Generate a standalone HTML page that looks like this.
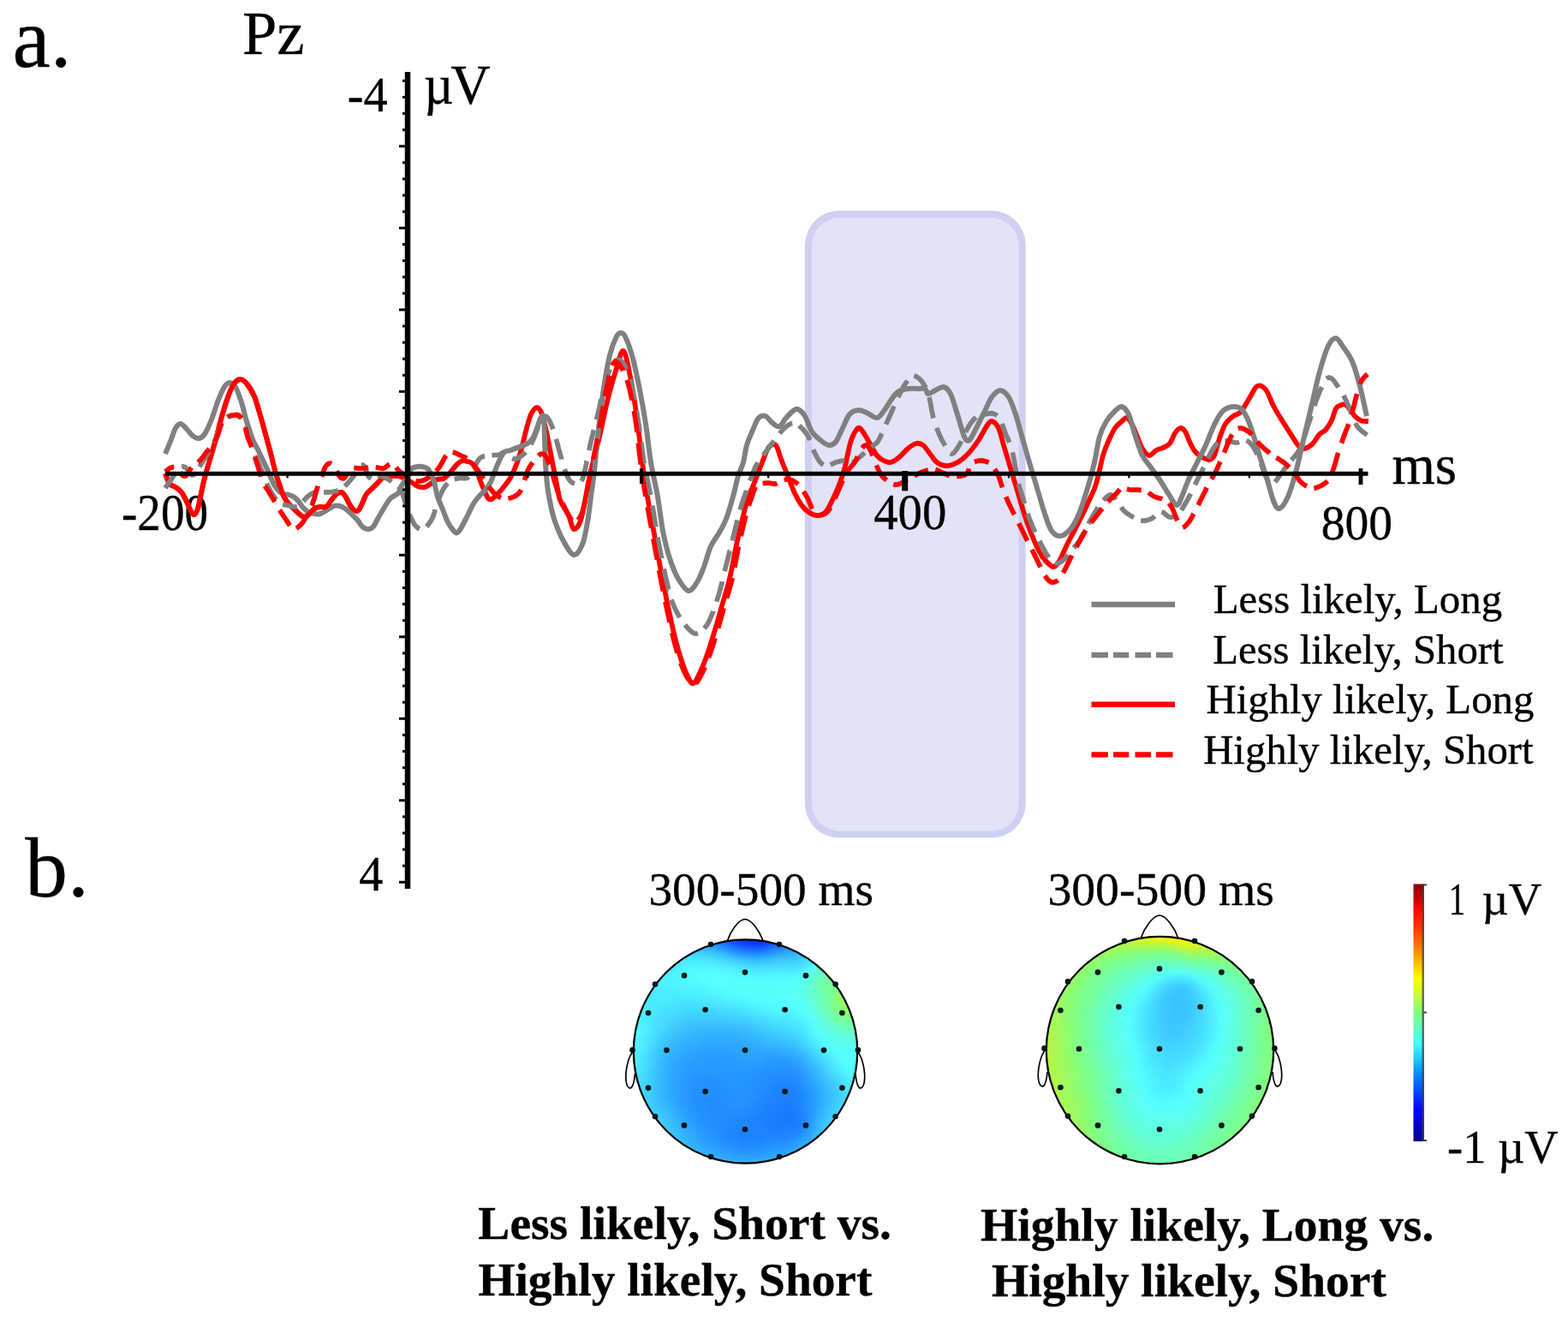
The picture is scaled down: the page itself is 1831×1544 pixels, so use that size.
<!DOCTYPE html>
<html lang="en"><head><meta charset="utf-8"><title>ERP figure</title>
<style>
html,body{margin:0;padding:0;background:#fff;}
body{width:1831px;height:1544px;overflow:hidden;}
svg{display:block;}
text{font-family:"Liberation Serif","Times New Roman",serif;fill:#000;stroke:#000;stroke-width:0.35px;}
.b{font-weight:bold;}
</style></head><body>
<svg width="1831" height="1544" viewBox="0 0 1831 1544">
<defs>
<linearGradient id="jet" x1="0" y1="0" x2="0" y2="1">
<stop offset="0" stop-color="#8a0000"/>
<stop offset="0.05" stop-color="#c00000"/>
<stop offset="0.10" stop-color="#ff0800"/>
<stop offset="0.16" stop-color="#ff3000"/>
<stop offset="0.25" stop-color="#ff8000"/>
<stop offset="0.37" stop-color="#ffff00"/>
<stop offset="0.50" stop-color="#80ff80"/>
<stop offset="0.62" stop-color="#40ffff"/>
<stop offset="0.75" stop-color="#0080ff"/>
<stop offset="0.88" stop-color="#0000ff"/>
<stop offset="1" stop-color="#000090"/>
</linearGradient>
<filter id="hb" x="-10%" y="-10%" width="120%" height="120%" color-interpolation-filters="sRGB"><feGaussianBlur stdDeviation="3.2"/></filter>
<filter id="soft" x="-20%" y="-20%" width="140%" height="140%"><feGaussianBlur stdDeviation="0.45"/></filter>
<clipPath id="clip1"><circle cx="870.5" cy="1228" r="131"/></clipPath>
<clipPath id="clip2"><circle cx="1354.5" cy="1226.6" r="133"/></clipPath>
</defs>
<rect x="0" y="0" width="1831" height="1544" fill="#fff"/>
<g id="window">
<rect x="940" y="246" width="257.7" height="732.6" rx="40" ry="40" fill="#cfd0f1"/>
<rect x="948" y="254.5" width="241.6" height="716" rx="32" ry="32" fill="#e2e3f7"/>
</g>
<g id="labels">
<text x="14.59" y="78.20" font-size="99.44">a.</text>
<text x="29.30" y="1047.30" font-size="99.51">b.</text>
<text x="282.92" y="62.90" font-size="72.51">Pz</text>
<text x="405.73" y="129.90" font-size="56.41">-4</text>
<text x="419.28" y="1040.00" font-size="56.12">4</text>
<text transform="translate(495.01 121.00) scale(0.9201 1)" font-size="65.00">µ</text>
<text transform="translate(526.36 121.00) scale(0.9890 1)" font-size="65.00">V</text>
<text x="1625.40" y="565.30" font-size="64.86">ms</text>
<text transform="translate(141.98 619.30) scale(0.9117 1)" font-size="60.45">-200</text>
<text transform="translate(1020.16 618.20) scale(0.9662 1)" font-size="58.80">400</text>
<text transform="translate(1542.66 629.50) scale(0.9625 1)" font-size="57.75">800</text>
<text x="1416.63" y="716.20" font-size="48.87">Less likely, Long</text>
<text x="1416.14" y="774.50" font-size="48.78">Less likely, Short</text>
<text x="1408.44" y="833.00" font-size="48.78">Highly likely, Long</text>
<text x="1405.14" y="891.50" font-size="48.75">Highly likely, Short</text>
<text x="757.42" y="1057.00" font-size="55.29">300-500 ms</text>
<text x="1223.40" y="1057.00" font-size="55.71">300-500 ms</text>
<text transform="translate(1691.82 1068.40) scale(0.7408 1)" font-size="52.43" font-family="&quot;Liberation Sans&quot;,Arial,sans-serif">1</text>
<text x="1730.51" y="1068.40" font-size="53.70">µV</text>
<text x="1690.11" y="1357.50" font-size="54.39">-1 µV</text>
<text x="558.37" y="1446.60" font-size="55.51" class="b">Less likely, Short vs.</text>
<text x="558.38" y="1512.60" font-size="55.39" class="b">Highly likely, Short</text>
<text x="1145.07" y="1449.00" font-size="55.54" class="b">Highly likely, Long vs.</text>
<text x="1158.08" y="1514.00" font-size="55.47" class="b">Highly likely, Short</text>
</g>
<g id="curves" fill="none" stroke-linejoin="round" stroke-linecap="butt">
<path d="M193.0 553.0 C193.8 555.0 196.0 562.3 198.0 565.0 C200.0 567.7 202.7 567.3 205.0 569.0 C207.3 570.7 209.8 572.2 212.0 575.0 C214.2 577.8 216.2 582.3 218.0 586.0 C219.8 589.7 221.5 594.5 223.0 597.0 C224.5 599.5 225.7 601.5 227.0 601.0 C228.3 600.5 229.7 598.2 231.0 594.0 C232.3 589.8 233.7 582.0 235.0 576.0 C236.3 570.0 237.3 564.5 239.0 558.0 C240.7 551.5 242.8 544.5 245.0 537.0 C247.2 529.5 249.8 520.8 252.0 513.0 C254.2 505.2 255.8 497.7 258.0 490.0 C260.2 482.3 262.7 473.7 265.0 467.0 C267.3 460.3 269.5 454.0 272.0 450.0 C274.5 446.0 277.3 443.3 280.0 443.0 C282.7 442.7 285.2 444.7 288.0 448.0 C290.8 451.3 294.5 457.3 297.0 463.0 C299.5 468.7 300.8 474.7 303.0 482.0 C305.2 489.3 307.7 498.5 310.0 507.0 C312.3 515.5 315.0 525.3 317.0 533.0 C319.0 540.7 320.3 547.2 322.0 553.0 C323.7 558.8 325.5 563.7 327.0 568.0 C328.5 572.3 329.5 575.8 331.0 579.0 C332.5 582.2 334.3 584.8 336.0 587.0 C337.7 589.2 339.3 590.3 341.0 592.0 C342.7 593.7 344.0 595.2 346.0 597.0 C348.0 598.8 351.0 602.0 353.0 603.0 C355.0 604.0 356.2 604.0 358.0 603.0 C359.8 602.0 362.2 598.7 364.0 597.0 C365.8 595.3 367.2 593.8 369.0 593.0 C370.8 592.2 373.0 592.2 375.0 592.0 C377.0 591.8 379.0 593.3 381.0 592.0 C383.0 590.7 385.0 586.5 387.0 584.0 C389.0 581.5 391.0 578.5 393.0 577.0 C395.0 575.5 397.2 574.3 399.0 575.0 C400.8 575.7 402.2 578.2 404.0 581.0 C405.8 583.8 407.8 589.3 410.0 592.0 C412.2 594.7 415.0 597.3 417.0 597.0 C419.0 596.7 420.2 593.3 422.0 590.0 C423.8 586.7 425.8 580.3 428.0 577.0 C430.2 573.7 432.7 572.3 435.0 570.0 C437.3 567.7 440.0 565.0 442.0 563.0 C444.0 561.0 444.7 559.2 447.0 558.0 C449.3 556.8 452.8 556.3 456.0 556.0 C459.2 555.7 462.0 554.8 466.0 556.0 C470.0 557.2 476.3 561.0 480.0 563.0 C483.7 565.0 485.3 567.0 488.0 568.0 C490.7 569.0 493.5 569.5 496.0 569.0 C498.5 568.5 500.7 566.5 503.0 565.0 C505.3 563.5 507.5 561.0 510.0 560.0 C512.5 559.0 515.7 560.0 518.0 559.0 C520.3 558.0 522.3 555.7 524.0 554.0 C525.7 552.3 526.3 551.0 528.0 549.0 C529.7 547.0 532.0 543.8 534.0 542.0 C536.0 540.2 538.0 538.5 540.0 538.0 C542.0 537.5 544.2 538.5 546.0 539.0 C547.8 539.5 549.3 539.5 551.0 541.0 C552.7 542.5 554.3 544.5 556.0 548.0 C557.7 551.5 559.3 557.7 561.0 562.0 C562.7 566.3 564.5 570.7 566.0 574.0 C567.5 577.3 568.7 580.5 570.0 582.0 C571.3 583.5 572.3 583.7 574.0 583.0 C575.7 582.3 577.7 580.3 580.0 578.0 C582.3 575.7 585.3 572.3 588.0 569.0 C590.7 565.7 593.3 562.8 596.0 558.0 C598.7 553.2 601.7 546.3 604.0 540.0 C606.3 533.7 608.2 526.7 610.0 520.0 C611.8 513.3 613.3 506.0 615.0 500.0 C616.7 494.0 618.0 488.0 620.0 484.0 C622.0 480.0 624.8 476.0 627.0 476.0 C629.2 476.0 631.2 479.3 633.0 484.0 C634.8 488.7 636.5 497.3 638.0 504.0 C639.5 510.7 640.7 517.2 642.0 524.0 C643.3 530.8 644.7 538.2 646.0 545.0 C647.3 551.8 648.7 558.5 650.0 565.0 C651.3 571.5 651.7 577.8 654.0 584.0 C656.3 590.2 661.3 596.3 664.0 602.0 C666.7 607.7 667.7 617.0 670.0 618.0 C672.3 619.0 675.7 614.3 678.0 608.0 C680.3 601.7 682.0 589.7 684.0 580.0 C686.0 570.3 687.3 561.7 690.0 550.0 C692.7 538.3 696.7 524.2 700.0 510.0 C703.3 495.8 706.7 478.3 710.0 465.0 C713.3 451.7 717.0 439.2 720.0 430.0 C723.0 420.8 725.3 408.3 728.0 410.0 C730.7 411.7 733.3 426.7 736.0 440.0 C738.7 453.3 741.7 473.3 744.0 490.0 C746.3 506.7 748.0 525.0 750.0 540.0 C752.0 555.0 753.7 566.0 756.0 580.0 C758.3 594.0 761.3 609.3 764.0 624.0 C766.7 638.7 769.3 654.0 772.0 668.0 C774.7 682.0 777.3 695.3 780.0 708.0 C782.7 720.7 785.3 733.3 788.0 744.0 C790.7 754.7 793.3 764.0 796.0 772.0 C798.7 780.0 801.7 787.7 804.0 792.0 C806.3 796.3 807.7 799.3 810.0 798.0 C812.3 796.7 815.3 789.7 818.0 784.0 C820.7 778.3 823.0 772.7 826.0 764.0 C829.0 755.3 833.0 742.0 836.0 732.0 C839.0 722.0 841.3 713.3 844.0 704.0 C846.7 694.7 849.3 687.3 852.0 676.0 C854.7 664.7 857.3 648.3 860.0 636.0 C862.7 623.7 865.7 611.3 868.0 602.0 C870.3 592.7 872.0 586.0 874.0 580.0 C876.0 574.0 877.3 572.7 880.0 566.0 C882.7 559.3 887.0 547.3 890.0 540.0 C893.0 532.7 895.3 525.3 898.0 522.0 C900.7 518.7 903.7 517.7 906.0 520.0 C908.3 522.3 909.7 530.0 912.0 536.0 C914.3 542.0 917.3 549.3 920.0 556.0 C922.7 562.7 925.3 570.3 928.0 576.0 C930.7 581.7 933.3 586.3 936.0 590.0 C938.7 593.7 941.0 596.0 944.0 598.0 C947.0 600.0 950.7 602.0 954.0 602.0 C957.3 602.0 961.0 601.0 964.0 598.0 C967.0 595.0 969.3 589.3 972.0 584.0 C974.7 578.7 977.7 572.0 980.0 566.0 C982.3 560.0 984.3 554.0 986.0 548.0 C987.7 542.0 988.7 535.7 990.0 530.0 C991.3 524.3 992.3 518.7 994.0 514.0 C995.7 509.3 998.3 504.3 1000.0 502.0 C1001.7 499.7 1002.3 499.0 1004.0 500.0 C1005.7 501.0 1007.7 504.3 1010.0 508.0 C1012.3 511.7 1015.7 518.0 1018.0 522.0 C1020.3 526.0 1021.7 529.3 1024.0 532.0 C1026.3 534.7 1029.3 536.7 1032.0 538.0 C1034.7 539.3 1037.0 540.7 1040.0 540.0 C1043.0 539.3 1046.7 536.7 1050.0 534.0 C1053.3 531.3 1056.7 526.7 1060.0 524.0 C1063.3 521.3 1067.0 518.7 1070.0 518.0 C1073.0 517.3 1075.3 518.0 1078.0 520.0 C1080.7 522.0 1083.3 526.7 1086.0 530.0 C1088.7 533.3 1091.0 537.7 1094.0 540.0 C1097.0 542.3 1100.7 543.7 1104.0 544.0 C1107.3 544.3 1110.7 543.3 1114.0 542.0 C1117.3 540.7 1120.7 538.7 1124.0 536.0 C1127.3 533.3 1130.7 530.0 1134.0 526.0 C1137.3 522.0 1141.0 516.7 1144.0 512.0 C1147.0 507.3 1149.7 501.3 1152.0 498.0 C1154.3 494.7 1155.7 491.7 1158.0 492.0 C1160.3 492.3 1163.7 495.3 1166.0 500.0 C1168.3 504.7 1170.0 513.3 1172.0 520.0 C1174.0 526.7 1176.0 533.3 1178.0 540.0 C1180.0 546.7 1182.0 553.3 1184.0 560.0 C1186.0 566.7 1188.0 573.3 1190.0 580.0 C1192.0 586.7 1193.8 593.3 1196.0 600.0 C1198.2 606.7 1200.7 613.8 1203.0 620.0 C1205.3 626.2 1207.7 632.0 1210.0 637.0 C1212.3 642.0 1214.7 646.5 1217.0 650.0 C1219.3 653.5 1221.8 656.0 1224.0 658.0 C1226.2 660.0 1228.0 662.2 1230.0 662.0 C1232.0 661.8 1234.2 659.5 1236.0 657.0 C1237.8 654.5 1239.0 651.2 1241.0 647.0 C1243.0 642.8 1245.5 637.0 1248.0 632.0 C1250.5 627.0 1253.3 622.2 1256.0 617.0 C1258.7 611.8 1261.3 606.5 1264.0 601.0 C1266.7 595.5 1269.3 590.0 1272.0 584.0 C1274.7 578.0 1277.3 573.7 1280.0 565.0 C1282.7 556.3 1285.7 540.2 1288.0 532.0 C1290.3 523.8 1291.7 521.3 1294.0 516.0 C1296.3 510.7 1299.3 504.0 1302.0 500.0 C1304.7 496.0 1307.7 494.0 1310.0 492.0 C1312.3 490.0 1314.0 487.3 1316.0 488.0 C1318.0 488.7 1320.0 492.3 1322.0 496.0 C1324.0 499.7 1326.0 505.3 1328.0 510.0 C1330.0 514.7 1331.7 520.3 1334.0 524.0 C1336.3 527.7 1339.3 531.7 1342.0 532.0 C1344.7 532.3 1347.3 527.5 1350.0 526.0 C1352.7 524.5 1355.3 524.3 1358.0 523.0 C1360.7 521.7 1363.7 520.8 1366.0 518.0 C1368.3 515.2 1370.0 509.0 1372.0 506.0 C1374.0 503.0 1376.0 500.3 1378.0 500.0 C1380.0 499.7 1382.0 501.0 1384.0 504.0 C1386.0 507.0 1388.0 514.0 1390.0 518.0 C1392.0 522.0 1393.7 525.3 1396.0 528.0 C1398.3 530.7 1401.3 532.5 1404.0 534.0 C1406.7 535.5 1409.7 537.3 1412.0 537.0 C1414.3 536.7 1416.0 536.2 1418.0 532.0 C1420.0 527.8 1421.8 518.2 1424.0 512.0 C1426.2 505.8 1428.3 499.3 1431.0 495.0 C1433.7 490.7 1437.0 488.3 1440.0 486.0 C1443.0 483.7 1445.8 484.5 1449.0 481.0 C1452.2 477.5 1455.8 470.0 1459.0 465.0 C1462.2 460.0 1464.8 452.7 1468.0 451.0 C1471.2 449.3 1474.8 451.2 1478.0 455.0 C1481.2 458.8 1483.8 468.0 1487.0 474.0 C1490.2 480.0 1493.8 485.8 1497.0 491.0 C1500.2 496.2 1503.0 500.3 1506.0 505.0 C1509.0 509.7 1512.3 515.8 1515.0 519.0 C1517.7 522.2 1519.2 524.0 1522.0 524.0 C1524.8 524.0 1528.8 521.8 1532.0 519.0 C1535.2 516.2 1538.3 509.8 1541.0 507.0 C1543.7 504.2 1545.7 504.7 1548.0 502.0 C1550.3 499.3 1553.0 495.2 1555.0 491.0 C1557.0 486.8 1558.2 480.0 1560.0 477.0 C1561.8 474.0 1564.2 473.8 1566.0 473.0 C1567.8 472.2 1569.2 471.5 1571.0 472.5 C1572.8 473.5 1575.0 476.6 1577.0 479.0 C1579.0 481.4 1580.8 484.9 1583.0 487.0 C1585.2 489.1 1587.5 490.7 1590.0 491.5 C1592.5 492.3 1596.7 491.9 1598.0 492.0" stroke="#ff0000" stroke-width="5.8"/>
<path d="M193.0 530.0 C194.2 527.2 198.0 518.0 200.0 513.0 C202.0 508.0 203.2 503.0 205.0 500.0 C206.8 497.0 208.8 494.8 211.0 495.0 C213.2 495.2 215.7 498.7 218.0 501.0 C220.3 503.3 222.7 507.2 225.0 509.0 C227.3 510.8 229.7 512.3 232.0 512.0 C234.3 511.7 236.5 510.7 239.0 507.0 C241.5 503.3 244.3 496.7 247.0 490.0 C249.7 483.3 252.5 473.3 255.0 467.0 C257.5 460.7 259.8 455.3 262.0 452.0 C264.2 448.7 265.8 447.0 268.0 447.0 C270.2 447.0 272.7 448.2 275.0 452.0 C277.3 455.8 279.8 463.3 282.0 470.0 C284.2 476.7 285.8 484.8 288.0 492.0 C290.2 499.2 292.7 507.2 295.0 513.0 C297.3 518.8 299.2 521.2 302.0 527.0 C304.8 532.8 309.0 541.5 312.0 548.0 C315.0 554.5 317.7 561.7 320.0 566.0 C322.3 570.3 324.0 572.2 326.0 574.0 C328.0 575.8 330.0 576.3 332.0 577.0 C334.0 577.7 336.0 577.3 338.0 578.0 C340.0 578.7 342.2 579.7 344.0 581.0 C345.8 582.3 347.3 584.0 349.0 586.0 C350.7 588.0 352.2 591.0 354.0 593.0 C355.8 595.0 357.8 596.8 360.0 598.0 C362.2 599.2 364.7 599.7 367.0 600.0 C369.3 600.3 371.3 600.8 374.0 600.0 C376.7 599.2 380.3 596.5 383.0 595.0 C385.7 593.5 387.7 591.7 390.0 591.0 C392.3 590.3 394.8 590.5 397.0 591.0 C399.2 591.5 401.2 592.8 403.0 594.0 C404.8 595.2 406.3 596.5 408.0 598.0 C409.7 599.5 411.3 601.3 413.0 603.0 C414.7 604.7 416.3 606.0 418.0 608.0 C419.7 610.0 421.0 613.3 423.0 615.0 C425.0 616.7 427.8 618.0 430.0 618.0 C432.2 618.0 434.2 617.0 436.0 615.0 C437.8 613.0 439.0 609.5 441.0 606.0 C443.0 602.5 445.5 598.0 448.0 594.0 C450.5 590.0 453.2 585.0 456.0 582.0 C458.8 579.0 462.8 578.5 465.0 576.0 C467.2 573.5 467.2 570.2 469.0 567.0 C470.8 563.8 474.2 560.2 476.0 557.0 C477.8 553.8 478.5 549.9 480.0 548.0 C481.5 546.1 483.3 546.0 485.0 545.5 C486.7 545.0 488.3 544.7 490.0 544.7 C491.7 544.7 493.3 545.0 495.0 545.5 C496.7 546.0 498.5 546.4 500.0 548.0 C501.5 549.6 502.8 552.5 504.0 555.0 C505.2 557.5 505.8 558.8 507.0 563.0 C508.2 567.2 509.3 574.7 511.0 580.0 C512.7 585.3 515.0 590.0 517.0 595.0 C519.0 600.0 521.0 606.0 523.0 610.0 C525.0 614.0 527.3 616.9 529.0 619.0 C530.7 621.1 531.7 622.5 533.0 622.5 C534.3 622.5 535.7 620.8 537.0 619.0 C538.3 617.2 539.3 615.2 541.0 612.0 C542.7 608.8 545.0 604.0 547.0 600.0 C549.0 596.0 550.8 591.5 553.0 588.0 C555.2 584.5 557.7 581.7 560.0 579.0 C562.3 576.3 564.8 574.7 567.0 572.0 C569.2 569.3 571.2 566.7 573.0 563.0 C574.8 559.3 576.3 554.2 578.0 550.0 C579.7 545.8 581.2 541.7 583.0 538.0 C584.8 534.3 586.8 530.0 589.0 528.0 C591.2 526.0 593.2 527.0 596.0 526.0 C598.8 525.0 602.7 523.3 606.0 522.0 C609.3 520.7 613.3 519.7 616.0 518.0 C618.7 516.3 620.2 515.0 622.0 512.0 C623.8 509.0 625.5 503.8 627.0 500.0 C628.5 496.2 629.8 491.3 631.0 489.0 C632.2 486.7 633.2 484.7 634.0 486.0 C634.8 487.3 635.1 491.3 635.5 497.0 C635.9 502.7 636.0 512.0 636.3 520.0 C636.6 528.0 636.7 536.7 637.2 545.0 C637.7 553.3 638.5 562.5 639.5 570.0 C640.5 577.5 641.6 583.5 643.0 590.0 C644.4 596.5 645.5 602.0 648.0 609.0 C650.5 616.0 654.3 625.5 658.0 632.0 C661.7 638.5 666.3 647.3 670.0 648.0 C673.7 648.7 677.3 642.3 680.0 636.0 C682.7 629.7 684.3 619.3 686.0 610.0 C687.7 600.7 688.7 590.0 690.0 580.0 C691.3 570.0 692.7 561.7 694.0 550.0 C695.3 538.3 696.3 525.0 698.0 510.0 C699.7 495.0 701.7 475.8 704.0 460.0 C706.3 444.2 709.3 426.2 712.0 415.0 C714.7 403.8 717.8 397.3 720.0 393.0 C722.2 388.7 723.3 389.0 725.0 389.0 C726.7 389.0 727.8 388.7 730.0 393.0 C732.2 397.3 735.3 405.5 738.0 415.0 C740.7 424.5 743.3 436.7 746.0 450.0 C748.7 463.3 751.7 480.0 754.0 495.0 C756.3 510.0 757.7 525.8 760.0 540.0 C762.3 554.2 765.7 566.7 768.0 580.0 C770.3 593.3 771.7 608.0 774.0 620.0 C776.3 632.0 779.0 642.7 782.0 652.0 C785.0 661.3 788.3 669.7 792.0 676.0 C795.7 682.3 800.3 689.3 804.0 690.0 C807.7 690.7 811.0 684.7 814.0 680.0 C817.0 675.3 819.3 669.0 822.0 662.0 C824.7 655.0 827.0 644.7 830.0 638.0 C833.0 631.3 837.0 627.3 840.0 622.0 C843.0 616.7 845.3 613.0 848.0 606.0 C850.7 599.0 853.7 588.3 856.0 580.0 C858.3 571.7 860.0 562.7 862.0 556.0 C864.0 549.3 866.3 546.0 868.0 540.0 C869.7 534.0 870.0 526.7 872.0 520.0 C874.0 513.3 877.7 505.3 880.0 500.0 C882.3 494.7 883.7 490.3 886.0 488.0 C888.3 485.7 891.3 485.0 894.0 486.0 C896.7 487.0 899.3 492.0 902.0 494.0 C904.7 496.0 907.3 499.0 910.0 498.0 C912.7 497.0 915.3 491.0 918.0 488.0 C920.7 485.0 923.7 481.7 926.0 480.0 C928.3 478.3 929.7 477.0 932.0 478.0 C934.3 479.0 937.3 481.7 940.0 486.0 C942.7 490.3 945.0 499.3 948.0 504.0 C951.0 508.7 954.7 511.3 958.0 514.0 C961.3 516.7 965.0 519.7 968.0 520.0 C971.0 520.3 973.3 519.3 976.0 516.0 C978.7 512.7 981.3 505.3 984.0 500.0 C986.7 494.7 989.0 487.5 992.0 484.0 C995.0 480.5 998.7 479.3 1002.0 479.0 C1005.3 478.7 1008.3 480.5 1012.0 482.0 C1015.7 483.5 1020.7 488.3 1024.0 488.0 C1027.3 487.7 1029.3 483.3 1032.0 480.0 C1034.7 476.7 1037.3 471.7 1040.0 468.0 C1042.7 464.3 1044.7 460.3 1048.0 458.0 C1051.3 455.7 1056.0 454.7 1060.0 454.0 C1064.0 453.3 1068.7 454.0 1072.0 454.0 C1075.3 454.0 1078.0 453.0 1080.0 454.0 C1082.0 455.0 1082.0 459.7 1084.0 460.0 C1086.0 460.3 1089.0 457.3 1092.0 456.0 C1095.0 454.7 1099.0 451.3 1102.0 452.0 C1105.0 452.7 1107.3 454.7 1110.0 460.0 C1112.7 465.3 1115.3 475.7 1118.0 484.0 C1120.7 492.3 1123.7 505.0 1126.0 510.0 C1128.3 515.0 1129.7 515.7 1132.0 514.0 C1134.3 512.3 1137.0 505.7 1140.0 500.0 C1143.0 494.3 1147.0 486.0 1150.0 480.0 C1153.0 474.0 1155.0 468.0 1158.0 464.0 C1161.0 460.0 1164.7 456.0 1168.0 456.0 C1171.3 456.0 1175.0 459.3 1178.0 464.0 C1181.0 468.7 1183.3 476.0 1186.0 484.0 C1188.7 492.0 1191.3 502.7 1194.0 512.0 C1196.7 521.3 1199.7 532.0 1202.0 540.0 C1204.3 548.0 1206.0 553.3 1208.0 560.0 C1210.0 566.7 1212.0 573.3 1214.0 580.0 C1216.0 586.7 1217.7 593.3 1220.0 600.0 C1222.3 606.7 1225.0 615.7 1228.0 620.0 C1231.0 624.3 1234.3 626.3 1238.0 626.0 C1241.7 625.7 1246.3 622.3 1250.0 618.0 C1253.7 613.7 1256.7 608.0 1260.0 600.0 C1263.3 592.0 1267.0 580.0 1270.0 570.0 C1273.0 560.0 1275.7 550.0 1278.0 540.0 C1280.3 530.0 1281.7 518.0 1284.0 510.0 C1286.3 502.0 1289.0 497.0 1292.0 492.0 C1295.0 487.0 1299.0 482.8 1302.0 480.0 C1305.0 477.2 1307.3 474.3 1310.0 475.0 C1312.7 475.7 1315.3 478.2 1318.0 484.0 C1320.7 489.8 1323.3 502.0 1326.0 510.0 C1328.7 518.0 1331.0 526.0 1334.0 532.0 C1337.0 538.0 1340.7 541.3 1344.0 546.0 C1347.3 550.7 1350.7 555.0 1354.0 560.0 C1357.3 565.0 1360.7 571.0 1364.0 576.0 C1367.3 581.0 1371.3 589.3 1374.0 590.0 C1376.7 590.7 1377.7 585.0 1380.0 580.0 C1382.3 575.0 1385.0 566.7 1388.0 560.0 C1391.0 553.3 1394.7 546.7 1398.0 540.0 C1401.3 533.3 1404.7 527.3 1408.0 520.0 C1411.3 512.7 1414.7 502.7 1418.0 496.0 C1421.3 489.3 1424.3 483.5 1428.0 480.0 C1431.7 476.5 1436.3 475.3 1440.0 475.0 C1443.7 474.7 1447.0 475.2 1450.0 478.0 C1453.0 480.8 1455.3 485.7 1458.0 492.0 C1460.7 498.3 1463.8 509.2 1466.0 516.0 C1468.2 522.8 1468.7 525.5 1471.0 533.0 C1473.3 540.5 1477.3 552.3 1480.0 561.0 C1482.7 569.7 1484.7 579.5 1487.0 585.0 C1489.3 590.5 1491.2 594.8 1494.0 594.0 C1496.8 593.2 1500.8 587.0 1504.0 580.0 C1507.2 573.0 1510.0 563.0 1513.0 552.0 C1516.0 541.0 1518.8 527.3 1522.0 514.0 C1525.2 500.7 1528.8 485.3 1532.0 472.0 C1535.2 458.7 1537.8 445.3 1541.0 434.0 C1544.2 422.7 1547.8 410.5 1551.0 404.0 C1554.2 397.5 1557.0 394.7 1560.0 395.0 C1563.0 395.3 1565.8 401.5 1569.0 406.0 C1572.2 410.5 1575.8 414.5 1579.0 422.0 C1582.2 429.5 1585.2 440.3 1588.0 451.0 C1590.8 461.7 1594.7 480.2 1596.0 486.0" stroke="#808080" stroke-width="6.0"/>
<path d="M193.0 553.0 C193.8 555.0 196.0 562.3 198.0 565.0 C200.0 567.7 202.7 567.3 205.0 569.0 C207.3 570.7 209.8 572.2 212.0 575.0 C214.2 577.8 216.2 582.3 218.0 586.0 C219.8 589.7 221.5 594.5 223.0 597.0 C224.5 599.5 225.7 601.5 227.0 601.0 C228.3 600.5 229.7 598.2 231.0 594.0 C232.3 589.8 233.7 582.0 235.0 576.0 C236.3 570.0 237.3 564.5 239.0 558.0 C240.7 551.5 242.8 544.5 245.0 537.0 C247.2 529.5 249.8 520.8 252.0 513.0 C254.2 505.2 255.8 497.7 258.0 490.0 C260.2 482.3 262.7 473.7 265.0 467.0 C267.3 460.3 269.5 454.0 272.0 450.0 C274.5 446.0 277.3 443.3 280.0 443.0 C282.7 442.7 285.2 444.7 288.0 448.0 C290.8 451.3 294.5 457.3 297.0 463.0 C299.5 468.7 300.8 474.7 303.0 482.0 C305.2 489.3 307.7 498.5 310.0 507.0 C312.3 515.5 315.0 525.3 317.0 533.0 C319.0 540.7 320.3 547.2 322.0 553.0 C323.7 558.8 325.5 563.7 327.0 568.0 C328.5 572.3 329.5 575.8 331.0 579.0 C332.5 582.2 334.3 584.8 336.0 587.0 C337.7 589.2 339.3 590.3 341.0 592.0 C342.7 593.7 344.0 595.2 346.0 597.0 C348.0 598.8 351.0 602.0 353.0 603.0 C355.0 604.0 356.2 604.0 358.0 603.0 C359.8 602.0 362.2 598.7 364.0 597.0 C365.8 595.3 367.2 593.8 369.0 593.0 C370.8 592.2 373.0 592.2 375.0 592.0 C377.0 591.8 379.0 593.3 381.0 592.0 C383.0 590.7 385.0 586.5 387.0 584.0 C389.0 581.5 391.0 578.5 393.0 577.0 C395.0 575.5 397.2 574.3 399.0 575.0 C400.8 575.7 402.2 578.2 404.0 581.0 C405.8 583.8 407.8 589.3 410.0 592.0 C412.2 594.7 415.0 597.3 417.0 597.0 C419.0 596.7 420.2 593.3 422.0 590.0 C423.8 586.7 425.8 580.3 428.0 577.0 C430.2 573.7 432.7 572.3 435.0 570.0 C437.3 567.7 440.0 565.0 442.0 563.0 C444.0 561.0 444.7 559.2 447.0 558.0 C449.3 556.8 452.8 556.3 456.0 556.0 C459.2 555.7 464.3 556.0 466.0 556.0" stroke="#ff0000" stroke-width="5.8"/>
<path d="M193.0 570.0L193.9 568.7L195.2 566.8L196.8 564.6L198.4 562.3L200.0 560.0L201.3 558.0L202.6 555.8L204.0 553.6L205.0 552.0M212.1 545.3L214.0 544.9L216.1 545.5L218.1 547.6L220.0 550.0L222.0 552.6L223.9 554.8L225.8 554.7L226.7 553.9M232.9 545.2L233.7 544.0L235.1 541.7L236.5 539.4L238.0 537.0L239.3 534.9L240.7 532.8L242.1 530.6L243.4 528.3L244.5 526.6M249.9 516.7L250.5 515.4L251.5 513.2L252.4 510.9L253.3 508.5L254.1 506.1L254.9 503.6L255.7 501.2L256.6 499.0L257.6 496.8L258.6 494.9M265.2 487.1L267.6 485.8L270.0 485.0L272.6 484.8L275.4 485.1L278.0 486.0L280.1 487.1L281.6 488.2M287.3 497.4L288.1 499.8L288.9 502.3L289.6 504.8L290.4 507.2L291.0 509.5L291.7 511.8L292.3 514.2L293.0 516.5L293.6 518.8L294.2 520.6M298.2 531.9L299.0 534.0L300.0 536.5L301.0 538.9L302.0 541.3L303.0 543.6L304.0 546.0L305.0 548.4L306.0 550.8L307.0 553.2L307.2 553.6M311.6 564.5L312.4 566.5L313.5 568.9L314.6 571.2L315.9 573.6L317.2 575.8L318.6 578.0L320.0 580.0L321.7 582.3L322.7 583.6M330.1 589.2L332.1 589.6L335.0 590.0L337.4 590.6L340.1 591.4L342.7 591.9L345.0 592.0L347.0 591.5M354.4 585.4L355.4 584.1L357.1 581.9L359.0 580.0L361.1 578.4L363.3 577.0L365.6 575.8L368.0 575.0L369.5 574.7M378.0 575.0L379.1 575.0L381.5 574.9L384.0 574.8L386.5 574.6L388.9 574.2L391.3 573.7L393.8 573.2L394.9 572.8M402.6 567.7L404.4 566.0L406.3 564.0L408.2 561.9L410.0 559.8L411.6 557.8L413.0 556.0L414.6 553.4L415.6 551.5M421.7 543.2L423.9 543.2L425.5 544.7L426.6 546.9L427.6 549.8L428.5 552.7L429.5 555.1L431.2 557.5L433.5 558.9M441.2 555.1L443.5 555.5L446.2 556.4L448.8 557.5L451.2 558.6L453.5 559.8L455.6 561.2L457.4 562.5M465.1 568.1L466.3 569.4L468.0 572.0L468.9 573.8L469.7 575.8L470.5 578.1L471.3 580.6L472.1 583.2L472.9 585.8L473.6 588.4L473.9 589.4M477.9 600.7L478.7 602.5L479.6 604.3L480.5 606.1L481.7 608.3L483.1 610.9L484.5 613.2L486.0 615.0L488.3 616.8L490.0 617.6M498.0 615.0L499.4 613.5L500.9 611.6L502.4 609.6L503.8 607.3L505.0 605.0L505.9 602.8L506.7 600.4L507.4 597.9L508.0 595.5L508.1 595.1M511.9 583.7L512.5 582.3L513.5 579.9L514.4 577.7L515.5 575.4L516.6 573.1L517.8 571.0L519.0 569.0L520.6 566.8L522.3 564.9L522.8 564.4M530.6 559.6L531.9 559.3L534.5 558.9L537.0 558.5L539.7 558.4L542.4 558.6L544.9 558.4L546.9 557.4L547.3 557.0M553.2 547.8L554.3 545.5L555.4 543.1L556.4 540.9L557.8 538.7L559.2 536.5L560.9 534.7L563.0 533.6L565.3 532.9L566.0 532.8M574.4 531.8L575.7 531.7L578.3 531.5L580.8 531.3L583.0 531.0L585.5 529.7L587.6 528.3L590.0 528.0L591.0 528.5M598.1 535.3L600.0 536.0L602.1 535.9L604.3 535.2L606.6 534.1L608.8 532.7L611.0 530.9L612.7 529.3L613.8 528.1M619.8 519.1L620.8 517.3L622.0 515.0L623.0 512.8L624.1 510.4L625.1 507.9L626.0 505.3L626.9 502.7L627.9 500.2L628.7 497.9L628.9 497.6M634.1 487.5L634.7 486.8L636.0 486.0L637.7 486.3L639.4 487.9L641.1 490.5L642.4 492.8L643.3 494.7L644.1 496.7L645.0 499.0L645.8 501.3M649.4 512.8L649.9 514.6L650.5 516.9L651.2 519.4L651.8 521.8L652.4 524.2L653.1 526.6L653.7 528.9L654.4 531.2L655.1 533.8L655.8 536.3L655.8 536.5M659.3 548.1L660.0 550.0L661.1 552.8L662.1 555.3L663.1 557.6L664.2 559.6L665.4 561.3L667.1 563.0L669.4 564.3L671.1 564.8M679.0 561.9L680.0 560.0L680.6 558.4L681.2 556.4L681.8 554.2L682.4 551.8L683.0 549.3L683.6 546.6L684.1 544.0L684.7 541.3L685.2 538.9L685.4 538.4M687.8 526.2L688.3 523.9L688.8 521.4L689.4 518.7L690.0 516.0L690.5 513.9L691.0 511.7L691.6 509.5L692.2 507.2L692.7 504.8L693.3 502.4L693.4 502.1M696.5 490.2L696.8 488.9L697.4 486.5L698.0 484.0L698.6 481.7L699.1 479.3L699.7 476.9L700.2 474.4L700.8 472.0L701.3 469.5L701.9 467.0L702.1 466.1M704.9 454.1L705.2 453.0L705.7 451.0L706.4 448.5L707.3 445.7L708.1 443.0L708.9 440.4L709.8 438.0L710.6 435.7L711.5 433.5L712.3 431.5L712.4 431.3M718.1 422.0L719.3 421.0L721.1 420.1L722.9 420.1L724.7 420.9L726.4 422.5L728.2 424.8L730.0 428.0L730.8 429.6L731.5 431.3L731.7 431.6M735.6 442.9L736.1 444.6L736.9 447.4L737.6 450.4L738.2 452.9L738.7 454.9L739.1 456.9L739.5 459.1L740.0 461.3L740.4 463.6L740.9 466.0L741.1 467.0M743.3 479.3L743.6 481.0L744.0 483.6L744.4 486.1L744.8 488.6L745.2 491.1L745.6 493.6L746.0 496.0L746.4 498.4L746.7 500.8L747.1 503.2L747.2 504.1M748.8 516.6L749.1 518.9L749.4 521.3L749.7 523.6L750.0 526.0L750.3 528.4L750.6 530.8L750.9 533.1L751.3 535.4L751.6 537.7L752.0 540.0L752.3 541.6M754.6 553.8L755.0 555.7L755.5 558.0L756.0 560.3L756.5 562.7L757.0 565.0L757.5 567.4L758.0 569.8L758.5 572.3L759.0 574.8L759.5 577.4L759.7 578.2M761.8 590.5L762.2 592.8L762.6 595.3L763.0 597.8L763.4 600.3L763.8 602.8L764.2 605.2L764.6 607.7L765.0 610.2L765.4 612.7L765.8 615.2L765.8 615.3M767.9 627.6L768.2 629.3L768.7 632.0L769.2 634.6L769.7 637.2L770.2 639.7L770.7 642.2L771.2 644.7L771.6 647.2L772.1 649.6L772.6 652.0L772.6 652.1M775.2 664.3L775.5 665.8L776.0 668.0L776.6 670.7L777.2 673.3L777.8 675.9L778.4 678.5L779.0 681.0L779.6 683.5L780.1 686.0L780.7 688.4L780.8 688.4M784.0 700.2L785.0 703.0L786.0 705.6L787.0 708.0L788.0 710.2L789.0 712.3L790.0 714.2L791.0 716.1L792.0 718.0L793.3 720.4L793.7 721.1M799.8 729.8L800.8 730.9L802.5 732.8L804.3 734.8L806.2 736.7L808.2 738.3L810.1 739.5L812.0 740.0L814.0 739.8L814.9 739.5M822.4 733.8L824.0 732.0L825.4 730.2L826.6 728.2L827.7 726.1L828.8 723.8L829.8 721.4L830.9 718.8L832.0 716.0L832.8 714.1L832.8 713.9M836.8 702.7L837.3 700.9L838.1 698.4L838.9 695.9L839.6 693.3L840.3 691.0L840.9 688.8L841.5 686.6L842.1 684.3L842.7 681.9L843.3 679.5L843.3 679.2M846.2 667.2L846.8 664.8L847.4 662.4L848.0 660.0L848.6 657.6L849.2 655.3L849.8 652.9L850.4 650.5L851.0 648.1L851.6 645.8L852.1 643.4L852.2 643.3M855.2 631.3L855.7 629.2L856.3 626.8L856.9 624.4L857.5 622.0L858.1 619.5L858.7 617.0L859.3 614.6L859.9 612.1L860.4 609.7L861.0 607.4M864.1 595.5L864.8 593.4L865.6 590.8L866.3 588.3L867.1 585.9L867.9 583.6L868.7 581.3L869.5 579.1L870.2 577.0L871.0 574.9L871.7 573.0L871.7 572.7M875.8 561.6L876.3 560.2L877.2 558.1L878.0 556.0L878.9 553.6L879.6 551.5L880.4 549.4L881.3 547.2L882.4 544.8L884.0 542.0L885.1 540.3M891.2 531.5L892.2 530.3L893.8 528.2L895.4 526.1L897.0 524.0L898.5 522.0L900.0 520.0L901.5 518.0L903.1 515.9L904.0 514.7M910.4 506.3L911.7 504.6L913.2 502.9L914.6 501.4L916.0 500.0L918.5 497.9L920.8 496.3L923.0 495.1L925.1 494.4L925.2 494.4M933.2 497.0L935.0 499.0L936.8 500.8L938.5 502.5L940.1 504.4L941.7 506.4L943.3 508.7L944.5 511.0L945.4 513.1L945.7 513.9M949.6 525.2L950.5 527.2L951.7 529.6L952.9 532.0L954.2 534.3L955.5 536.5L956.7 538.4L958.0 540.0L960.2 542.1L961.5 542.9M969.8 542.9L972.2 541.7L974.7 540.5L977.2 539.6L979.8 538.9L982.2 538.4L984.8 538.0L986.4 538.0M994.8 540.2L997.0 539.6L998.9 538.5L1000.8 536.9L1002.7 535.0L1004.8 533.0L1006.8 531.3L1008.7 529.8L1009.8 528.8M1017.2 522.5L1018.5 521.3L1020.0 520.0L1022.1 518.4L1023.4 517.7L1024.9 515.9L1026.4 513.3L1027.3 511.5L1028.3 509.5L1029.3 507.3L1029.8 506.3M1034.6 495.7L1035.5 493.5L1036.6 491.1L1037.6 489.0L1038.6 486.7L1039.7 484.2L1040.7 481.9L1041.7 479.7L1042.6 477.6L1043.5 475.5L1044.0 474.4M1048.8 464.0L1049.8 461.9L1051.0 459.4L1052.2 457.1L1053.3 454.8L1054.4 452.7L1055.5 450.8L1056.9 448.6L1058.7 446.3L1059.9 444.8M1067.3 438.9L1068.8 439.3L1070.7 440.3L1072.8 441.7L1075.0 443.8L1076.6 445.8L1077.8 447.4L1078.9 449.2L1080.1 451.1L1081.0 452.8M1085.1 464.0L1085.4 465.3L1085.9 467.8L1086.4 470.3L1086.9 472.9L1087.4 475.5L1087.8 478.2L1088.3 480.8L1088.9 483.3L1089.4 485.7L1090.0 488.0L1090.1 488.3M1093.8 499.8L1094.5 501.6L1095.4 503.8L1096.3 506.0L1097.1 508.1L1098.0 510.0L1099.3 512.7L1100.5 515.2L1101.8 517.5L1103.1 519.6L1103.7 520.5M1109.8 529.3L1111.1 530.1L1112.7 529.7L1114.2 528.5L1115.8 526.6L1117.4 524.2L1119.1 521.5L1120.5 519.1L1121.6 517.2L1122.5 515.2M1127.5 504.7L1128.3 503.0L1129.4 501.0L1130.8 498.7L1132.3 496.3L1133.8 494.0L1135.4 491.9L1136.9 490.0L1138.5 488.4L1139.7 487.3M1147.9 484.3L1150.0 484.0L1152.5 483.4L1155.1 482.9L1157.6 482.6L1160.0 483.0L1162.2 484.0L1164.2 485.4L1164.4 485.6M1170.2 494.8L1170.7 496.3L1171.5 498.8L1172.3 501.3L1173.2 503.7L1174.0 506.0L1175.0 508.4L1176.1 510.7L1177.1 513.0L1178.1 515.3L1178.8 516.7M1182.3 528.3L1182.8 530.4L1183.4 533.1L1184.0 536.0L1184.4 538.1L1184.8 540.4L1185.1 542.7L1185.5 545.2L1185.9 547.8L1186.3 550.3L1186.7 552.8L1186.7 552.9M1189.3 565.0L1190.0 567.4L1190.7 569.7L1191.4 572.0L1192.2 574.2L1192.9 576.5L1193.6 578.8L1194.3 581.2L1195.0 583.5L1195.7 585.9L1196.4 588.2M1199.9 599.8L1200.4 601.2L1201.3 603.6L1202.2 606.0L1203.2 608.4L1204.1 610.9L1205.1 613.2L1206.1 615.6L1207.0 617.8L1208.0 620.0L1208.7 621.6M1213.8 631.8L1214.9 633.9L1216.0 636.0L1217.2 638.3L1218.4 640.7L1219.6 642.9L1220.8 645.1L1222.0 647.2L1223.3 649.1L1224.9 651.1M1232.2 657.5L1234.0 658.0L1236.3 657.7L1238.6 656.5L1240.8 654.8L1243.0 652.9L1244.9 651.2L1246.5 649.3L1247.4 648.2M1253.8 639.9L1255.0 638.6L1256.5 636.9L1258.1 634.8L1260.0 632.0L1261.0 630.3L1262.1 628.3L1263.3 626.2L1264.5 624.0L1265.7 621.8M1271.0 611.8L1272.0 610.0L1273.3 607.8L1274.5 605.5L1275.8 603.3L1277.1 601.0L1278.3 598.8L1279.6 596.7L1280.8 594.6L1282.1 592.7L1282.1 592.6M1288.6 584.3L1290.2 582.4L1292.0 580.6L1293.7 579.2L1295.3 578.3L1297.2 577.8L1299.3 578.7L1301.2 580.5L1303.0 582.8L1303.3 583.2M1309.3 592.2L1310.0 593.3L1311.3 595.2L1313.0 597.0L1314.8 598.7L1316.7 600.0L1318.8 601.3L1320.9 602.6L1323.0 603.9L1324.0 604.5M1332.1 608.0L1334.4 608.2L1336.8 608.1L1339.2 607.6L1341.6 606.9L1344.0 606.0L1346.0 604.9L1348.1 603.3L1348.5 602.9M1356.2 598.0L1358.4 598.6L1360.6 600.3L1362.7 602.2L1364.9 603.7L1367.2 604.1L1369.8 603.7L1372.2 602.8M1379.4 596.0L1380.7 594.0L1382.0 591.9L1383.3 589.6L1384.7 587.3L1386.0 585.0L1387.1 583.0L1388.2 580.9L1389.3 578.7L1390.4 576.6M1395.4 566.3L1396.0 565.0L1397.1 562.8L1398.2 560.6L1399.3 558.3L1400.4 556.1L1401.6 553.9L1402.7 551.7L1403.8 549.4L1404.9 547.2L1405.6 545.9M1410.5 535.5L1411.1 534.3L1412.3 532.0L1413.4 529.8L1414.4 527.7L1415.5 525.8L1416.9 523.6L1418.5 521.2L1420.0 519.3L1421.5 517.8L1422.2 517.2M1430.4 514.8L1432.7 514.9L1435.2 515.1L1437.8 515.8L1440.2 516.5L1442.8 517.0L1445.3 516.8L1447.2 516.1M1455.5 514.4L1457.1 515.2L1459.1 516.7L1461.0 518.8L1462.6 520.8L1463.7 522.5L1464.9 524.4L1466.0 526.6L1467.1 528.8L1468.1 530.8M1472.6 541.6L1473.2 543.2L1474.1 545.8L1475.0 548.4L1475.9 550.8L1476.7 553.1L1477.6 555.1L1478.7 557.5L1480.1 560.4L1481.4 562.9L1481.6 563.2M1488.9 563.0L1490.6 560.8L1492.3 558.3L1494.0 556.0L1495.3 554.2L1496.7 552.4L1498.0 550.5L1499.4 548.5L1500.8 546.4L1501.4 545.6M1507.9 537.4L1509.0 536.1L1510.6 534.4L1512.2 532.6L1513.7 530.6L1515.2 528.6L1516.7 526.4L1518.0 524.0L1518.9 522.1L1519.8 520.0L1519.9 519.7M1523.8 508.4L1524.6 506.0L1525.3 503.5L1526.1 501.0L1526.8 498.6L1527.6 496.2L1528.4 493.9L1529.2 491.5L1530.0 489.1L1530.7 486.7L1531.2 485.4M1534.9 474.0L1535.5 472.2L1536.2 470.0L1536.9 467.9L1537.7 465.9L1538.6 463.5L1539.7 460.7L1540.7 458.1L1541.8 455.6L1542.8 453.4L1543.5 452.0M1549.0 442.4L1550.2 441.4L1552.2 440.8L1554.7 441.9L1556.7 443.7L1558.1 445.4L1559.6 447.5L1561.2 449.8L1562.7 452.0L1563.0 452.5M1568.9 461.8L1569.6 463.1L1570.7 465.4L1571.9 467.8L1572.9 470.2L1574.0 472.6L1575.0 475.0L1576.0 477.4L1576.9 479.9L1577.8 482.3L1578.1 483.1M1582.7 493.9L1583.3 495.1L1584.4 497.1L1585.8 499.1L1587.4 500.9L1589.2 502.5L1591.0 504.0L1593.1 505.6L1595.4 507.3L1596.5 508.0" stroke="#808080" stroke-width="5.7"/>
<path d="M193.0 551.0L194.5 549.8L196.6 548.0L198.9 546.4L201.4 545.7L203.2 545.7M210.4 551.5L211.6 553.4L213.0 555.0L215.6 556.0L218.0 555.0L219.4 553.2L220.7 550.7L222.2 548.1L223.8 546.2M231.2 539.9L232.7 538.5L234.4 536.8L236.0 535.0L237.4 533.2L238.6 531.3L240.1 529.2L241.7 527.2L243.3 525.5L244.5 524.3M251.0 516.2L251.8 514.5L252.8 512.1L253.7 509.7L254.6 507.2L255.4 504.8L256.2 502.2L256.9 499.6L257.7 497.2L258.5 495.0L259.1 493.8M266.3 487.2L268.4 486.1L270.8 485.3L273.4 484.7L276.3 484.2L279.0 485.0L280.4 486.3L281.8 488.0L282.2 488.5M286.5 499.3L287.0 501.3L287.6 504.0L288.1 506.6L288.7 508.9L289.5 511.5L290.4 513.7L291.3 515.7L292.4 518.3L293.3 520.9L293.8 522.3M297.6 533.6L298.4 536.1L299.2 538.6L300.0 541.0L300.7 543.3L301.5 545.8L302.2 548.3L303.0 550.8L303.7 553.3L304.5 555.7L304.8 556.7M309.3 567.5L310.4 569.2L311.7 571.0L313.0 573.0L314.4 575.2L315.7 577.5L317.1 579.7L318.4 581.9L319.7 584.2L320.8 586.2M326.4 595.8L327.3 597.0L328.6 599.0L330.0 601.0L331.4 603.0L332.7 605.1L334.1 607.1L335.4 609.1L336.8 611.2L338.2 613.5L338.4 613.8M346.0 617.0L347.9 615.9L350.0 614.1L352.0 612.0L353.4 610.3L354.7 608.3L356.1 606.2L357.4 604.1L358.6 601.9L359.1 601.1M363.9 590.7L364.4 589.5L365.3 587.1L366.1 584.7L367.0 582.0L367.7 579.8L368.3 577.5L368.9 575.1L369.6 572.6L370.3 570.3L371.0 568.0L371.1 567.6M375.7 556.8L376.5 554.7L377.3 552.0L378.1 549.4L379.0 547.0L380.0 545.0L381.9 542.7L383.9 541.3L386.0 541.0L387.1 541.6M393.3 550.2L394.0 551.5L395.2 554.0L396.4 556.2L398.4 558.5L401.0 559.0L402.6 557.6L404.3 555.3L406.0 553.0L406.2 552.7M413.3 546.6L415.4 546.6L418.1 546.8L420.7 547.0L423.0 547.0L425.8 546.8L428.4 546.4L430.2 546.2M438.7 545.9L441.3 546.2L444.1 546.8L446.7 547.2L449.1 546.5L451.2 545.0L453.2 543.2L454.9 542.1M462.6 545.9L464.1 548.0L465.9 549.9L467.8 551.5L469.8 553.1L471.9 554.6L473.7 556.1L475.8 557.6L477.2 558.5M485.5 561.7L487.5 562.0L490.0 562.0L492.5 561.6L494.9 560.8L497.4 559.6L500.0 558.0L501.8 556.7L501.8 556.7M509.1 550.2L510.3 549.0L512.0 547.0L513.5 545.0L514.8 542.7L516.2 540.3L517.4 537.9L518.7 535.6L519.8 533.6L521.0 532.0M528.7 528.1L530.1 528.4L532.6 529.4L535.2 530.6L537.7 531.9L540.0 533.0L542.4 534.0L544.6 534.9L545.0 535.2M552.3 541.6L553.5 543.2L555.1 545.2L556.7 547.4L558.4 549.7L560.0 552.0L561.3 553.9L562.6 555.9L564.0 558.0L564.7 559.1M570.6 568.2L571.4 569.2L573.0 571.2L574.8 573.5L576.6 575.5L578.3 577.3L580.1 578.8L582.0 580.0L584.3 581.0L585.0 581.3M593.4 582.1L595.1 581.8L597.4 581.2L599.8 580.3L602.1 579.1L604.2 577.7L606.0 576.0L607.4 574.1L608.5 572.0M612.5 560.8L613.3 558.4L614.1 556.0L614.8 553.5L615.6 551.2L616.5 549.0L617.6 546.8L618.9 544.6L620.3 542.6L621.8 540.7L622.2 540.2M628.8 532.3L630.3 530.9L632.0 530.0L634.1 530.0L636.1 531.3L638.0 534.0L638.9 535.6L639.7 537.6L640.6 539.8L641.4 542.2L641.5 542.3M645.2 553.8L645.7 555.6L646.4 558.0L647.0 560.4L647.7 562.8L648.5 565.2L649.2 567.6L650.0 570.0L650.8 572.4L651.7 574.8L652.5 576.8M656.9 587.6L657.5 589.0L658.6 591.2L659.8 593.7L660.9 596.1L662.1 598.4L663.3 600.6L664.4 602.5L665.5 604.2L667.1 606.6L667.6 607.4M675.0 607.4L676.0 606.1L677.4 603.8L678.8 601.1L680.0 598.0L680.6 596.2L681.2 594.1L681.7 591.9L682.2 589.5L682.7 587.0L683.1 585.4M685.4 573.1L685.7 571.3L686.2 568.8L686.7 566.6L687.2 564.3L687.6 562.0L688.1 559.8L688.5 557.5L689.0 555.2L689.5 552.8L689.9 550.4L690.3 548.7M692.7 536.5L693.1 534.5L693.6 532.3L694.0 529.9L694.5 527.6L695.0 525.2L695.5 522.8L696.0 520.3L696.5 517.8L697.0 515.3L697.5 512.8L697.7 512.1M700.0 499.9L700.4 497.7L700.9 495.4L701.3 493.0L701.7 490.5L702.2 488.0L702.6 485.5L703.0 482.9L703.5 480.4L703.9 477.8L704.3 475.3L704.4 475.2M706.5 462.9L706.8 461.0L707.2 458.9L707.6 456.9L708.0 455.0L708.7 451.8L709.3 448.7L709.9 445.9L710.5 443.3L711.0 440.8L711.6 438.5M715.1 426.9L716.1 424.5L717.5 422.6L719.0 422.0L720.6 422.6L722.3 424.2L724.1 426.8L726.0 430.0L726.9 431.7L727.6 433.1M732.1 443.8L733.1 446.7L734.0 450.0L734.5 451.9L735.0 453.8L735.5 455.9L736.0 458.1L736.5 460.3L737.0 462.7L737.5 465.0L738.0 467.5L738.0 467.7M740.3 480.0L740.7 481.8L741.1 484.6L741.6 487.3L742.0 490.0L742.3 492.2L742.7 494.5L743.0 496.9L743.3 499.3L743.6 501.7L743.9 504.2L744.0 504.9M745.4 517.5L745.6 519.5L745.9 522.0L746.2 524.5L746.4 527.0L746.7 529.5L747.0 531.9L747.3 534.3L747.6 536.6L747.9 538.9L748.2 541.4L748.3 542.6M750.1 555.0L750.3 556.3L750.6 558.6L751.0 561.0L751.3 563.3L751.7 565.6L752.0 567.9L752.4 570.2L752.8 572.6L753.2 575.0L753.6 577.5L754.0 579.9M756.1 592.2L756.4 594.0L756.9 596.4L757.3 598.7L757.8 601.1L758.2 603.6L758.7 606.0L759.1 608.4L759.6 610.8L760.0 613.2L760.5 615.6L760.7 616.8M762.9 629.1L763.3 631.2L763.7 633.6L764.2 636.0L764.6 638.4L765.0 640.8L765.5 643.2L765.9 645.6L766.3 648.1L766.8 650.4L767.2 652.8L767.3 653.7M769.6 666.0L770.0 668.0L770.5 670.5L771.0 673.1L771.5 675.6L771.9 678.1L772.4 680.5L772.9 683.0L773.4 685.5L773.9 687.9L774.4 690.3L774.4 690.5M776.9 702.6L777.3 704.5L777.8 706.8L778.3 709.3L778.8 711.8L779.3 714.3L779.9 716.8L780.4 719.3L780.9 721.8L781.5 724.3L782.0 726.8L782.0 726.9M784.8 739.0L785.2 740.7L785.7 742.9L786.3 745.3L787.0 747.9L787.6 750.5L788.3 753.0L789.0 755.4L789.6 757.8L790.3 760.2L790.9 762.4L791.0 762.7M794.8 774.2L795.5 775.9L796.5 778.5L797.5 781.0L798.5 783.3L799.5 785.5L800.5 787.6L801.5 789.5L802.5 791.2L804.0 793.6L804.7 794.7M812.2 798.3L813.0 797.5L814.4 795.9L815.8 793.7L817.2 791.3L818.6 788.7L820.0 786.0L820.9 784.1L821.9 782.1L822.8 780.1L823.2 779.1M827.5 768.1L828.5 765.4L829.4 763.0L830.1 760.9L830.8 758.6L831.6 756.3L832.3 753.9L833.1 751.5L833.9 749.0L834.6 746.5L835.0 745.2M838.5 733.6L839.0 732.0L839.7 729.5L840.4 727.1L841.1 724.7L841.8 722.4L842.5 720.0L843.1 717.8L843.8 715.5L844.4 713.2L845.0 710.9L845.3 710.2M848.6 698.5L849.0 697.3L849.7 695.1L850.3 692.9L851.0 690.8L851.7 688.5L852.3 686.2L853.0 683.8L853.7 681.4L854.3 678.8L855.0 676.0L855.2 675.0M857.8 662.8L858.2 660.8L858.6 658.3L859.1 655.7L859.6 653.2L860.1 650.6L860.6 648.1L861.1 645.5L861.5 643.1L862.0 640.6L862.5 638.3M865.2 626.2L865.5 624.6L866.1 622.1L866.6 619.7L867.2 617.3L867.8 614.9L868.3 612.6L868.9 610.3L869.4 608.2L869.9 606.0L870.5 604.0L870.9 602.2M874.3 590.6L874.8 589.1L875.5 586.9L876.3 584.8L877.0 582.8L877.7 580.9L878.6 578.4L879.5 575.5L880.5 572.9L881.4 570.6L882.6 568.6L882.7 568.5M890.6 564.5L892.4 564.3L894.9 564.1L897.3 564.0L899.8 564.3L902.2 564.9L904.7 565.1L907.1 564.7L907.5 564.5M915.6 560.5L918.0 560.0L920.4 560.0L922.8 560.4L925.2 561.1L927.6 562.3L930.0 564.0L931.5 565.4L931.8 565.7M938.2 574.0L939.3 575.6L940.7 577.8L942.0 580.0L943.2 582.2L944.3 584.7L945.4 587.2L946.4 589.8L947.3 592.2L948.2 594.4M954.7 601.9L956.0 602.0L958.3 601.8L960.9 601.1L963.5 599.9L966.0 598.0L967.3 596.4L968.6 594.6L969.7 592.6M974.8 582.4L975.5 580.8L976.5 578.6L977.5 576.3L978.5 574.0L979.5 571.6L980.5 569.3L981.5 567.1L982.6 564.8L983.7 562.3L984.3 561.2M989.4 551.0L990.0 550.0L991.6 547.6L993.3 545.7L994.9 543.9L996.5 542.0L998.0 540.0L999.2 537.9L1000.3 535.6L1001.4 533.3L1001.4 533.2M1006.7 523.3L1007.8 521.9L1009.2 520.4L1011.0 519.9L1012.9 520.8L1014.9 523.1L1016.4 525.8L1017.3 527.7L1018.2 530.0L1019.1 532.3M1023.3 543.4L1024.0 545.0L1025.3 547.6L1026.4 550.0L1027.6 552.2L1028.9 554.3L1030.3 556.2L1032.0 558.0L1033.8 559.6L1035.3 560.9M1043.2 565.4L1044.9 565.9L1047.2 566.0L1049.5 565.5L1051.8 564.6L1054.1 563.4L1056.4 562.0L1058.8 560.6L1059.6 560.2M1067.6 555.8L1069.6 554.6L1071.8 553.5L1073.9 552.5L1076.3 551.5L1078.9 550.5L1081.5 549.6L1083.9 549.0M1092.3 548.3L1094.0 548.9L1096.3 550.1L1098.7 551.4L1101.1 552.4L1103.3 553.4L1105.6 554.4L1108.0 555.2L1108.7 555.4M1117.1 556.2L1119.7 556.1L1122.4 555.8L1124.9 555.3L1127.1 554.5L1128.9 553.3L1130.2 551.2L1131.2 548.8L1131.6 547.2M1137.9 539.5L1140.1 538.7L1142.7 538.2L1145.3 537.9L1147.9 538.1L1150.5 538.7L1152.9 539.5L1154.6 540.3M1161.4 547.9L1162.7 549.7L1164.0 551.9L1165.3 554.5L1166.4 557.0L1167.2 559.1L1167.9 561.4L1168.7 563.9L1169.5 566.4L1170.3 569.0L1170.4 569.3M1174.6 580.3L1175.3 581.8L1176.3 584.0L1177.3 586.2L1178.3 588.5L1179.4 590.8L1180.5 593.1L1181.6 595.2L1182.6 597.4L1183.7 599.6L1184.5 601.1M1189.6 611.2L1190.6 613.1L1191.7 615.3L1192.8 617.6L1193.9 619.8L1195.0 622.0L1196.1 624.2L1197.2 626.4L1198.3 628.7L1199.4 630.9L1199.8 631.6M1204.9 641.8L1205.6 643.1L1206.7 645.3L1207.8 647.6L1208.9 649.8L1210.0 652.0L1211.1 654.3L1212.3 656.7L1213.4 659.1L1214.6 661.5L1215.0 662.4M1220.2 672.4L1221.9 674.8L1223.7 677.0L1225.4 678.6L1227.1 679.7L1229.2 680.2L1231.5 679.8L1233.9 678.6L1235.3 677.6M1241.4 669.0L1242.4 667.2L1243.4 665.4L1244.4 663.4L1245.5 661.1L1246.7 658.8L1247.9 656.3L1249.1 653.8L1250.3 651.4L1251.4 649.1L1251.6 648.6M1256.9 638.7L1258.0 636.9L1259.1 634.9L1260.2 633.0L1261.4 631.0L1262.6 628.9L1263.8 626.7L1265.0 624.6L1266.2 622.4L1267.4 620.2L1268.0 619.3M1274.1 610.4L1275.1 609.1L1276.7 607.1L1278.3 605.1L1280.0 603.0L1281.4 601.2L1282.9 599.3L1284.4 597.4L1285.9 595.4L1287.1 593.9M1293.7 586.1L1294.7 585.1L1296.5 583.2L1298.4 581.4L1300.2 579.7L1301.8 578.1L1303.3 576.7L1305.1 574.8L1306.8 572.6L1307.7 571.5M1315.9 571.0L1318.4 571.7L1321.0 572.1L1323.4 572.2L1325.9 572.2L1328.5 572.2L1331.2 572.3L1332.8 572.4M1341.0 575.5L1342.8 576.7L1344.8 578.1L1346.9 579.5L1349.2 580.5L1351.7 581.3L1354.2 581.9L1356.7 582.6L1357.2 582.8M1364.9 587.9L1366.4 589.7L1368.0 592.0L1369.1 594.0L1370.1 596.4L1371.1 598.9L1372.1 601.4L1373.0 603.8L1374.0 606.0L1375.0 608.1M1381.1 616.0L1382.9 615.3L1384.9 613.5L1387.0 611.2L1388.6 609.2L1389.8 607.4L1391.1 605.3L1392.3 603.1L1393.5 600.7L1393.9 600.0M1399.1 589.9L1400.0 588.1L1401.1 585.8L1402.3 583.5L1403.4 581.1L1404.6 578.9L1405.7 576.5L1406.9 574.2L1408.0 571.9L1409.1 569.6L1409.2 569.4M1414.6 559.5L1415.7 557.6L1416.9 555.6L1418.2 553.5L1419.4 551.2L1420.5 549.0L1421.5 546.9L1422.4 544.8L1423.4 542.7L1424.4 540.4L1424.9 539.3M1429.4 528.6L1430.4 526.3L1431.4 523.8L1432.4 521.2L1433.5 518.7L1434.5 516.2L1435.5 513.9L1436.5 511.7L1437.5 509.8L1438.9 507.5L1438.9 507.5M1445.8 500.3L1447.0 500.0L1449.2 500.0L1451.6 500.6L1454.1 501.7L1456.6 503.2L1459.0 505.0L1460.6 506.4L1461.7 507.6M1468.2 515.8L1469.3 517.2L1471.0 519.0L1472.8 520.7L1474.6 522.4L1476.5 524.1L1478.4 525.7L1480.3 527.3L1482.2 528.8L1482.6 529.2M1490.3 534.5L1491.6 535.2L1493.8 536.5L1495.9 537.8L1498.0 539.2L1499.9 540.8L1501.8 542.4L1503.6 544.1L1505.3 545.8L1505.4 545.9M1512.3 553.6L1513.4 555.1L1514.8 557.3L1516.2 559.4L1517.6 561.4L1519.2 563.2L1521.0 564.8L1523.1 566.3L1525.4 567.6L1526.0 567.9M1534.3 570.2L1536.0 570.0L1538.4 569.2L1541.0 568.0L1543.0 567.0L1545.1 565.8L1547.2 564.5L1549.2 562.9L1550.3 561.9M1555.5 552.0L1556.0 550.7L1557.0 548.0L1557.8 545.8L1558.5 543.4L1559.2 540.9L1559.9 538.4L1560.6 535.8L1561.3 533.4L1562.0 531.0L1562.7 528.9M1566.5 517.5L1567.0 516.0L1567.9 513.3L1568.8 510.9L1569.6 508.7L1570.5 506.3L1571.4 503.9L1572.3 501.6L1573.3 499.3L1574.2 496.9L1574.8 495.3M1578.5 483.8L1579.0 481.7L1579.7 479.2L1580.3 476.8L1580.9 474.3L1581.6 471.7L1582.2 469.1L1582.8 466.5L1583.4 464.2L1584.0 462.0L1584.5 460.0M1588.3 448.5L1588.8 447.2L1589.8 445.0L1591.0 443.0L1592.7 440.9L1594.7 439.0L1596.4 437.5L1597.0 437.0" stroke="#ff0000" stroke-width="5.7"/>
</g>
<g id="axes" stroke="#000" fill="none">
<line x1="193" y1="553.2" x2="1597.5" y2="553.2" stroke-width="4.9"/>
<line x1="476" y1="84" x2="476" y2="1038" stroke-width="6.5"/>
<line x1="470" y1="94.4" x2="476" y2="94.4" stroke-width="3"/>
<line x1="470" y1="113.5" x2="476" y2="113.5" stroke-width="3"/>
<line x1="470" y1="132.6" x2="476" y2="132.6" stroke-width="3"/>
<line x1="470" y1="151.7" x2="476" y2="151.7" stroke-width="3"/>
<line x1="466" y1="170.8" x2="476" y2="170.8" stroke-width="3"/>
<line x1="470" y1="189.9" x2="476" y2="189.9" stroke-width="3"/>
<line x1="470" y1="209.0" x2="476" y2="209.0" stroke-width="3"/>
<line x1="470" y1="228.1" x2="476" y2="228.1" stroke-width="3"/>
<line x1="470" y1="247.2" x2="476" y2="247.2" stroke-width="3"/>
<line x1="466" y1="266.3" x2="476" y2="266.3" stroke-width="3"/>
<line x1="470" y1="285.4" x2="476" y2="285.4" stroke-width="3"/>
<line x1="470" y1="304.5" x2="476" y2="304.5" stroke-width="3"/>
<line x1="470" y1="323.6" x2="476" y2="323.6" stroke-width="3"/>
<line x1="470" y1="342.7" x2="476" y2="342.7" stroke-width="3"/>
<line x1="466" y1="361.8" x2="476" y2="361.8" stroke-width="3"/>
<line x1="470" y1="380.9" x2="476" y2="380.9" stroke-width="3"/>
<line x1="470" y1="400.0" x2="476" y2="400.0" stroke-width="3"/>
<line x1="470" y1="419.1" x2="476" y2="419.1" stroke-width="3"/>
<line x1="470" y1="438.2" x2="476" y2="438.2" stroke-width="3"/>
<line x1="466" y1="457.3" x2="476" y2="457.3" stroke-width="3"/>
<line x1="470" y1="476.4" x2="476" y2="476.4" stroke-width="3"/>
<line x1="470" y1="495.5" x2="476" y2="495.5" stroke-width="3"/>
<line x1="470" y1="514.6" x2="476" y2="514.6" stroke-width="3"/>
<line x1="470" y1="533.7" x2="476" y2="533.7" stroke-width="3"/>
<line x1="470" y1="571.9" x2="476" y2="571.9" stroke-width="3"/>
<line x1="470" y1="591.0" x2="476" y2="591.0" stroke-width="3"/>
<line x1="470" y1="610.1" x2="476" y2="610.1" stroke-width="3"/>
<line x1="470" y1="629.2" x2="476" y2="629.2" stroke-width="3"/>
<line x1="466" y1="648.3" x2="476" y2="648.3" stroke-width="3"/>
<line x1="470" y1="667.4" x2="476" y2="667.4" stroke-width="3"/>
<line x1="470" y1="686.5" x2="476" y2="686.5" stroke-width="3"/>
<line x1="470" y1="705.6" x2="476" y2="705.6" stroke-width="3"/>
<line x1="470" y1="724.7" x2="476" y2="724.7" stroke-width="3"/>
<line x1="466" y1="743.8" x2="476" y2="743.8" stroke-width="3"/>
<line x1="470" y1="762.9" x2="476" y2="762.9" stroke-width="3"/>
<line x1="470" y1="782.0" x2="476" y2="782.0" stroke-width="3"/>
<line x1="470" y1="801.1" x2="476" y2="801.1" stroke-width="3"/>
<line x1="470" y1="820.2" x2="476" y2="820.2" stroke-width="3"/>
<line x1="466" y1="839.3" x2="476" y2="839.3" stroke-width="3"/>
<line x1="470" y1="858.4" x2="476" y2="858.4" stroke-width="3"/>
<line x1="470" y1="877.5" x2="476" y2="877.5" stroke-width="3"/>
<line x1="470" y1="896.6" x2="476" y2="896.6" stroke-width="3"/>
<line x1="470" y1="915.7" x2="476" y2="915.7" stroke-width="3"/>
<line x1="466" y1="934.8" x2="476" y2="934.8" stroke-width="3"/>
<line x1="470" y1="953.9" x2="476" y2="953.9" stroke-width="3"/>
<line x1="470" y1="973.0" x2="476" y2="973.0" stroke-width="3"/>
<line x1="470" y1="992.1" x2="476" y2="992.1" stroke-width="3"/>
<line x1="470" y1="1011.2" x2="476" y2="1011.2" stroke-width="3"/>
<line x1="466" y1="1030.3" x2="476" y2="1030.3" stroke-width="3"/>
<line x1="749" y1="547" x2="749" y2="565" stroke-width="4"/>
<line x1="1056.7" y1="550" x2="1056.7" y2="573.3" stroke-width="7"/>
<line x1="1589" y1="547" x2="1589" y2="566" stroke-width="4.8"/>
<line x1="335.6" y1="553" x2="335.6" y2="558.3" stroke-width="2.2"/><line x1="616.4" y1="553" x2="616.4" y2="558.3" stroke-width="2.2"/><line x1="897.2" y1="553" x2="897.2" y2="558.3" stroke-width="2.2"/><line x1="1178.0" y1="553" x2="1178.0" y2="558.3" stroke-width="2.2"/><line x1="1318.4" y1="553" x2="1318.4" y2="558.3" stroke-width="2.2"/><line x1="1458.8" y1="553" x2="1458.8" y2="558.3" stroke-width="2.2"/>
</g>
<g id="legend" fill="none" stroke-width="6.4">
<line x1="1274.5" y1="706" x2="1372" y2="706" stroke="#808080"/>
<path d="M1274.5 765 H1294 M1300 765 H1318.3 M1325.5 765 H1344 M1350 765 H1369.5" stroke="#808080"/>
<line x1="1274.5" y1="822.7" x2="1372" y2="822.7" stroke="#ff0000"/>
<path d="M1274.5 881.4 H1294 M1300 881.4 H1318.3 M1325.5 881.4 H1344 M1350 881.4 H1369.5" stroke="#ff0000"/>
</g>
<g id="heads">
<g id="head1">
<g fill="#fff" stroke="#000" stroke-width="1.7" filter="url(#soft)">
<path d="M849.5 1098.5 C853 1088 862 1074 870 1073.5 C878 1074 887 1088 891 1098.5"/>
<path d="M738.5 1229 C733 1236 730 1252 731 1262 C732 1270 735 1272 737.5 1270 C740 1267 741 1260 741.5 1254"/>
<path d="M1002 1229 C1007.5 1236 1010.5 1252 1009.5 1262 C1008.5 1270 1005.5 1272 1003 1270 C1000.5 1267 999.5 1260 999 1254"/>
</g>
<g clip-path="url(#clip1)">
<g filter="url(#hb)">
<rect x="841.5" y="1087" width="7.6" height="7.6" fill="#145fff"/>
<rect x="848.5" y="1087" width="7.6" height="7.6" fill="#0f4bff"/>
<rect x="855.5" y="1087" width="7.6" height="7.6" fill="#0a37ff"/>
<rect x="862.5" y="1087" width="7.6" height="7.6" fill="#0a28ff"/>
<rect x="869.5" y="1087" width="7.6" height="7.6" fill="#051eff"/>
<rect x="876.5" y="1087" width="7.6" height="7.6" fill="#0519ff"/>
<rect x="883.5" y="1087" width="7.6" height="7.6" fill="#051eff"/>
<rect x="890.5" y="1087" width="7.6" height="7.6" fill="#0a28ff"/>
<rect x="897.5" y="1087" width="7.6" height="7.6" fill="#0f41ff"/>
<rect x="820.5" y="1094" width="7.6" height="7.6" fill="#2da0ff"/>
<rect x="827.5" y="1094" width="7.6" height="7.6" fill="#2391ff"/>
<rect x="834.5" y="1094" width="7.6" height="7.6" fill="#1978ff"/>
<rect x="841.5" y="1094" width="7.6" height="7.6" fill="#145fff"/>
<rect x="848.5" y="1094" width="7.6" height="7.6" fill="#0f4bff"/>
<rect x="855.5" y="1094" width="7.6" height="7.6" fill="#0a37ff"/>
<rect x="862.5" y="1094" width="7.6" height="7.6" fill="#0a2dff"/>
<rect x="869.5" y="1094" width="7.6" height="7.6" fill="#0523ff"/>
<rect x="876.5" y="1094" width="14.6" height="7.6" fill="#051eff"/>
<rect x="890.5" y="1094" width="7.6" height="7.6" fill="#0a2dff"/>
<rect x="897.5" y="1094" width="7.6" height="7.6" fill="#0f46ff"/>
<rect x="904.5" y="1094" width="7.6" height="7.6" fill="#145fff"/>
<rect x="911.5" y="1094" width="7.6" height="7.6" fill="#1978ff"/>
<rect x="918.5" y="1094" width="7.6" height="7.6" fill="#1e8cff"/>
<rect x="799.5" y="1101" width="7.6" height="7.6" fill="#41d2ff"/>
<rect x="806.5" y="1101" width="7.6" height="7.6" fill="#3cc8ff"/>
<rect x="813.5" y="1101" width="7.6" height="7.6" fill="#37b9ff"/>
<rect x="820.5" y="1101" width="7.6" height="7.6" fill="#2daaff"/>
<rect x="827.5" y="1101" width="7.6" height="7.6" fill="#289bff"/>
<rect x="834.5" y="1101" width="7.6" height="7.6" fill="#238cff"/>
<rect x="841.5" y="1101" width="7.6" height="7.6" fill="#1e7dff"/>
<rect x="848.5" y="1101" width="7.6" height="7.6" fill="#1973ff"/>
<rect x="855.5" y="1101" width="7.6" height="7.6" fill="#1464ff"/>
<rect x="862.5" y="1101" width="7.6" height="7.6" fill="#145aff"/>
<rect x="869.5" y="1101" width="7.6" height="7.6" fill="#0f4bff"/>
<rect x="876.5" y="1101" width="14.6" height="7.6" fill="#0f46ff"/>
<rect x="890.5" y="1101" width="7.6" height="7.6" fill="#1450ff"/>
<rect x="897.5" y="1101" width="7.6" height="7.6" fill="#145fff"/>
<rect x="904.5" y="1101" width="7.6" height="7.6" fill="#1973ff"/>
<rect x="911.5" y="1101" width="7.6" height="7.6" fill="#1e7dff"/>
<rect x="918.5" y="1101" width="7.6" height="7.6" fill="#2391ff"/>
<rect x="925.5" y="1101" width="7.6" height="7.6" fill="#2da0ff"/>
<rect x="932.5" y="1101" width="7.6" height="7.6" fill="#32afff"/>
<rect x="792.5" y="1108" width="7.6" height="7.6" fill="#46e1ff"/>
<rect x="799.5" y="1108" width="7.6" height="7.6" fill="#46d7ff"/>
<rect x="806.5" y="1108" width="7.6" height="7.6" fill="#41cdff"/>
<rect x="813.5" y="1108" width="7.6" height="7.6" fill="#3cc8ff"/>
<rect x="820.5" y="1108" width="7.6" height="7.6" fill="#3cc3ff"/>
<rect x="827.5" y="1108" width="7.6" height="7.6" fill="#37beff"/>
<rect x="834.5" y="1108" width="7.6" height="7.6" fill="#32b4ff"/>
<rect x="841.5" y="1108" width="7.6" height="7.6" fill="#2daaff"/>
<rect x="848.5" y="1108" width="7.6" height="7.6" fill="#289bff"/>
<rect x="855.5" y="1108" width="7.6" height="7.6" fill="#2391ff"/>
<rect x="862.5" y="1108" width="7.6" height="7.6" fill="#1e87ff"/>
<rect x="869.5" y="1108" width="7.6" height="7.6" fill="#1e7dff"/>
<rect x="876.5" y="1108" width="14.6" height="7.6" fill="#1978ff"/>
<rect x="890.5" y="1108" width="7.6" height="7.6" fill="#1e82ff"/>
<rect x="897.5" y="1108" width="7.6" height="7.6" fill="#238cff"/>
<rect x="904.5" y="1108" width="7.6" height="7.6" fill="#2896ff"/>
<rect x="911.5" y="1108" width="7.6" height="7.6" fill="#28a0ff"/>
<rect x="918.5" y="1108" width="7.6" height="7.6" fill="#2da5ff"/>
<rect x="925.5" y="1108" width="7.6" height="7.6" fill="#2daaff"/>
<rect x="932.5" y="1108" width="7.6" height="7.6" fill="#37b9ff"/>
<rect x="939.5" y="1108" width="7.6" height="7.6" fill="#3cc8ff"/>
<rect x="778.5" y="1115" width="14.6" height="7.6" fill="#4bebff"/>
<rect x="792.5" y="1115" width="7.6" height="7.6" fill="#4be6ff"/>
<rect x="799.5" y="1115" width="21.6" height="7.6" fill="#46e1ff"/>
<rect x="820.5" y="1115" width="14.6" height="7.6" fill="#46dcff"/>
<rect x="834.5" y="1115" width="7.6" height="7.6" fill="#41d7ff"/>
<rect x="841.5" y="1115" width="7.6" height="7.6" fill="#41cdff"/>
<rect x="848.5" y="1115" width="7.6" height="7.6" fill="#3cc3ff"/>
<rect x="855.5" y="1115" width="7.6" height="7.6" fill="#37b9ff"/>
<rect x="862.5" y="1115" width="7.6" height="7.6" fill="#32b4ff"/>
<rect x="869.5" y="1115" width="7.6" height="7.6" fill="#32afff"/>
<rect x="876.5" y="1115" width="7.6" height="7.6" fill="#2da5ff"/>
<rect x="883.5" y="1115" width="7.6" height="7.6" fill="#2daaff"/>
<rect x="890.5" y="1115" width="7.6" height="7.6" fill="#32afff"/>
<rect x="897.5" y="1115" width="7.6" height="7.6" fill="#32b4ff"/>
<rect x="904.5" y="1115" width="7.6" height="7.6" fill="#37b9ff"/>
<rect x="911.5" y="1115" width="14.6" height="7.6" fill="#37beff"/>
<rect x="925.5" y="1115" width="7.6" height="7.6" fill="#3cc3ff"/>
<rect x="932.5" y="1115" width="7.6" height="7.6" fill="#3cc8ff"/>
<rect x="939.5" y="1115" width="7.6" height="7.6" fill="#41d2ff"/>
<rect x="946.5" y="1115" width="7.6" height="7.6" fill="#4bebff"/>
<rect x="953.5" y="1115" width="7.6" height="7.6" fill="#55ffff"/>
<rect x="771.5" y="1122" width="21.6" height="7.6" fill="#4bebff"/>
<rect x="792.5" y="1122" width="35.6" height="7.6" fill="#50f0ff"/>
<rect x="827.5" y="1122" width="7.6" height="7.6" fill="#4bf0ff"/>
<rect x="834.5" y="1122" width="7.6" height="7.6" fill="#4bebff"/>
<rect x="841.5" y="1122" width="7.6" height="7.6" fill="#4be6ff"/>
<rect x="848.5" y="1122" width="7.6" height="7.6" fill="#46e1ff"/>
<rect x="855.5" y="1122" width="7.6" height="7.6" fill="#46dcff"/>
<rect x="862.5" y="1122" width="7.6" height="7.6" fill="#41d7ff"/>
<rect x="869.5" y="1122" width="7.6" height="7.6" fill="#41d2ff"/>
<rect x="876.5" y="1122" width="14.6" height="7.6" fill="#3ccdff"/>
<rect x="890.5" y="1122" width="7.6" height="7.6" fill="#41cdff"/>
<rect x="897.5" y="1122" width="14.6" height="7.6" fill="#41d2ff"/>
<rect x="911.5" y="1122" width="21.6" height="7.6" fill="#41d7ff"/>
<rect x="932.5" y="1122" width="7.6" height="7.6" fill="#46d7ff"/>
<rect x="939.5" y="1122" width="7.6" height="7.6" fill="#4be6ff"/>
<rect x="946.5" y="1122" width="7.6" height="7.6" fill="#55faff"/>
<rect x="953.5" y="1122" width="7.6" height="7.6" fill="#5affeb"/>
<rect x="960.5" y="1122" width="7.6" height="7.6" fill="#64ffd2"/>
<rect x="764.5" y="1129" width="21.6" height="7.6" fill="#4bebff"/>
<rect x="785.5" y="1129" width="7.6" height="7.6" fill="#50f0ff"/>
<rect x="792.5" y="1129" width="7.6" height="7.6" fill="#50f5ff"/>
<rect x="799.5" y="1129" width="7.6" height="7.6" fill="#50faff"/>
<rect x="806.5" y="1129" width="28.6" height="7.6" fill="#55faff"/>
<rect x="834.5" y="1129" width="7.6" height="7.6" fill="#50faff"/>
<rect x="841.5" y="1129" width="14.6" height="7.6" fill="#50f5ff"/>
<rect x="855.5" y="1129" width="7.6" height="7.6" fill="#50f0ff"/>
<rect x="862.5" y="1129" width="14.6" height="7.6" fill="#4bebff"/>
<rect x="876.5" y="1129" width="28.6" height="7.6" fill="#4be6ff"/>
<rect x="904.5" y="1129" width="7.6" height="7.6" fill="#4bebff"/>
<rect x="911.5" y="1129" width="21.6" height="7.6" fill="#4be6ff"/>
<rect x="932.5" y="1129" width="7.6" height="7.6" fill="#4bebff"/>
<rect x="939.5" y="1129" width="7.6" height="7.6" fill="#50faff"/>
<rect x="946.5" y="1129" width="7.6" height="7.6" fill="#5afff0"/>
<rect x="953.5" y="1129" width="7.6" height="7.6" fill="#64ffd7"/>
<rect x="960.5" y="1129" width="7.6" height="7.6" fill="#69ffbe"/>
<rect x="967.5" y="1129" width="7.6" height="7.6" fill="#73ffaa"/>
<rect x="757.5" y="1136" width="21.6" height="7.6" fill="#4bebff"/>
<rect x="778.5" y="1136" width="7.6" height="7.6" fill="#50f0ff"/>
<rect x="785.5" y="1136" width="7.6" height="7.6" fill="#50f5ff"/>
<rect x="792.5" y="1136" width="7.6" height="7.6" fill="#50faff"/>
<rect x="799.5" y="1136" width="14.6" height="7.6" fill="#55faff"/>
<rect x="813.5" y="1136" width="42.6" height="7.6" fill="#55ffff"/>
<rect x="855.5" y="1136" width="14.6" height="7.6" fill="#55faff"/>
<rect x="869.5" y="1136" width="14.6" height="7.6" fill="#50faff"/>
<rect x="883.5" y="1136" width="42.6" height="7.6" fill="#50f5ff"/>
<rect x="925.5" y="1136" width="7.6" height="7.6" fill="#50faff"/>
<rect x="932.5" y="1136" width="7.6" height="7.6" fill="#55ffff"/>
<rect x="939.5" y="1136" width="7.6" height="7.6" fill="#5afff0"/>
<rect x="946.5" y="1136" width="7.6" height="7.6" fill="#5fffdc"/>
<rect x="953.5" y="1136" width="7.6" height="7.6" fill="#69ffc3"/>
<rect x="960.5" y="1136" width="7.6" height="7.6" fill="#73ffaf"/>
<rect x="967.5" y="1136" width="7.6" height="7.6" fill="#78ffa0"/>
<rect x="974.5" y="1136" width="7.6" height="7.6" fill="#78ff96"/>
<rect x="757.5" y="1143" width="14.6" height="7.6" fill="#4bebff"/>
<rect x="771.5" y="1143" width="14.6" height="7.6" fill="#50f0ff"/>
<rect x="785.5" y="1143" width="14.6" height="7.6" fill="#50f5ff"/>
<rect x="799.5" y="1143" width="7.6" height="7.6" fill="#50faff"/>
<rect x="806.5" y="1143" width="14.6" height="7.6" fill="#55faff"/>
<rect x="820.5" y="1143" width="28.6" height="7.6" fill="#55ffff"/>
<rect x="848.5" y="1143" width="28.6" height="7.6" fill="#55fffa"/>
<rect x="876.5" y="1143" width="49.6" height="7.6" fill="#55ffff"/>
<rect x="925.5" y="1143" width="7.6" height="7.6" fill="#55fffa"/>
<rect x="932.5" y="1143" width="7.6" height="7.6" fill="#5afff0"/>
<rect x="939.5" y="1143" width="7.6" height="7.6" fill="#5fffe1"/>
<rect x="946.5" y="1143" width="7.6" height="7.6" fill="#64ffcd"/>
<rect x="953.5" y="1143" width="7.6" height="7.6" fill="#6effb4"/>
<rect x="960.5" y="1143" width="7.6" height="7.6" fill="#73ffa5"/>
<rect x="967.5" y="1143" width="7.6" height="7.6" fill="#78ff96"/>
<rect x="974.5" y="1143" width="7.6" height="7.6" fill="#7dff91"/>
<rect x="981.5" y="1143" width="7.6" height="7.6" fill="#7dff87"/>
<rect x="750.5" y="1150" width="21.6" height="7.6" fill="#4bebff"/>
<rect x="771.5" y="1150" width="21.6" height="7.6" fill="#50f0ff"/>
<rect x="792.5" y="1150" width="28.6" height="7.6" fill="#50f5ff"/>
<rect x="820.5" y="1150" width="7.6" height="7.6" fill="#50faff"/>
<rect x="827.5" y="1150" width="7.6" height="7.6" fill="#55faff"/>
<rect x="834.5" y="1150" width="21.6" height="7.6" fill="#55ffff"/>
<rect x="855.5" y="1150" width="63.6" height="7.6" fill="#55fffa"/>
<rect x="918.5" y="1150" width="14.6" height="7.6" fill="#5afff5"/>
<rect x="932.5" y="1150" width="7.6" height="7.6" fill="#5affeb"/>
<rect x="939.5" y="1150" width="7.6" height="7.6" fill="#5fffdc"/>
<rect x="946.5" y="1150" width="7.6" height="7.6" fill="#69ffc8"/>
<rect x="953.5" y="1150" width="7.6" height="7.6" fill="#6effb4"/>
<rect x="960.5" y="1150" width="7.6" height="7.6" fill="#73ffa0"/>
<rect x="967.5" y="1150" width="7.6" height="7.6" fill="#78ff96"/>
<rect x="974.5" y="1150" width="7.6" height="7.6" fill="#7dff82"/>
<rect x="981.5" y="1150" width="7.6" height="7.6" fill="#87ff78"/>
<rect x="743.5" y="1157" width="49.6" height="7.6" fill="#4bebff"/>
<rect x="792.5" y="1157" width="21.6" height="7.6" fill="#4bf0ff"/>
<rect x="813.5" y="1157" width="14.6" height="7.6" fill="#50f0ff"/>
<rect x="827.5" y="1157" width="14.6" height="7.6" fill="#50f5ff"/>
<rect x="841.5" y="1157" width="7.6" height="7.6" fill="#50faff"/>
<rect x="848.5" y="1157" width="7.6" height="7.6" fill="#55faff"/>
<rect x="855.5" y="1157" width="21.6" height="7.6" fill="#55ffff"/>
<rect x="876.5" y="1157" width="42.6" height="7.6" fill="#55fffa"/>
<rect x="918.5" y="1157" width="7.6" height="7.6" fill="#5afff5"/>
<rect x="925.5" y="1157" width="7.6" height="7.6" fill="#5afff0"/>
<rect x="932.5" y="1157" width="7.6" height="7.6" fill="#5affeb"/>
<rect x="939.5" y="1157" width="7.6" height="7.6" fill="#5fffdc"/>
<rect x="946.5" y="1157" width="7.6" height="7.6" fill="#64ffcd"/>
<rect x="953.5" y="1157" width="7.6" height="7.6" fill="#6effb9"/>
<rect x="960.5" y="1157" width="7.6" height="7.6" fill="#73ffa5"/>
<rect x="967.5" y="1157" width="7.6" height="7.6" fill="#7dff91"/>
<rect x="974.5" y="1157" width="7.6" height="7.6" fill="#87ff78"/>
<rect x="981.5" y="1157" width="7.6" height="7.6" fill="#96fa69"/>
<rect x="988.5" y="1157" width="7.6" height="7.6" fill="#9bfa64"/>
<rect x="743.5" y="1164" width="42.6" height="7.6" fill="#4bebff"/>
<rect x="785.5" y="1164" width="35.6" height="7.6" fill="#4be6ff"/>
<rect x="820.5" y="1164" width="14.6" height="7.6" fill="#4bebff"/>
<rect x="834.5" y="1164" width="7.6" height="7.6" fill="#4bf0ff"/>
<rect x="841.5" y="1164" width="7.6" height="7.6" fill="#50f0ff"/>
<rect x="848.5" y="1164" width="21.6" height="7.6" fill="#50f5ff"/>
<rect x="869.5" y="1164" width="14.6" height="7.6" fill="#55faff"/>
<rect x="883.5" y="1164" width="14.6" height="7.6" fill="#55ffff"/>
<rect x="897.5" y="1164" width="28.6" height="7.6" fill="#55fffa"/>
<rect x="925.5" y="1164" width="7.6" height="7.6" fill="#5afff5"/>
<rect x="932.5" y="1164" width="7.6" height="7.6" fill="#5afff0"/>
<rect x="939.5" y="1164" width="7.6" height="7.6" fill="#5fffe6"/>
<rect x="946.5" y="1164" width="7.6" height="7.6" fill="#64ffd7"/>
<rect x="953.5" y="1164" width="7.6" height="7.6" fill="#69ffbe"/>
<rect x="960.5" y="1164" width="7.6" height="7.6" fill="#73ffaa"/>
<rect x="967.5" y="1164" width="7.6" height="7.6" fill="#7dff91"/>
<rect x="974.5" y="1164" width="7.6" height="7.6" fill="#87ff78"/>
<rect x="981.5" y="1164" width="7.6" height="7.6" fill="#9bfa5f"/>
<rect x="988.5" y="1164" width="7.6" height="7.6" fill="#a0fa5a"/>
<rect x="743.5" y="1171" width="21.6" height="7.6" fill="#4bebff"/>
<rect x="764.5" y="1171" width="21.6" height="7.6" fill="#4be6ff"/>
<rect x="785.5" y="1171" width="49.6" height="7.6" fill="#46e1ff"/>
<rect x="834.5" y="1171" width="7.6" height="7.6" fill="#4be1ff"/>
<rect x="841.5" y="1171" width="14.6" height="7.6" fill="#4be6ff"/>
<rect x="855.5" y="1171" width="14.6" height="7.6" fill="#4bebff"/>
<rect x="869.5" y="1171" width="7.6" height="7.6" fill="#50f0ff"/>
<rect x="876.5" y="1171" width="14.6" height="7.6" fill="#50f5ff"/>
<rect x="890.5" y="1171" width="7.6" height="7.6" fill="#50faff"/>
<rect x="897.5" y="1171" width="14.6" height="7.6" fill="#55faff"/>
<rect x="911.5" y="1171" width="21.6" height="7.6" fill="#55ffff"/>
<rect x="932.5" y="1171" width="7.6" height="7.6" fill="#55fffa"/>
<rect x="939.5" y="1171" width="7.6" height="7.6" fill="#5afff0"/>
<rect x="946.5" y="1171" width="7.6" height="7.6" fill="#5fffe1"/>
<rect x="953.5" y="1171" width="7.6" height="7.6" fill="#69ffc8"/>
<rect x="960.5" y="1171" width="7.6" height="7.6" fill="#6effaf"/>
<rect x="967.5" y="1171" width="7.6" height="7.6" fill="#78ff96"/>
<rect x="974.5" y="1171" width="7.6" height="7.6" fill="#82ff7d"/>
<rect x="981.5" y="1171" width="7.6" height="7.6" fill="#96fa64"/>
<rect x="988.5" y="1171" width="7.6" height="7.6" fill="#a0fa5f"/>
<rect x="995.5" y="1171" width="7.6" height="7.6" fill="#9bfa5f"/>
<rect x="736.5" y="1178" width="14.6" height="7.6" fill="#50f0ff"/>
<rect x="750.5" y="1178" width="14.6" height="7.6" fill="#4bebff"/>
<rect x="764.5" y="1178" width="7.6" height="7.6" fill="#4be6ff"/>
<rect x="771.5" y="1178" width="14.6" height="7.6" fill="#46e1ff"/>
<rect x="785.5" y="1178" width="7.6" height="7.6" fill="#46dcff"/>
<rect x="792.5" y="1178" width="7.6" height="7.6" fill="#46d7ff"/>
<rect x="799.5" y="1178" width="35.6" height="7.6" fill="#41d7ff"/>
<rect x="834.5" y="1178" width="7.6" height="7.6" fill="#46d7ff"/>
<rect x="841.5" y="1178" width="21.6" height="7.6" fill="#46dcff"/>
<rect x="862.5" y="1178" width="7.6" height="7.6" fill="#46e1ff"/>
<rect x="869.5" y="1178" width="7.6" height="7.6" fill="#4be1ff"/>
<rect x="876.5" y="1178" width="7.6" height="7.6" fill="#4be6ff"/>
<rect x="883.5" y="1178" width="7.6" height="7.6" fill="#4bebff"/>
<rect x="890.5" y="1178" width="14.6" height="7.6" fill="#50f0ff"/>
<rect x="904.5" y="1178" width="21.6" height="7.6" fill="#50f5ff"/>
<rect x="925.5" y="1178" width="7.6" height="7.6" fill="#50faff"/>
<rect x="932.5" y="1178" width="7.6" height="7.6" fill="#55ffff"/>
<rect x="939.5" y="1178" width="7.6" height="7.6" fill="#5afff5"/>
<rect x="946.5" y="1178" width="7.6" height="7.6" fill="#5affeb"/>
<rect x="953.5" y="1178" width="7.6" height="7.6" fill="#64ffd7"/>
<rect x="960.5" y="1178" width="7.6" height="7.6" fill="#6effbe"/>
<rect x="967.5" y="1178" width="7.6" height="7.6" fill="#73ffa5"/>
<rect x="974.5" y="1178" width="7.6" height="7.6" fill="#7dff8c"/>
<rect x="981.5" y="1178" width="7.6" height="7.6" fill="#87ff78"/>
<rect x="988.5" y="1178" width="7.6" height="7.6" fill="#96fa69"/>
<rect x="995.5" y="1178" width="7.6" height="7.6" fill="#91fa6e"/>
<rect x="736.5" y="1185" width="14.6" height="7.6" fill="#50f0ff"/>
<rect x="750.5" y="1185" width="7.6" height="7.6" fill="#4bebff"/>
<rect x="757.5" y="1185" width="7.6" height="7.6" fill="#4be6ff"/>
<rect x="764.5" y="1185" width="7.6" height="7.6" fill="#46e1ff"/>
<rect x="771.5" y="1185" width="7.6" height="7.6" fill="#46dcff"/>
<rect x="778.5" y="1185" width="7.6" height="7.6" fill="#46d7ff"/>
<rect x="785.5" y="1185" width="7.6" height="7.6" fill="#41d7ff"/>
<rect x="792.5" y="1185" width="7.6" height="7.6" fill="#41d2ff"/>
<rect x="799.5" y="1185" width="14.6" height="7.6" fill="#41cdff"/>
<rect x="813.5" y="1185" width="21.6" height="7.6" fill="#3ccdff"/>
<rect x="834.5" y="1185" width="21.6" height="7.6" fill="#41cdff"/>
<rect x="855.5" y="1185" width="14.6" height="7.6" fill="#41d2ff"/>
<rect x="869.5" y="1185" width="7.6" height="7.6" fill="#41d7ff"/>
<rect x="876.5" y="1185" width="7.6" height="7.6" fill="#46dcff"/>
<rect x="883.5" y="1185" width="14.6" height="7.6" fill="#46e1ff"/>
<rect x="897.5" y="1185" width="7.6" height="7.6" fill="#4be6ff"/>
<rect x="904.5" y="1185" width="21.6" height="7.6" fill="#4bebff"/>
<rect x="925.5" y="1185" width="7.6" height="7.6" fill="#50f0ff"/>
<rect x="932.5" y="1185" width="7.6" height="7.6" fill="#50f5ff"/>
<rect x="939.5" y="1185" width="7.6" height="7.6" fill="#55ffff"/>
<rect x="946.5" y="1185" width="7.6" height="7.6" fill="#5afff5"/>
<rect x="953.5" y="1185" width="7.6" height="7.6" fill="#5fffe1"/>
<rect x="960.5" y="1185" width="7.6" height="7.6" fill="#69ffcd"/>
<rect x="967.5" y="1185" width="7.6" height="7.6" fill="#6effb4"/>
<rect x="974.5" y="1185" width="7.6" height="7.6" fill="#73ffa0"/>
<rect x="981.5" y="1185" width="7.6" height="7.6" fill="#7dff91"/>
<rect x="988.5" y="1185" width="14.6" height="7.6" fill="#7dff82"/>
<rect x="736.5" y="1192" width="7.6" height="7.6" fill="#50f5ff"/>
<rect x="743.5" y="1192" width="7.6" height="7.6" fill="#50f0ff"/>
<rect x="750.5" y="1192" width="7.6" height="7.6" fill="#4bebff"/>
<rect x="757.5" y="1192" width="7.6" height="7.6" fill="#4be6ff"/>
<rect x="764.5" y="1192" width="7.6" height="7.6" fill="#46e1ff"/>
<rect x="771.5" y="1192" width="7.6" height="7.6" fill="#46dcff"/>
<rect x="778.5" y="1192" width="7.6" height="7.6" fill="#41d2ff"/>
<rect x="785.5" y="1192" width="7.6" height="7.6" fill="#41cdff"/>
<rect x="792.5" y="1192" width="14.6" height="7.6" fill="#3cc8ff"/>
<rect x="806.5" y="1192" width="56.6" height="7.6" fill="#3cc3ff"/>
<rect x="862.5" y="1192" width="14.6" height="7.6" fill="#3cc8ff"/>
<rect x="876.5" y="1192" width="7.6" height="7.6" fill="#41cdff"/>
<rect x="883.5" y="1192" width="7.6" height="7.6" fill="#41d2ff"/>
<rect x="890.5" y="1192" width="7.6" height="7.6" fill="#41d7ff"/>
<rect x="897.5" y="1192" width="7.6" height="7.6" fill="#46dcff"/>
<rect x="904.5" y="1192" width="14.6" height="7.6" fill="#46e1ff"/>
<rect x="918.5" y="1192" width="14.6" height="7.6" fill="#4be6ff"/>
<rect x="932.5" y="1192" width="7.6" height="7.6" fill="#4bf0ff"/>
<rect x="939.5" y="1192" width="7.6" height="7.6" fill="#50f5ff"/>
<rect x="946.5" y="1192" width="7.6" height="7.6" fill="#55fffa"/>
<rect x="953.5" y="1192" width="7.6" height="7.6" fill="#5affeb"/>
<rect x="960.5" y="1192" width="7.6" height="7.6" fill="#64ffdc"/>
<rect x="967.5" y="1192" width="7.6" height="7.6" fill="#69ffc8"/>
<rect x="974.5" y="1192" width="7.6" height="7.6" fill="#6effb9"/>
<rect x="981.5" y="1192" width="7.6" height="7.6" fill="#6effaf"/>
<rect x="988.5" y="1192" width="7.6" height="7.6" fill="#73ffa5"/>
<rect x="995.5" y="1192" width="7.6" height="7.6" fill="#78ffa0"/>
<rect x="1002.5" y="1192" width="7.6" height="7.6" fill="#73ffa5"/>
<rect x="729.5" y="1199" width="14.6" height="7.6" fill="#50faff"/>
<rect x="743.5" y="1199" width="7.6" height="7.6" fill="#50f5ff"/>
<rect x="750.5" y="1199" width="7.6" height="7.6" fill="#50f0ff"/>
<rect x="757.5" y="1199" width="7.6" height="7.6" fill="#4be6ff"/>
<rect x="764.5" y="1199" width="7.6" height="7.6" fill="#46dcff"/>
<rect x="771.5" y="1199" width="7.6" height="7.6" fill="#41d7ff"/>
<rect x="778.5" y="1199" width="7.6" height="7.6" fill="#41cdff"/>
<rect x="785.5" y="1199" width="7.6" height="7.6" fill="#3cc8ff"/>
<rect x="792.5" y="1199" width="7.6" height="7.6" fill="#3cc3ff"/>
<rect x="799.5" y="1199" width="14.6" height="7.6" fill="#37beff"/>
<rect x="813.5" y="1199" width="56.6" height="7.6" fill="#37b9ff"/>
<rect x="869.5" y="1199" width="7.6" height="7.6" fill="#37beff"/>
<rect x="876.5" y="1199" width="7.6" height="7.6" fill="#3cc3ff"/>
<rect x="883.5" y="1199" width="7.6" height="7.6" fill="#3cc8ff"/>
<rect x="890.5" y="1199" width="7.6" height="7.6" fill="#3ccdff"/>
<rect x="897.5" y="1199" width="14.6" height="7.6" fill="#41d2ff"/>
<rect x="911.5" y="1199" width="7.6" height="7.6" fill="#41d7ff"/>
<rect x="918.5" y="1199" width="7.6" height="7.6" fill="#46dcff"/>
<rect x="925.5" y="1199" width="7.6" height="7.6" fill="#46e1ff"/>
<rect x="932.5" y="1199" width="7.6" height="7.6" fill="#4be6ff"/>
<rect x="939.5" y="1199" width="7.6" height="7.6" fill="#50f0ff"/>
<rect x="946.5" y="1199" width="7.6" height="7.6" fill="#55faff"/>
<rect x="953.5" y="1199" width="7.6" height="7.6" fill="#5afff5"/>
<rect x="960.5" y="1199" width="7.6" height="7.6" fill="#5fffe6"/>
<rect x="967.5" y="1199" width="7.6" height="7.6" fill="#5fffdc"/>
<rect x="974.5" y="1199" width="7.6" height="7.6" fill="#64ffd2"/>
<rect x="981.5" y="1199" width="7.6" height="7.6" fill="#69ffcd"/>
<rect x="988.5" y="1199" width="7.6" height="7.6" fill="#69ffc3"/>
<rect x="995.5" y="1199" width="7.6" height="7.6" fill="#6effb9"/>
<rect x="1002.5" y="1199" width="7.6" height="7.6" fill="#69ffbe"/>
<rect x="729.5" y="1206" width="14.6" height="7.6" fill="#50faff"/>
<rect x="743.5" y="1206" width="7.6" height="7.6" fill="#50f5ff"/>
<rect x="750.5" y="1206" width="7.6" height="7.6" fill="#4bebff"/>
<rect x="757.5" y="1206" width="7.6" height="7.6" fill="#46e1ff"/>
<rect x="764.5" y="1206" width="7.6" height="7.6" fill="#46d7ff"/>
<rect x="771.5" y="1206" width="7.6" height="7.6" fill="#41cdff"/>
<rect x="778.5" y="1206" width="7.6" height="7.6" fill="#3cc8ff"/>
<rect x="785.5" y="1206" width="7.6" height="7.6" fill="#37beff"/>
<rect x="792.5" y="1206" width="14.6" height="7.6" fill="#37b9ff"/>
<rect x="806.5" y="1206" width="14.6" height="7.6" fill="#32b4ff"/>
<rect x="820.5" y="1206" width="42.6" height="7.6" fill="#32afff"/>
<rect x="862.5" y="1206" width="14.6" height="7.6" fill="#32b4ff"/>
<rect x="876.5" y="1206" width="7.6" height="7.6" fill="#37b9ff"/>
<rect x="883.5" y="1206" width="7.6" height="7.6" fill="#37beff"/>
<rect x="890.5" y="1206" width="7.6" height="7.6" fill="#37c3ff"/>
<rect x="897.5" y="1206" width="7.6" height="7.6" fill="#3cc3ff"/>
<rect x="904.5" y="1206" width="7.6" height="7.6" fill="#3cc8ff"/>
<rect x="911.5" y="1206" width="7.6" height="7.6" fill="#3ccdff"/>
<rect x="918.5" y="1206" width="7.6" height="7.6" fill="#41d2ff"/>
<rect x="925.5" y="1206" width="7.6" height="7.6" fill="#41d7ff"/>
<rect x="932.5" y="1206" width="7.6" height="7.6" fill="#46dcff"/>
<rect x="939.5" y="1206" width="7.6" height="7.6" fill="#4bebff"/>
<rect x="946.5" y="1206" width="7.6" height="7.6" fill="#50f5ff"/>
<rect x="953.5" y="1206" width="7.6" height="7.6" fill="#55ffff"/>
<rect x="960.5" y="1206" width="7.6" height="7.6" fill="#5afff0"/>
<rect x="967.5" y="1206" width="7.6" height="7.6" fill="#5affeb"/>
<rect x="974.5" y="1206" width="14.6" height="7.6" fill="#5fffe1"/>
<rect x="988.5" y="1206" width="7.6" height="7.6" fill="#64ffd7"/>
<rect x="995.5" y="1206" width="14.6" height="7.6" fill="#64ffd2"/>
<rect x="729.5" y="1213" width="14.6" height="7.6" fill="#50faff"/>
<rect x="743.5" y="1213" width="7.6" height="7.6" fill="#50f0ff"/>
<rect x="750.5" y="1213" width="7.6" height="7.6" fill="#4bebff"/>
<rect x="757.5" y="1213" width="7.6" height="7.6" fill="#46dcff"/>
<rect x="764.5" y="1213" width="7.6" height="7.6" fill="#41d2ff"/>
<rect x="771.5" y="1213" width="7.6" height="7.6" fill="#3cc8ff"/>
<rect x="778.5" y="1213" width="7.6" height="7.6" fill="#37beff"/>
<rect x="785.5" y="1213" width="7.6" height="7.6" fill="#37b9ff"/>
<rect x="792.5" y="1213" width="7.6" height="7.6" fill="#32b4ff"/>
<rect x="799.5" y="1213" width="14.6" height="7.6" fill="#32afff"/>
<rect x="813.5" y="1213" width="7.6" height="7.6" fill="#32aaff"/>
<rect x="820.5" y="1213" width="42.6" height="7.6" fill="#2daaff"/>
<rect x="862.5" y="1213" width="7.6" height="7.6" fill="#32aaff"/>
<rect x="869.5" y="1213" width="14.6" height="7.6" fill="#32afff"/>
<rect x="883.5" y="1213" width="7.6" height="7.6" fill="#32b4ff"/>
<rect x="890.5" y="1213" width="14.6" height="7.6" fill="#37b9ff"/>
<rect x="904.5" y="1213" width="14.6" height="7.6" fill="#37beff"/>
<rect x="918.5" y="1213" width="7.6" height="7.6" fill="#3cc3ff"/>
<rect x="925.5" y="1213" width="7.6" height="7.6" fill="#3cc8ff"/>
<rect x="932.5" y="1213" width="7.6" height="7.6" fill="#41d2ff"/>
<rect x="939.5" y="1213" width="7.6" height="7.6" fill="#46e1ff"/>
<rect x="946.5" y="1213" width="7.6" height="7.6" fill="#4bebff"/>
<rect x="953.5" y="1213" width="7.6" height="7.6" fill="#50f5ff"/>
<rect x="960.5" y="1213" width="7.6" height="7.6" fill="#55ffff"/>
<rect x="967.5" y="1213" width="7.6" height="7.6" fill="#5afff5"/>
<rect x="974.5" y="1213" width="7.6" height="7.6" fill="#5afff0"/>
<rect x="981.5" y="1213" width="14.6" height="7.6" fill="#5affeb"/>
<rect x="995.5" y="1213" width="14.6" height="7.6" fill="#5fffe1"/>
<rect x="729.5" y="1220" width="14.6" height="7.6" fill="#50f5ff"/>
<rect x="743.5" y="1220" width="7.6" height="7.6" fill="#50f0ff"/>
<rect x="750.5" y="1220" width="7.6" height="7.6" fill="#4be6ff"/>
<rect x="757.5" y="1220" width="7.6" height="7.6" fill="#46d7ff"/>
<rect x="764.5" y="1220" width="7.6" height="7.6" fill="#3ccdff"/>
<rect x="771.5" y="1220" width="7.6" height="7.6" fill="#37beff"/>
<rect x="778.5" y="1220" width="7.6" height="7.6" fill="#37b9ff"/>
<rect x="785.5" y="1220" width="7.6" height="7.6" fill="#32b4ff"/>
<rect x="792.5" y="1220" width="7.6" height="7.6" fill="#32afff"/>
<rect x="799.5" y="1220" width="14.6" height="7.6" fill="#2daaff"/>
<rect x="813.5" y="1220" width="56.6" height="7.6" fill="#2da5ff"/>
<rect x="869.5" y="1220" width="14.6" height="7.6" fill="#2daaff"/>
<rect x="883.5" y="1220" width="7.6" height="7.6" fill="#32aaff"/>
<rect x="890.5" y="1220" width="21.6" height="7.6" fill="#32afff"/>
<rect x="911.5" y="1220" width="7.6" height="7.6" fill="#32b4ff"/>
<rect x="918.5" y="1220" width="7.6" height="7.6" fill="#37b9ff"/>
<rect x="925.5" y="1220" width="7.6" height="7.6" fill="#37beff"/>
<rect x="932.5" y="1220" width="7.6" height="7.6" fill="#3cc8ff"/>
<rect x="939.5" y="1220" width="7.6" height="7.6" fill="#41d2ff"/>
<rect x="946.5" y="1220" width="7.6" height="7.6" fill="#46e1ff"/>
<rect x="953.5" y="1220" width="7.6" height="7.6" fill="#4bebff"/>
<rect x="960.5" y="1220" width="7.6" height="7.6" fill="#50f5ff"/>
<rect x="967.5" y="1220" width="7.6" height="7.6" fill="#55ffff"/>
<rect x="974.5" y="1220" width="7.6" height="7.6" fill="#55fffa"/>
<rect x="981.5" y="1220" width="14.6" height="7.6" fill="#5afff5"/>
<rect x="995.5" y="1220" width="7.6" height="7.6" fill="#5afff0"/>
<rect x="1002.5" y="1220" width="7.6" height="7.6" fill="#5affeb"/>
<rect x="729.5" y="1227" width="14.6" height="7.6" fill="#50f5ff"/>
<rect x="743.5" y="1227" width="7.6" height="7.6" fill="#4bebff"/>
<rect x="750.5" y="1227" width="7.6" height="7.6" fill="#46e1ff"/>
<rect x="757.5" y="1227" width="7.6" height="7.6" fill="#41d2ff"/>
<rect x="764.5" y="1227" width="7.6" height="7.6" fill="#3cc8ff"/>
<rect x="771.5" y="1227" width="7.6" height="7.6" fill="#37b9ff"/>
<rect x="778.5" y="1227" width="7.6" height="7.6" fill="#32b4ff"/>
<rect x="785.5" y="1227" width="7.6" height="7.6" fill="#32afff"/>
<rect x="792.5" y="1227" width="7.6" height="7.6" fill="#2daaff"/>
<rect x="799.5" y="1227" width="14.6" height="7.6" fill="#2da5ff"/>
<rect x="813.5" y="1227" width="7.6" height="7.6" fill="#2da0ff"/>
<rect x="820.5" y="1227" width="35.6" height="7.6" fill="#28a0ff"/>
<rect x="855.5" y="1227" width="14.6" height="7.6" fill="#2da0ff"/>
<rect x="869.5" y="1227" width="42.6" height="7.6" fill="#2da5ff"/>
<rect x="911.5" y="1227" width="14.6" height="7.6" fill="#2daaff"/>
<rect x="925.5" y="1227" width="7.6" height="7.6" fill="#32afff"/>
<rect x="932.5" y="1227" width="7.6" height="7.6" fill="#37b9ff"/>
<rect x="939.5" y="1227" width="7.6" height="7.6" fill="#3cc3ff"/>
<rect x="946.5" y="1227" width="7.6" height="7.6" fill="#41d2ff"/>
<rect x="953.5" y="1227" width="7.6" height="7.6" fill="#46e1ff"/>
<rect x="960.5" y="1227" width="7.6" height="7.6" fill="#4bebff"/>
<rect x="967.5" y="1227" width="7.6" height="7.6" fill="#50f5ff"/>
<rect x="974.5" y="1227" width="7.6" height="7.6" fill="#55ffff"/>
<rect x="981.5" y="1227" width="14.6" height="7.6" fill="#55fffa"/>
<rect x="995.5" y="1227" width="7.6" height="7.6" fill="#5afff5"/>
<rect x="1002.5" y="1227" width="7.6" height="7.6" fill="#5afff0"/>
<rect x="729.5" y="1234" width="14.6" height="7.6" fill="#50f5ff"/>
<rect x="743.5" y="1234" width="7.6" height="7.6" fill="#4bebff"/>
<rect x="750.5" y="1234" width="7.6" height="7.6" fill="#46dcff"/>
<rect x="757.5" y="1234" width="7.6" height="7.6" fill="#41d2ff"/>
<rect x="764.5" y="1234" width="7.6" height="7.6" fill="#3cc3ff"/>
<rect x="771.5" y="1234" width="7.6" height="7.6" fill="#37b9ff"/>
<rect x="778.5" y="1234" width="7.6" height="7.6" fill="#32afff"/>
<rect x="785.5" y="1234" width="7.6" height="7.6" fill="#2daaff"/>
<rect x="792.5" y="1234" width="7.6" height="7.6" fill="#2da5ff"/>
<rect x="799.5" y="1234" width="7.6" height="7.6" fill="#2da0ff"/>
<rect x="806.5" y="1234" width="7.6" height="7.6" fill="#28a0ff"/>
<rect x="813.5" y="1234" width="49.6" height="7.6" fill="#289bff"/>
<rect x="862.5" y="1234" width="28.6" height="7.6" fill="#28a0ff"/>
<rect x="890.5" y="1234" width="28.6" height="7.6" fill="#289bff"/>
<rect x="918.5" y="1234" width="7.6" height="7.6" fill="#28a0ff"/>
<rect x="925.5" y="1234" width="7.6" height="7.6" fill="#2da5ff"/>
<rect x="932.5" y="1234" width="7.6" height="7.6" fill="#2daaff"/>
<rect x="939.5" y="1234" width="7.6" height="7.6" fill="#37b9ff"/>
<rect x="946.5" y="1234" width="7.6" height="7.6" fill="#3cc8ff"/>
<rect x="953.5" y="1234" width="7.6" height="7.6" fill="#41d2ff"/>
<rect x="960.5" y="1234" width="7.6" height="7.6" fill="#46e1ff"/>
<rect x="967.5" y="1234" width="7.6" height="7.6" fill="#4bebff"/>
<rect x="974.5" y="1234" width="7.6" height="7.6" fill="#50f5ff"/>
<rect x="981.5" y="1234" width="7.6" height="7.6" fill="#55ffff"/>
<rect x="988.5" y="1234" width="7.6" height="7.6" fill="#55fffa"/>
<rect x="995.5" y="1234" width="14.6" height="7.6" fill="#5afff5"/>
<rect x="729.5" y="1241" width="14.6" height="7.6" fill="#50f0ff"/>
<rect x="743.5" y="1241" width="7.6" height="7.6" fill="#4be6ff"/>
<rect x="750.5" y="1241" width="7.6" height="7.6" fill="#46dcff"/>
<rect x="757.5" y="1241" width="7.6" height="7.6" fill="#41cdff"/>
<rect x="764.5" y="1241" width="7.6" height="7.6" fill="#37c3ff"/>
<rect x="771.5" y="1241" width="7.6" height="7.6" fill="#32b4ff"/>
<rect x="778.5" y="1241" width="7.6" height="7.6" fill="#32afff"/>
<rect x="785.5" y="1241" width="7.6" height="7.6" fill="#2da5ff"/>
<rect x="792.5" y="1241" width="7.6" height="7.6" fill="#2da0ff"/>
<rect x="799.5" y="1241" width="7.6" height="7.6" fill="#28a0ff"/>
<rect x="806.5" y="1241" width="21.6" height="7.6" fill="#289bff"/>
<rect x="827.5" y="1241" width="14.6" height="7.6" fill="#2896ff"/>
<rect x="841.5" y="1241" width="49.6" height="7.6" fill="#289bff"/>
<rect x="890.5" y="1241" width="14.6" height="7.6" fill="#2896ff"/>
<rect x="904.5" y="1241" width="14.6" height="7.6" fill="#2396ff"/>
<rect x="918.5" y="1241" width="7.6" height="7.6" fill="#2896ff"/>
<rect x="925.5" y="1241" width="7.6" height="7.6" fill="#289bff"/>
<rect x="932.5" y="1241" width="7.6" height="7.6" fill="#2da0ff"/>
<rect x="939.5" y="1241" width="7.6" height="7.6" fill="#32afff"/>
<rect x="946.5" y="1241" width="7.6" height="7.6" fill="#37b9ff"/>
<rect x="953.5" y="1241" width="7.6" height="7.6" fill="#3cc8ff"/>
<rect x="960.5" y="1241" width="7.6" height="7.6" fill="#41d7ff"/>
<rect x="967.5" y="1241" width="7.6" height="7.6" fill="#4be1ff"/>
<rect x="974.5" y="1241" width="7.6" height="7.6" fill="#50f0ff"/>
<rect x="981.5" y="1241" width="7.6" height="7.6" fill="#50faff"/>
<rect x="988.5" y="1241" width="7.6" height="7.6" fill="#55ffff"/>
<rect x="995.5" y="1241" width="7.6" height="7.6" fill="#55fffa"/>
<rect x="1002.5" y="1241" width="7.6" height="7.6" fill="#5afff5"/>
<rect x="729.5" y="1248" width="14.6" height="7.6" fill="#4bebff"/>
<rect x="743.5" y="1248" width="7.6" height="7.6" fill="#4be6ff"/>
<rect x="750.5" y="1248" width="7.6" height="7.6" fill="#46d7ff"/>
<rect x="757.5" y="1248" width="7.6" height="7.6" fill="#3ccdff"/>
<rect x="764.5" y="1248" width="7.6" height="7.6" fill="#37beff"/>
<rect x="771.5" y="1248" width="7.6" height="7.6" fill="#32b4ff"/>
<rect x="778.5" y="1248" width="7.6" height="7.6" fill="#32aaff"/>
<rect x="785.5" y="1248" width="7.6" height="7.6" fill="#2da5ff"/>
<rect x="792.5" y="1248" width="7.6" height="7.6" fill="#28a0ff"/>
<rect x="799.5" y="1248" width="14.6" height="7.6" fill="#289bff"/>
<rect x="813.5" y="1248" width="70.6" height="7.6" fill="#2896ff"/>
<rect x="883.5" y="1248" width="7.6" height="7.6" fill="#2396ff"/>
<rect x="890.5" y="1248" width="21.6" height="7.6" fill="#2391ff"/>
<rect x="911.5" y="1248" width="7.6" height="7.6" fill="#238cff"/>
<rect x="918.5" y="1248" width="14.6" height="7.6" fill="#2391ff"/>
<rect x="932.5" y="1248" width="7.6" height="7.6" fill="#289bff"/>
<rect x="939.5" y="1248" width="7.6" height="7.6" fill="#2da5ff"/>
<rect x="946.5" y="1248" width="7.6" height="7.6" fill="#32b4ff"/>
<rect x="953.5" y="1248" width="7.6" height="7.6" fill="#37beff"/>
<rect x="960.5" y="1248" width="7.6" height="7.6" fill="#41cdff"/>
<rect x="967.5" y="1248" width="7.6" height="7.6" fill="#46dcff"/>
<rect x="974.5" y="1248" width="7.6" height="7.6" fill="#4be6ff"/>
<rect x="981.5" y="1248" width="7.6" height="7.6" fill="#50f0ff"/>
<rect x="988.5" y="1248" width="7.6" height="7.6" fill="#50faff"/>
<rect x="995.5" y="1248" width="7.6" height="7.6" fill="#55ffff"/>
<rect x="1002.5" y="1248" width="7.6" height="7.6" fill="#55fffa"/>
<rect x="729.5" y="1255" width="14.6" height="7.6" fill="#4bebff"/>
<rect x="743.5" y="1255" width="7.6" height="7.6" fill="#46e1ff"/>
<rect x="750.5" y="1255" width="7.6" height="7.6" fill="#41d7ff"/>
<rect x="757.5" y="1255" width="7.6" height="7.6" fill="#3ccdff"/>
<rect x="764.5" y="1255" width="7.6" height="7.6" fill="#37beff"/>
<rect x="771.5" y="1255" width="7.6" height="7.6" fill="#32b4ff"/>
<rect x="778.5" y="1255" width="7.6" height="7.6" fill="#2daaff"/>
<rect x="785.5" y="1255" width="7.6" height="7.6" fill="#2da5ff"/>
<rect x="792.5" y="1255" width="7.6" height="7.6" fill="#28a0ff"/>
<rect x="799.5" y="1255" width="7.6" height="7.6" fill="#289bff"/>
<rect x="806.5" y="1255" width="7.6" height="7.6" fill="#2896ff"/>
<rect x="813.5" y="1255" width="7.6" height="7.6" fill="#2396ff"/>
<rect x="820.5" y="1255" width="14.6" height="7.6" fill="#2391ff"/>
<rect x="834.5" y="1255" width="14.6" height="7.6" fill="#2396ff"/>
<rect x="848.5" y="1255" width="28.6" height="7.6" fill="#2896ff"/>
<rect x="876.5" y="1255" width="7.6" height="7.6" fill="#2396ff"/>
<rect x="883.5" y="1255" width="14.6" height="7.6" fill="#2391ff"/>
<rect x="897.5" y="1255" width="14.6" height="7.6" fill="#238cff"/>
<rect x="911.5" y="1255" width="7.6" height="7.6" fill="#1e8cff"/>
<rect x="918.5" y="1255" width="14.6" height="7.6" fill="#238cff"/>
<rect x="932.5" y="1255" width="7.6" height="7.6" fill="#2396ff"/>
<rect x="939.5" y="1255" width="7.6" height="7.6" fill="#28a0ff"/>
<rect x="946.5" y="1255" width="7.6" height="7.6" fill="#2daaff"/>
<rect x="953.5" y="1255" width="7.6" height="7.6" fill="#37b9ff"/>
<rect x="960.5" y="1255" width="7.6" height="7.6" fill="#3cc3ff"/>
<rect x="967.5" y="1255" width="7.6" height="7.6" fill="#41d2ff"/>
<rect x="974.5" y="1255" width="7.6" height="7.6" fill="#46dcff"/>
<rect x="981.5" y="1255" width="7.6" height="7.6" fill="#4be6ff"/>
<rect x="988.5" y="1255" width="7.6" height="7.6" fill="#50f0ff"/>
<rect x="995.5" y="1255" width="7.6" height="7.6" fill="#50faff"/>
<rect x="1002.5" y="1255" width="7.6" height="7.6" fill="#55faff"/>
<rect x="736.5" y="1262" width="7.6" height="7.6" fill="#4be6ff"/>
<rect x="743.5" y="1262" width="7.6" height="7.6" fill="#46e1ff"/>
<rect x="750.5" y="1262" width="7.6" height="7.6" fill="#41d7ff"/>
<rect x="757.5" y="1262" width="7.6" height="7.6" fill="#3cc8ff"/>
<rect x="764.5" y="1262" width="7.6" height="7.6" fill="#37beff"/>
<rect x="771.5" y="1262" width="7.6" height="7.6" fill="#32b4ff"/>
<rect x="778.5" y="1262" width="7.6" height="7.6" fill="#2daaff"/>
<rect x="785.5" y="1262" width="7.6" height="7.6" fill="#2da0ff"/>
<rect x="792.5" y="1262" width="7.6" height="7.6" fill="#289bff"/>
<rect x="799.5" y="1262" width="7.6" height="7.6" fill="#2896ff"/>
<rect x="806.5" y="1262" width="7.6" height="7.6" fill="#2396ff"/>
<rect x="813.5" y="1262" width="35.6" height="7.6" fill="#2391ff"/>
<rect x="848.5" y="1262" width="28.6" height="7.6" fill="#2396ff"/>
<rect x="876.5" y="1262" width="14.6" height="7.6" fill="#2391ff"/>
<rect x="890.5" y="1262" width="7.6" height="7.6" fill="#238cff"/>
<rect x="897.5" y="1262" width="7.6" height="7.6" fill="#1e8cff"/>
<rect x="904.5" y="1262" width="21.6" height="7.6" fill="#1e87ff"/>
<rect x="925.5" y="1262" width="7.6" height="7.6" fill="#238cff"/>
<rect x="932.5" y="1262" width="7.6" height="7.6" fill="#2391ff"/>
<rect x="939.5" y="1262" width="7.6" height="7.6" fill="#289bff"/>
<rect x="946.5" y="1262" width="7.6" height="7.6" fill="#2da5ff"/>
<rect x="953.5" y="1262" width="7.6" height="7.6" fill="#32afff"/>
<rect x="960.5" y="1262" width="7.6" height="7.6" fill="#37beff"/>
<rect x="967.5" y="1262" width="7.6" height="7.6" fill="#3cc8ff"/>
<rect x="974.5" y="1262" width="7.6" height="7.6" fill="#41d2ff"/>
<rect x="981.5" y="1262" width="7.6" height="7.6" fill="#46e1ff"/>
<rect x="988.5" y="1262" width="7.6" height="7.6" fill="#4bebff"/>
<rect x="995.5" y="1262" width="7.6" height="7.6" fill="#50f0ff"/>
<rect x="1002.5" y="1262" width="7.6" height="7.6" fill="#50f5ff"/>
<rect x="736.5" y="1269" width="14.6" height="7.6" fill="#46e1ff"/>
<rect x="750.5" y="1269" width="7.6" height="7.6" fill="#41d2ff"/>
<rect x="757.5" y="1269" width="7.6" height="7.6" fill="#3cc8ff"/>
<rect x="764.5" y="1269" width="7.6" height="7.6" fill="#37beff"/>
<rect x="771.5" y="1269" width="7.6" height="7.6" fill="#32b4ff"/>
<rect x="778.5" y="1269" width="7.6" height="7.6" fill="#2daaff"/>
<rect x="785.5" y="1269" width="7.6" height="7.6" fill="#2da0ff"/>
<rect x="792.5" y="1269" width="7.6" height="7.6" fill="#289bff"/>
<rect x="799.5" y="1269" width="7.6" height="7.6" fill="#2896ff"/>
<rect x="806.5" y="1269" width="49.6" height="7.6" fill="#2391ff"/>
<rect x="855.5" y="1269" width="14.6" height="7.6" fill="#2396ff"/>
<rect x="869.5" y="1269" width="14.6" height="7.6" fill="#2391ff"/>
<rect x="883.5" y="1269" width="14.6" height="7.6" fill="#238cff"/>
<rect x="897.5" y="1269" width="7.6" height="7.6" fill="#1e87ff"/>
<rect x="904.5" y="1269" width="21.6" height="7.6" fill="#1e82ff"/>
<rect x="925.5" y="1269" width="7.6" height="7.6" fill="#1e87ff"/>
<rect x="932.5" y="1269" width="7.6" height="7.6" fill="#238cff"/>
<rect x="939.5" y="1269" width="7.6" height="7.6" fill="#2396ff"/>
<rect x="946.5" y="1269" width="7.6" height="7.6" fill="#28a0ff"/>
<rect x="953.5" y="1269" width="7.6" height="7.6" fill="#2daaff"/>
<rect x="960.5" y="1269" width="7.6" height="7.6" fill="#37b9ff"/>
<rect x="967.5" y="1269" width="7.6" height="7.6" fill="#3cc3ff"/>
<rect x="974.5" y="1269" width="7.6" height="7.6" fill="#41cdff"/>
<rect x="981.5" y="1269" width="7.6" height="7.6" fill="#46dcff"/>
<rect x="988.5" y="1269" width="7.6" height="7.6" fill="#4be6ff"/>
<rect x="995.5" y="1269" width="7.6" height="7.6" fill="#4bebff"/>
<rect x="736.5" y="1276" width="14.6" height="7.6" fill="#46dcff"/>
<rect x="750.5" y="1276" width="7.6" height="7.6" fill="#41d2ff"/>
<rect x="757.5" y="1276" width="7.6" height="7.6" fill="#3cc8ff"/>
<rect x="764.5" y="1276" width="7.6" height="7.6" fill="#37beff"/>
<rect x="771.5" y="1276" width="7.6" height="7.6" fill="#32b4ff"/>
<rect x="778.5" y="1276" width="7.6" height="7.6" fill="#2daaff"/>
<rect x="785.5" y="1276" width="7.6" height="7.6" fill="#2da5ff"/>
<rect x="792.5" y="1276" width="7.6" height="7.6" fill="#289bff"/>
<rect x="799.5" y="1276" width="7.6" height="7.6" fill="#2896ff"/>
<rect x="806.5" y="1276" width="56.6" height="7.6" fill="#2391ff"/>
<rect x="862.5" y="1276" width="7.6" height="7.6" fill="#2396ff"/>
<rect x="869.5" y="1276" width="14.6" height="7.6" fill="#2391ff"/>
<rect x="883.5" y="1276" width="7.6" height="7.6" fill="#238cff"/>
<rect x="890.5" y="1276" width="14.6" height="7.6" fill="#1e87ff"/>
<rect x="904.5" y="1276" width="28.6" height="7.6" fill="#1e82ff"/>
<rect x="932.5" y="1276" width="7.6" height="7.6" fill="#1e87ff"/>
<rect x="939.5" y="1276" width="7.6" height="7.6" fill="#2391ff"/>
<rect x="946.5" y="1276" width="7.6" height="7.6" fill="#289bff"/>
<rect x="953.5" y="1276" width="7.6" height="7.6" fill="#2daaff"/>
<rect x="960.5" y="1276" width="7.6" height="7.6" fill="#32b4ff"/>
<rect x="967.5" y="1276" width="7.6" height="7.6" fill="#37beff"/>
<rect x="974.5" y="1276" width="7.6" height="7.6" fill="#3ccdff"/>
<rect x="981.5" y="1276" width="7.6" height="7.6" fill="#41d7ff"/>
<rect x="988.5" y="1276" width="7.6" height="7.6" fill="#46e1ff"/>
<rect x="995.5" y="1276" width="7.6" height="7.6" fill="#4be6ff"/>
<rect x="743.5" y="1283" width="14.6" height="7.6" fill="#41d7ff"/>
<rect x="757.5" y="1283" width="7.6" height="7.6" fill="#3ccdff"/>
<rect x="764.5" y="1283" width="7.6" height="7.6" fill="#37c3ff"/>
<rect x="771.5" y="1283" width="7.6" height="7.6" fill="#37b9ff"/>
<rect x="778.5" y="1283" width="7.6" height="7.6" fill="#32afff"/>
<rect x="785.5" y="1283" width="7.6" height="7.6" fill="#2da5ff"/>
<rect x="792.5" y="1283" width="7.6" height="7.6" fill="#289bff"/>
<rect x="799.5" y="1283" width="7.6" height="7.6" fill="#2896ff"/>
<rect x="806.5" y="1283" width="14.6" height="7.6" fill="#2391ff"/>
<rect x="820.5" y="1283" width="21.6" height="7.6" fill="#238cff"/>
<rect x="841.5" y="1283" width="35.6" height="7.6" fill="#2391ff"/>
<rect x="876.5" y="1283" width="7.6" height="7.6" fill="#238cff"/>
<rect x="883.5" y="1283" width="7.6" height="7.6" fill="#1e8cff"/>
<rect x="890.5" y="1283" width="7.6" height="7.6" fill="#1e87ff"/>
<rect x="897.5" y="1283" width="14.6" height="7.6" fill="#1e82ff"/>
<rect x="911.5" y="1283" width="14.6" height="7.6" fill="#1e7dff"/>
<rect x="925.5" y="1283" width="7.6" height="7.6" fill="#1e82ff"/>
<rect x="932.5" y="1283" width="7.6" height="7.6" fill="#1e87ff"/>
<rect x="939.5" y="1283" width="7.6" height="7.6" fill="#2391ff"/>
<rect x="946.5" y="1283" width="7.6" height="7.6" fill="#289bff"/>
<rect x="953.5" y="1283" width="7.6" height="7.6" fill="#2daaff"/>
<rect x="960.5" y="1283" width="7.6" height="7.6" fill="#32b4ff"/>
<rect x="967.5" y="1283" width="7.6" height="7.6" fill="#37c3ff"/>
<rect x="974.5" y="1283" width="7.6" height="7.6" fill="#3ccdff"/>
<rect x="981.5" y="1283" width="7.6" height="7.6" fill="#46d7ff"/>
<rect x="988.5" y="1283" width="7.6" height="7.6" fill="#46dcff"/>
<rect x="743.5" y="1290" width="14.6" height="7.6" fill="#41d7ff"/>
<rect x="757.5" y="1290" width="7.6" height="7.6" fill="#41cdff"/>
<rect x="764.5" y="1290" width="7.6" height="7.6" fill="#3cc3ff"/>
<rect x="771.5" y="1290" width="7.6" height="7.6" fill="#37beff"/>
<rect x="778.5" y="1290" width="7.6" height="7.6" fill="#32b4ff"/>
<rect x="785.5" y="1290" width="7.6" height="7.6" fill="#2daaff"/>
<rect x="792.5" y="1290" width="7.6" height="7.6" fill="#2da0ff"/>
<rect x="799.5" y="1290" width="7.6" height="7.6" fill="#289bff"/>
<rect x="806.5" y="1290" width="7.6" height="7.6" fill="#2396ff"/>
<rect x="813.5" y="1290" width="14.6" height="7.6" fill="#2391ff"/>
<rect x="827.5" y="1290" width="21.6" height="7.6" fill="#238cff"/>
<rect x="848.5" y="1290" width="21.6" height="7.6" fill="#2391ff"/>
<rect x="869.5" y="1290" width="14.6" height="7.6" fill="#238cff"/>
<rect x="883.5" y="1290" width="7.6" height="7.6" fill="#1e87ff"/>
<rect x="890.5" y="1290" width="14.6" height="7.6" fill="#1e82ff"/>
<rect x="904.5" y="1290" width="7.6" height="7.6" fill="#1e7dff"/>
<rect x="911.5" y="1290" width="14.6" height="7.6" fill="#197dff"/>
<rect x="925.5" y="1290" width="7.6" height="7.6" fill="#1e7dff"/>
<rect x="932.5" y="1290" width="7.6" height="7.6" fill="#1e87ff"/>
<rect x="939.5" y="1290" width="7.6" height="7.6" fill="#2391ff"/>
<rect x="946.5" y="1290" width="7.6" height="7.6" fill="#289bff"/>
<rect x="953.5" y="1290" width="7.6" height="7.6" fill="#2daaff"/>
<rect x="960.5" y="1290" width="7.6" height="7.6" fill="#37b9ff"/>
<rect x="967.5" y="1290" width="7.6" height="7.6" fill="#3cc3ff"/>
<rect x="974.5" y="1290" width="7.6" height="7.6" fill="#41d2ff"/>
<rect x="981.5" y="1290" width="14.6" height="7.6" fill="#46dcff"/>
<rect x="750.5" y="1297" width="14.6" height="7.6" fill="#41d2ff"/>
<rect x="764.5" y="1297" width="7.6" height="7.6" fill="#3ccdff"/>
<rect x="771.5" y="1297" width="7.6" height="7.6" fill="#3cc3ff"/>
<rect x="778.5" y="1297" width="7.6" height="7.6" fill="#37b9ff"/>
<rect x="785.5" y="1297" width="7.6" height="7.6" fill="#32afff"/>
<rect x="792.5" y="1297" width="7.6" height="7.6" fill="#2da5ff"/>
<rect x="799.5" y="1297" width="7.6" height="7.6" fill="#289bff"/>
<rect x="806.5" y="1297" width="7.6" height="7.6" fill="#2896ff"/>
<rect x="813.5" y="1297" width="14.6" height="7.6" fill="#2391ff"/>
<rect x="827.5" y="1297" width="42.6" height="7.6" fill="#238cff"/>
<rect x="869.5" y="1297" width="7.6" height="7.6" fill="#1e8cff"/>
<rect x="876.5" y="1297" width="7.6" height="7.6" fill="#1e87ff"/>
<rect x="883.5" y="1297" width="14.6" height="7.6" fill="#1e82ff"/>
<rect x="897.5" y="1297" width="7.6" height="7.6" fill="#1e7dff"/>
<rect x="904.5" y="1297" width="14.6" height="7.6" fill="#197dff"/>
<rect x="918.5" y="1297" width="7.6" height="7.6" fill="#1978ff"/>
<rect x="925.5" y="1297" width="7.6" height="7.6" fill="#197dff"/>
<rect x="932.5" y="1297" width="7.6" height="7.6" fill="#1e82ff"/>
<rect x="939.5" y="1297" width="7.6" height="7.6" fill="#238cff"/>
<rect x="946.5" y="1297" width="7.6" height="7.6" fill="#289bff"/>
<rect x="953.5" y="1297" width="7.6" height="7.6" fill="#32afff"/>
<rect x="960.5" y="1297" width="7.6" height="7.6" fill="#37beff"/>
<rect x="967.5" y="1297" width="7.6" height="7.6" fill="#3cc8ff"/>
<rect x="974.5" y="1297" width="7.6" height="7.6" fill="#41d7ff"/>
<rect x="981.5" y="1297" width="7.6" height="7.6" fill="#46dcff"/>
<rect x="757.5" y="1304" width="14.6" height="7.6" fill="#41d2ff"/>
<rect x="771.5" y="1304" width="7.6" height="7.6" fill="#3cc8ff"/>
<rect x="778.5" y="1304" width="7.6" height="7.6" fill="#37beff"/>
<rect x="785.5" y="1304" width="7.6" height="7.6" fill="#32b4ff"/>
<rect x="792.5" y="1304" width="7.6" height="7.6" fill="#2daaff"/>
<rect x="799.5" y="1304" width="7.6" height="7.6" fill="#2da0ff"/>
<rect x="806.5" y="1304" width="7.6" height="7.6" fill="#289bff"/>
<rect x="813.5" y="1304" width="7.6" height="7.6" fill="#2396ff"/>
<rect x="820.5" y="1304" width="7.6" height="7.6" fill="#2391ff"/>
<rect x="827.5" y="1304" width="21.6" height="7.6" fill="#238cff"/>
<rect x="848.5" y="1304" width="7.6" height="7.6" fill="#1e8cff"/>
<rect x="855.5" y="1304" width="21.6" height="7.6" fill="#1e87ff"/>
<rect x="876.5" y="1304" width="14.6" height="7.6" fill="#1e82ff"/>
<rect x="890.5" y="1304" width="7.6" height="7.6" fill="#1e7dff"/>
<rect x="897.5" y="1304" width="14.6" height="7.6" fill="#197dff"/>
<rect x="911.5" y="1304" width="14.6" height="7.6" fill="#1978ff"/>
<rect x="925.5" y="1304" width="7.6" height="7.6" fill="#197dff"/>
<rect x="932.5" y="1304" width="7.6" height="7.6" fill="#1e82ff"/>
<rect x="939.5" y="1304" width="7.6" height="7.6" fill="#2391ff"/>
<rect x="946.5" y="1304" width="7.6" height="7.6" fill="#28a0ff"/>
<rect x="953.5" y="1304" width="7.6" height="7.6" fill="#32b4ff"/>
<rect x="960.5" y="1304" width="7.6" height="7.6" fill="#3cc3ff"/>
<rect x="967.5" y="1304" width="7.6" height="7.6" fill="#41d2ff"/>
<rect x="974.5" y="1304" width="14.6" height="7.6" fill="#46d7ff"/>
<rect x="757.5" y="1311" width="14.6" height="7.6" fill="#41d2ff"/>
<rect x="771.5" y="1311" width="7.6" height="7.6" fill="#41cdff"/>
<rect x="778.5" y="1311" width="7.6" height="7.6" fill="#3cc3ff"/>
<rect x="785.5" y="1311" width="7.6" height="7.6" fill="#37b9ff"/>
<rect x="792.5" y="1311" width="7.6" height="7.6" fill="#32afff"/>
<rect x="799.5" y="1311" width="7.6" height="7.6" fill="#2da5ff"/>
<rect x="806.5" y="1311" width="7.6" height="7.6" fill="#28a0ff"/>
<rect x="813.5" y="1311" width="7.6" height="7.6" fill="#2896ff"/>
<rect x="820.5" y="1311" width="14.6" height="7.6" fill="#2391ff"/>
<rect x="834.5" y="1311" width="7.6" height="7.6" fill="#238cff"/>
<rect x="841.5" y="1311" width="7.6" height="7.6" fill="#1e8cff"/>
<rect x="848.5" y="1311" width="21.6" height="7.6" fill="#1e87ff"/>
<rect x="869.5" y="1311" width="21.6" height="7.6" fill="#1e82ff"/>
<rect x="890.5" y="1311" width="7.6" height="7.6" fill="#1e7dff"/>
<rect x="897.5" y="1311" width="28.6" height="7.6" fill="#197dff"/>
<rect x="925.5" y="1311" width="7.6" height="7.6" fill="#1e7dff"/>
<rect x="932.5" y="1311" width="7.6" height="7.6" fill="#1e82ff"/>
<rect x="939.5" y="1311" width="7.6" height="7.6" fill="#2391ff"/>
<rect x="946.5" y="1311" width="7.6" height="7.6" fill="#2da5ff"/>
<rect x="953.5" y="1311" width="7.6" height="7.6" fill="#37b9ff"/>
<rect x="960.5" y="1311" width="7.6" height="7.6" fill="#3ccdff"/>
<rect x="967.5" y="1311" width="14.6" height="7.6" fill="#41d7ff"/>
<rect x="764.5" y="1318" width="14.6" height="7.6" fill="#41d2ff"/>
<rect x="778.5" y="1318" width="7.6" height="7.6" fill="#3ccdff"/>
<rect x="785.5" y="1318" width="7.6" height="7.6" fill="#37beff"/>
<rect x="792.5" y="1318" width="7.6" height="7.6" fill="#32b4ff"/>
<rect x="799.5" y="1318" width="7.6" height="7.6" fill="#2daaff"/>
<rect x="806.5" y="1318" width="7.6" height="7.6" fill="#2da5ff"/>
<rect x="813.5" y="1318" width="7.6" height="7.6" fill="#289bff"/>
<rect x="820.5" y="1318" width="7.6" height="7.6" fill="#2896ff"/>
<rect x="827.5" y="1318" width="7.6" height="7.6" fill="#2391ff"/>
<rect x="834.5" y="1318" width="14.6" height="7.6" fill="#238cff"/>
<rect x="848.5" y="1318" width="14.6" height="7.6" fill="#1e87ff"/>
<rect x="862.5" y="1318" width="42.6" height="7.6" fill="#1e82ff"/>
<rect x="904.5" y="1318" width="7.6" height="7.6" fill="#1e7dff"/>
<rect x="911.5" y="1318" width="21.6" height="7.6" fill="#1e82ff"/>
<rect x="932.5" y="1318" width="7.6" height="7.6" fill="#1e8cff"/>
<rect x="939.5" y="1318" width="7.6" height="7.6" fill="#2896ff"/>
<rect x="946.5" y="1318" width="7.6" height="7.6" fill="#2daaff"/>
<rect x="953.5" y="1318" width="7.6" height="7.6" fill="#37beff"/>
<rect x="960.5" y="1318" width="7.6" height="7.6" fill="#41cdff"/>
<rect x="967.5" y="1318" width="7.6" height="7.6" fill="#41d2ff"/>
<rect x="771.5" y="1325" width="7.6" height="7.6" fill="#41cdff"/>
<rect x="778.5" y="1325" width="7.6" height="7.6" fill="#3ccdff"/>
<rect x="785.5" y="1325" width="7.6" height="7.6" fill="#3cc3ff"/>
<rect x="792.5" y="1325" width="7.6" height="7.6" fill="#37b9ff"/>
<rect x="799.5" y="1325" width="7.6" height="7.6" fill="#32afff"/>
<rect x="806.5" y="1325" width="7.6" height="7.6" fill="#2daaff"/>
<rect x="813.5" y="1325" width="7.6" height="7.6" fill="#2da0ff"/>
<rect x="820.5" y="1325" width="7.6" height="7.6" fill="#289bff"/>
<rect x="827.5" y="1325" width="7.6" height="7.6" fill="#2896ff"/>
<rect x="834.5" y="1325" width="7.6" height="7.6" fill="#2391ff"/>
<rect x="841.5" y="1325" width="7.6" height="7.6" fill="#238cff"/>
<rect x="848.5" y="1325" width="14.6" height="7.6" fill="#1e87ff"/>
<rect x="862.5" y="1325" width="35.6" height="7.6" fill="#1e82ff"/>
<rect x="897.5" y="1325" width="28.6" height="7.6" fill="#1e87ff"/>
<rect x="925.5" y="1325" width="7.6" height="7.6" fill="#238cff"/>
<rect x="932.5" y="1325" width="7.6" height="7.6" fill="#2396ff"/>
<rect x="939.5" y="1325" width="7.6" height="7.6" fill="#2da0ff"/>
<rect x="946.5" y="1325" width="7.6" height="7.6" fill="#32b4ff"/>
<rect x="953.5" y="1325" width="7.6" height="7.6" fill="#3cc3ff"/>
<rect x="960.5" y="1325" width="7.6" height="7.6" fill="#3cc8ff"/>
<rect x="778.5" y="1332" width="7.6" height="7.6" fill="#3cc8ff"/>
<rect x="785.5" y="1332" width="7.6" height="7.6" fill="#3cc3ff"/>
<rect x="792.5" y="1332" width="7.6" height="7.6" fill="#37beff"/>
<rect x="799.5" y="1332" width="7.6" height="7.6" fill="#32b4ff"/>
<rect x="806.5" y="1332" width="7.6" height="7.6" fill="#32afff"/>
<rect x="813.5" y="1332" width="7.6" height="7.6" fill="#2da5ff"/>
<rect x="820.5" y="1332" width="7.6" height="7.6" fill="#28a0ff"/>
<rect x="827.5" y="1332" width="7.6" height="7.6" fill="#289bff"/>
<rect x="834.5" y="1332" width="7.6" height="7.6" fill="#2896ff"/>
<rect x="841.5" y="1332" width="7.6" height="7.6" fill="#2391ff"/>
<rect x="848.5" y="1332" width="14.6" height="7.6" fill="#238cff"/>
<rect x="862.5" y="1332" width="28.6" height="7.6" fill="#1e87ff"/>
<rect x="890.5" y="1332" width="14.6" height="7.6" fill="#238cff"/>
<rect x="904.5" y="1332" width="14.6" height="7.6" fill="#2391ff"/>
<rect x="918.5" y="1332" width="7.6" height="7.6" fill="#2396ff"/>
<rect x="925.5" y="1332" width="7.6" height="7.6" fill="#289bff"/>
<rect x="932.5" y="1332" width="7.6" height="7.6" fill="#2da5ff"/>
<rect x="939.5" y="1332" width="7.6" height="7.6" fill="#32afff"/>
<rect x="946.5" y="1332" width="7.6" height="7.6" fill="#37b9ff"/>
<rect x="953.5" y="1332" width="7.6" height="7.6" fill="#37beff"/>
<rect x="785.5" y="1339" width="14.6" height="7.6" fill="#37beff"/>
<rect x="799.5" y="1339" width="7.6" height="7.6" fill="#37b9ff"/>
<rect x="806.5" y="1339" width="7.6" height="7.6" fill="#32b4ff"/>
<rect x="813.5" y="1339" width="7.6" height="7.6" fill="#32afff"/>
<rect x="820.5" y="1339" width="7.6" height="7.6" fill="#2daaff"/>
<rect x="827.5" y="1339" width="7.6" height="7.6" fill="#2da5ff"/>
<rect x="834.5" y="1339" width="7.6" height="7.6" fill="#28a0ff"/>
<rect x="841.5" y="1339" width="7.6" height="7.6" fill="#289bff"/>
<rect x="848.5" y="1339" width="7.6" height="7.6" fill="#2896ff"/>
<rect x="855.5" y="1339" width="7.6" height="7.6" fill="#2391ff"/>
<rect x="862.5" y="1339" width="14.6" height="7.6" fill="#238cff"/>
<rect x="876.5" y="1339" width="14.6" height="7.6" fill="#2391ff"/>
<rect x="890.5" y="1339" width="7.6" height="7.6" fill="#2396ff"/>
<rect x="897.5" y="1339" width="7.6" height="7.6" fill="#2896ff"/>
<rect x="904.5" y="1339" width="14.6" height="7.6" fill="#289bff"/>
<rect x="918.5" y="1339" width="7.6" height="7.6" fill="#2da0ff"/>
<rect x="925.5" y="1339" width="7.6" height="7.6" fill="#2daaff"/>
<rect x="932.5" y="1339" width="14.6" height="7.6" fill="#32afff"/>
<rect x="946.5" y="1339" width="7.6" height="7.6" fill="#32b4ff"/>
<rect x="799.5" y="1346" width="7.6" height="7.6" fill="#37b9ff"/>
<rect x="806.5" y="1346" width="14.6" height="7.6" fill="#32b4ff"/>
<rect x="820.5" y="1346" width="7.6" height="7.6" fill="#32afff"/>
<rect x="827.5" y="1346" width="7.6" height="7.6" fill="#32aaff"/>
<rect x="834.5" y="1346" width="7.6" height="7.6" fill="#2daaff"/>
<rect x="841.5" y="1346" width="7.6" height="7.6" fill="#2da5ff"/>
<rect x="848.5" y="1346" width="7.6" height="7.6" fill="#2da0ff"/>
<rect x="855.5" y="1346" width="7.6" height="7.6" fill="#28a0ff"/>
<rect x="862.5" y="1346" width="21.6" height="7.6" fill="#289bff"/>
<rect x="883.5" y="1346" width="7.6" height="7.6" fill="#28a0ff"/>
<rect x="890.5" y="1346" width="7.6" height="7.6" fill="#2da0ff"/>
<rect x="897.5" y="1346" width="14.6" height="7.6" fill="#2da5ff"/>
<rect x="911.5" y="1346" width="7.6" height="7.6" fill="#2daaff"/>
<rect x="918.5" y="1346" width="21.6" height="7.6" fill="#32afff"/>
<rect x="813.5" y="1353" width="35.6" height="7.6" fill="#32b4ff"/>
<rect x="848.5" y="1353" width="77.6" height="7.6" fill="#32afff"/>
<rect x="834.5" y="1360" width="56.6" height="7.6" fill="#32b4ff"/>
<rect x="890.5" y="1360" width="21.6" height="7.6" fill="#32afff"/>
</g>
</g>
<g filter="url(#soft)">
<circle cx="870.5" cy="1228" r="130.7" fill="none" stroke="#000" stroke-width="2.2"/>
<g fill="#06181a">
<circle cx="830" cy="1103" r="3.3"/><circle cx="910" cy="1103" r="3.3"/><circle cx="765" cy="1149.6" r="3.3"/><circle cx="799" cy="1139.4" r="3.3"/><circle cx="870" cy="1135.6" r="3.3"/><circle cx="941" cy="1139.4" r="3.3"/><circle cx="975.6" cy="1149.6" r="3.3"/><circle cx="757" cy="1183" r="3.3"/><circle cx="823.6" cy="1179.2" r="3.3"/><circle cx="916.6" cy="1179.2" r="3.3"/><circle cx="983.4" cy="1183" r="3.3"/><circle cx="738.5" cy="1226.4" r="3.3"/><circle cx="778.4" cy="1226.6" r="3.3"/><circle cx="870" cy="1226.6" r="3.3"/><circle cx="962" cy="1226.6" r="3.3"/><circle cx="1002" cy="1226.4" r="3.3"/><circle cx="757" cy="1270.6" r="3.3"/><circle cx="823.6" cy="1274.8" r="3.3"/><circle cx="916.6" cy="1274.8" r="3.3"/><circle cx="983.4" cy="1270.6" r="3.3"/><circle cx="765" cy="1304" r="3.3"/><circle cx="799" cy="1314.4" r="3.3"/><circle cx="870" cy="1319" r="3.3"/><circle cx="941" cy="1314.4" r="3.3"/><circle cx="975.6" cy="1304" r="3.3"/><circle cx="830" cy="1351" r="3.3"/><circle cx="910" cy="1351" r="3.3"/>
</g>
</g>
</g>
<g id="head2">
<g fill="#fff" stroke="#000" stroke-width="1.7" filter="url(#soft)">
<path d="M1332.5 1095 C1336 1084.5 1346 1069.5 1354 1069 C1362 1069.5 1372 1084.5 1375.5 1095"/>
<path d="M1220 1227 C1214.5 1234 1211.5 1250 1212.5 1260 C1213.5 1268 1216.5 1270 1219 1268 C1221.5 1265 1222.5 1258 1223 1252"/>
<path d="M1489 1227 C1494.5 1234 1497.5 1250 1496.5 1260 C1495.5 1268 1492.5 1270 1490 1268 C1487.5 1265 1486.5 1258 1486 1252"/>
</g>
<g clip-path="url(#clip2)">
<g filter="url(#hb)">
<rect x="1323.5" y="1083.6" width="7.6" height="7.6" fill="#dcf51e"/>
<rect x="1330.5" y="1083.6" width="7.6" height="7.6" fill="#ebf514"/>
<rect x="1337.5" y="1083.6" width="7.6" height="7.6" fill="#f5f50a"/>
<rect x="1344.5" y="1083.6" width="7.6" height="7.6" fill="#fff500"/>
<rect x="1351.5" y="1083.6" width="7.6" height="7.6" fill="#fff000"/>
<rect x="1358.5" y="1083.6" width="7.6" height="7.6" fill="#ffeb00"/>
<rect x="1365.5" y="1083.6" width="7.6" height="7.6" fill="#fff000"/>
<rect x="1372.5" y="1083.6" width="7.6" height="7.6" fill="#fff500"/>
<rect x="1379.5" y="1083.6" width="7.6" height="7.6" fill="#fff000"/>
<rect x="1302.5" y="1090.6" width="7.6" height="7.6" fill="#b9f541"/>
<rect x="1309.5" y="1090.6" width="7.6" height="7.6" fill="#c3f537"/>
<rect x="1316.5" y="1090.6" width="7.6" height="7.6" fill="#cdf52d"/>
<rect x="1323.5" y="1090.6" width="7.6" height="7.6" fill="#dcf523"/>
<rect x="1330.5" y="1090.6" width="7.6" height="7.6" fill="#e6f514"/>
<rect x="1337.5" y="1090.6" width="7.6" height="7.6" fill="#f5f50a"/>
<rect x="1344.5" y="1090.6" width="7.6" height="7.6" fill="#fff500"/>
<rect x="1351.5" y="1090.6" width="21.6" height="7.6" fill="#fff000"/>
<rect x="1372.5" y="1090.6" width="7.6" height="7.6" fill="#fff500"/>
<rect x="1379.5" y="1090.6" width="7.6" height="7.6" fill="#fff000"/>
<rect x="1386.5" y="1090.6" width="7.6" height="7.6" fill="#fff500"/>
<rect x="1393.5" y="1090.6" width="7.6" height="7.6" fill="#f5f50a"/>
<rect x="1400.5" y="1090.6" width="7.6" height="7.6" fill="#e6f519"/>
<rect x="1288.5" y="1097.6" width="7.6" height="7.6" fill="#aafa50"/>
<rect x="1295.5" y="1097.6" width="7.6" height="7.6" fill="#aff54b"/>
<rect x="1302.5" y="1097.6" width="7.6" height="7.6" fill="#b4f546"/>
<rect x="1309.5" y="1097.6" width="21.6" height="7.6" fill="#bef53c"/>
<rect x="1330.5" y="1097.6" width="7.6" height="7.6" fill="#c3f537"/>
<rect x="1337.5" y="1097.6" width="7.6" height="7.6" fill="#c8f537"/>
<rect x="1344.5" y="1097.6" width="7.6" height="7.6" fill="#c8f532"/>
<rect x="1351.5" y="1097.6" width="7.6" height="7.6" fill="#cdf52d"/>
<rect x="1358.5" y="1097.6" width="7.6" height="7.6" fill="#d2f52d"/>
<rect x="1365.5" y="1097.6" width="7.6" height="7.6" fill="#d2f528"/>
<rect x="1372.5" y="1097.6" width="7.6" height="7.6" fill="#dcf51e"/>
<rect x="1379.5" y="1097.6" width="21.6" height="7.6" fill="#f0f50f"/>
<rect x="1400.5" y="1097.6" width="7.6" height="7.6" fill="#e1f51e"/>
<rect x="1407.5" y="1097.6" width="7.6" height="7.6" fill="#d2f52d"/>
<rect x="1414.5" y="1097.6" width="7.6" height="7.6" fill="#c8f532"/>
<rect x="1274.5" y="1104.6" width="7.6" height="7.6" fill="#a0fa5a"/>
<rect x="1281.5" y="1104.6" width="7.6" height="7.6" fill="#a5fa5a"/>
<rect x="1288.5" y="1104.6" width="7.6" height="7.6" fill="#aafa55"/>
<rect x="1295.5" y="1104.6" width="7.6" height="7.6" fill="#a5fa55"/>
<rect x="1302.5" y="1104.6" width="7.6" height="7.6" fill="#a0fa5a"/>
<rect x="1309.5" y="1104.6" width="14.6" height="7.6" fill="#a0fa5f"/>
<rect x="1323.5" y="1104.6" width="14.6" height="7.6" fill="#9bfa5f"/>
<rect x="1337.5" y="1104.6" width="7.6" height="7.6" fill="#9bfa64"/>
<rect x="1344.5" y="1104.6" width="7.6" height="7.6" fill="#96fa64"/>
<rect x="1351.5" y="1104.6" width="7.6" height="7.6" fill="#9bfa64"/>
<rect x="1358.5" y="1104.6" width="7.6" height="7.6" fill="#9bfa5f"/>
<rect x="1365.5" y="1104.6" width="7.6" height="7.6" fill="#a0fa5f"/>
<rect x="1372.5" y="1104.6" width="7.6" height="7.6" fill="#aafa55"/>
<rect x="1379.5" y="1104.6" width="7.6" height="7.6" fill="#bef53c"/>
<rect x="1386.5" y="1104.6" width="7.6" height="7.6" fill="#c8f537"/>
<rect x="1393.5" y="1104.6" width="7.6" height="7.6" fill="#c3f537"/>
<rect x="1400.5" y="1104.6" width="7.6" height="7.6" fill="#bef53c"/>
<rect x="1407.5" y="1104.6" width="14.6" height="7.6" fill="#c3f537"/>
<rect x="1421.5" y="1104.6" width="7.6" height="7.6" fill="#aff54b"/>
<rect x="1428.5" y="1104.6" width="7.6" height="7.6" fill="#a0fa5f"/>
<rect x="1267.5" y="1111.6" width="7.6" height="7.6" fill="#9bfa5f"/>
<rect x="1274.5" y="1111.6" width="7.6" height="7.6" fill="#a0fa5f"/>
<rect x="1281.5" y="1111.6" width="7.6" height="7.6" fill="#9bfa5f"/>
<rect x="1288.5" y="1111.6" width="7.6" height="7.6" fill="#96fa69"/>
<rect x="1295.5" y="1111.6" width="7.6" height="7.6" fill="#91fa6e"/>
<rect x="1302.5" y="1111.6" width="7.6" height="7.6" fill="#8cff73"/>
<rect x="1309.5" y="1111.6" width="7.6" height="7.6" fill="#87ff78"/>
<rect x="1316.5" y="1111.6" width="7.6" height="7.6" fill="#82ff7d"/>
<rect x="1323.5" y="1111.6" width="7.6" height="7.6" fill="#7dff82"/>
<rect x="1330.5" y="1111.6" width="7.6" height="7.6" fill="#7dff87"/>
<rect x="1337.5" y="1111.6" width="7.6" height="7.6" fill="#7dff8c"/>
<rect x="1344.5" y="1111.6" width="21.6" height="7.6" fill="#78ff91"/>
<rect x="1365.5" y="1111.6" width="7.6" height="7.6" fill="#7dff8c"/>
<rect x="1372.5" y="1111.6" width="7.6" height="7.6" fill="#7dff87"/>
<rect x="1379.5" y="1111.6" width="7.6" height="7.6" fill="#8cff73"/>
<rect x="1386.5" y="1111.6" width="7.6" height="7.6" fill="#96fa69"/>
<rect x="1393.5" y="1111.6" width="7.6" height="7.6" fill="#96fa64"/>
<rect x="1400.5" y="1111.6" width="7.6" height="7.6" fill="#9bfa64"/>
<rect x="1407.5" y="1111.6" width="7.6" height="7.6" fill="#9bfa5f"/>
<rect x="1414.5" y="1111.6" width="7.6" height="7.6" fill="#a0fa5a"/>
<rect x="1421.5" y="1111.6" width="7.6" height="7.6" fill="#a0fa5f"/>
<rect x="1428.5" y="1111.6" width="7.6" height="7.6" fill="#96fa69"/>
<rect x="1435.5" y="1111.6" width="7.6" height="7.6" fill="#87ff78"/>
<rect x="1253.5" y="1118.6" width="21.6" height="7.6" fill="#9bfa64"/>
<rect x="1274.5" y="1118.6" width="7.6" height="7.6" fill="#96fa69"/>
<rect x="1281.5" y="1118.6" width="7.6" height="7.6" fill="#8cff73"/>
<rect x="1288.5" y="1118.6" width="7.6" height="7.6" fill="#82ff7d"/>
<rect x="1295.5" y="1118.6" width="7.6" height="7.6" fill="#7dff82"/>
<rect x="1302.5" y="1118.6" width="7.6" height="7.6" fill="#7dff8c"/>
<rect x="1309.5" y="1118.6" width="7.6" height="7.6" fill="#78ff91"/>
<rect x="1316.5" y="1118.6" width="7.6" height="7.6" fill="#78ff96"/>
<rect x="1323.5" y="1118.6" width="7.6" height="7.6" fill="#78ffa0"/>
<rect x="1330.5" y="1118.6" width="7.6" height="7.6" fill="#73ffa5"/>
<rect x="1337.5" y="1118.6" width="7.6" height="7.6" fill="#73ffaa"/>
<rect x="1344.5" y="1118.6" width="7.6" height="7.6" fill="#6effaf"/>
<rect x="1351.5" y="1118.6" width="21.6" height="7.6" fill="#6effb4"/>
<rect x="1372.5" y="1118.6" width="7.6" height="7.6" fill="#73ffaf"/>
<rect x="1379.5" y="1118.6" width="7.6" height="7.6" fill="#73ffa5"/>
<rect x="1386.5" y="1118.6" width="7.6" height="7.6" fill="#78ff9b"/>
<rect x="1393.5" y="1118.6" width="7.6" height="7.6" fill="#78ff91"/>
<rect x="1400.5" y="1118.6" width="7.6" height="7.6" fill="#7dff91"/>
<rect x="1407.5" y="1118.6" width="7.6" height="7.6" fill="#7dff8c"/>
<rect x="1414.5" y="1118.6" width="7.6" height="7.6" fill="#7dff87"/>
<rect x="1421.5" y="1118.6" width="7.6" height="7.6" fill="#7dff82"/>
<rect x="1428.5" y="1118.6" width="7.6" height="7.6" fill="#82ff82"/>
<rect x="1435.5" y="1118.6" width="7.6" height="7.6" fill="#82ff7d"/>
<rect x="1442.5" y="1118.6" width="7.6" height="7.6" fill="#7dff82"/>
<rect x="1246.5" y="1125.6" width="21.6" height="7.6" fill="#9bfa64"/>
<rect x="1267.5" y="1125.6" width="7.6" height="7.6" fill="#91fa6e"/>
<rect x="1274.5" y="1125.6" width="7.6" height="7.6" fill="#87ff78"/>
<rect x="1281.5" y="1125.6" width="7.6" height="7.6" fill="#7dff82"/>
<rect x="1288.5" y="1125.6" width="7.6" height="7.6" fill="#7dff8c"/>
<rect x="1295.5" y="1125.6" width="7.6" height="7.6" fill="#78ff96"/>
<rect x="1302.5" y="1125.6" width="7.6" height="7.6" fill="#78ffa0"/>
<rect x="1309.5" y="1125.6" width="7.6" height="7.6" fill="#73ffa5"/>
<rect x="1316.5" y="1125.6" width="7.6" height="7.6" fill="#73ffaf"/>
<rect x="1323.5" y="1125.6" width="7.6" height="7.6" fill="#6effb4"/>
<rect x="1330.5" y="1125.6" width="7.6" height="7.6" fill="#69ffbe"/>
<rect x="1337.5" y="1125.6" width="7.6" height="7.6" fill="#69ffc3"/>
<rect x="1344.5" y="1125.6" width="7.6" height="7.6" fill="#69ffc8"/>
<rect x="1351.5" y="1125.6" width="7.6" height="7.6" fill="#64ffd2"/>
<rect x="1358.5" y="1125.6" width="14.6" height="7.6" fill="#64ffd7"/>
<rect x="1372.5" y="1125.6" width="7.6" height="7.6" fill="#64ffd2"/>
<rect x="1379.5" y="1125.6" width="7.6" height="7.6" fill="#64ffcd"/>
<rect x="1386.5" y="1125.6" width="7.6" height="7.6" fill="#69ffc3"/>
<rect x="1393.5" y="1125.6" width="7.6" height="7.6" fill="#69ffbe"/>
<rect x="1400.5" y="1125.6" width="7.6" height="7.6" fill="#6effb9"/>
<rect x="1407.5" y="1125.6" width="7.6" height="7.6" fill="#6effaf"/>
<rect x="1414.5" y="1125.6" width="7.6" height="7.6" fill="#73ffaa"/>
<rect x="1421.5" y="1125.6" width="7.6" height="7.6" fill="#73ffa0"/>
<rect x="1428.5" y="1125.6" width="7.6" height="7.6" fill="#78ff9b"/>
<rect x="1435.5" y="1125.6" width="7.6" height="7.6" fill="#78ff91"/>
<rect x="1442.5" y="1125.6" width="7.6" height="7.6" fill="#7dff87"/>
<rect x="1449.5" y="1125.6" width="7.6" height="7.6" fill="#7dff8c"/>
<rect x="1246.5" y="1132.6" width="14.6" height="7.6" fill="#9bfa64"/>
<rect x="1260.5" y="1132.6" width="7.6" height="7.6" fill="#91fa6e"/>
<rect x="1267.5" y="1132.6" width="7.6" height="7.6" fill="#82ff7d"/>
<rect x="1274.5" y="1132.6" width="7.6" height="7.6" fill="#7dff87"/>
<rect x="1281.5" y="1132.6" width="7.6" height="7.6" fill="#7dff91"/>
<rect x="1288.5" y="1132.6" width="7.6" height="7.6" fill="#78ff9b"/>
<rect x="1295.5" y="1132.6" width="7.6" height="7.6" fill="#73ffa5"/>
<rect x="1302.5" y="1132.6" width="7.6" height="7.6" fill="#73ffaf"/>
<rect x="1309.5" y="1132.6" width="7.6" height="7.6" fill="#6effb9"/>
<rect x="1316.5" y="1132.6" width="7.6" height="7.6" fill="#69ffbe"/>
<rect x="1323.5" y="1132.6" width="7.6" height="7.6" fill="#69ffc8"/>
<rect x="1330.5" y="1132.6" width="7.6" height="7.6" fill="#64ffd2"/>
<rect x="1337.5" y="1132.6" width="7.6" height="7.6" fill="#64ffd7"/>
<rect x="1344.5" y="1132.6" width="7.6" height="7.6" fill="#5fffe1"/>
<rect x="1351.5" y="1132.6" width="7.6" height="7.6" fill="#5fffe6"/>
<rect x="1358.5" y="1132.6" width="7.6" height="7.6" fill="#5afff0"/>
<rect x="1365.5" y="1132.6" width="14.6" height="7.6" fill="#5afff5"/>
<rect x="1379.5" y="1132.6" width="7.6" height="7.6" fill="#5afff0"/>
<rect x="1386.5" y="1132.6" width="7.6" height="7.6" fill="#5affeb"/>
<rect x="1393.5" y="1132.6" width="7.6" height="7.6" fill="#5fffe6"/>
<rect x="1400.5" y="1132.6" width="7.6" height="7.6" fill="#64ffdc"/>
<rect x="1407.5" y="1132.6" width="7.6" height="7.6" fill="#64ffd2"/>
<rect x="1414.5" y="1132.6" width="7.6" height="7.6" fill="#69ffc8"/>
<rect x="1421.5" y="1132.6" width="7.6" height="7.6" fill="#6effbe"/>
<rect x="1428.5" y="1132.6" width="7.6" height="7.6" fill="#6effb4"/>
<rect x="1435.5" y="1132.6" width="7.6" height="7.6" fill="#73ffa5"/>
<rect x="1442.5" y="1132.6" width="7.6" height="7.6" fill="#78ff9b"/>
<rect x="1449.5" y="1132.6" width="7.6" height="7.6" fill="#78ff91"/>
<rect x="1456.5" y="1132.6" width="7.6" height="7.6" fill="#78ff96"/>
<rect x="1239.5" y="1139.6" width="14.6" height="7.6" fill="#9bfa64"/>
<rect x="1253.5" y="1139.6" width="7.6" height="7.6" fill="#91fa6e"/>
<rect x="1260.5" y="1139.6" width="7.6" height="7.6" fill="#87ff78"/>
<rect x="1267.5" y="1139.6" width="7.6" height="7.6" fill="#7dff87"/>
<rect x="1274.5" y="1139.6" width="7.6" height="7.6" fill="#7dff91"/>
<rect x="1281.5" y="1139.6" width="7.6" height="7.6" fill="#78ff9b"/>
<rect x="1288.5" y="1139.6" width="7.6" height="7.6" fill="#73ffa5"/>
<rect x="1295.5" y="1139.6" width="7.6" height="7.6" fill="#6effaf"/>
<rect x="1302.5" y="1139.6" width="7.6" height="7.6" fill="#6effb9"/>
<rect x="1309.5" y="1139.6" width="7.6" height="7.6" fill="#69ffc3"/>
<rect x="1316.5" y="1139.6" width="7.6" height="7.6" fill="#64ffcd"/>
<rect x="1323.5" y="1139.6" width="7.6" height="7.6" fill="#64ffd7"/>
<rect x="1330.5" y="1139.6" width="7.6" height="7.6" fill="#5fffe1"/>
<rect x="1337.5" y="1139.6" width="7.6" height="7.6" fill="#5affeb"/>
<rect x="1344.5" y="1139.6" width="7.6" height="7.6" fill="#5afff5"/>
<rect x="1351.5" y="1139.6" width="7.6" height="7.6" fill="#55faff"/>
<rect x="1358.5" y="1139.6" width="7.6" height="7.6" fill="#50f0ff"/>
<rect x="1365.5" y="1139.6" width="7.6" height="7.6" fill="#4bebff"/>
<rect x="1372.5" y="1139.6" width="14.6" height="7.6" fill="#4be6ff"/>
<rect x="1386.5" y="1139.6" width="7.6" height="7.6" fill="#4bf0ff"/>
<rect x="1393.5" y="1139.6" width="7.6" height="7.6" fill="#55faff"/>
<rect x="1400.5" y="1139.6" width="7.6" height="7.6" fill="#5afff5"/>
<rect x="1407.5" y="1139.6" width="7.6" height="7.6" fill="#5affeb"/>
<rect x="1414.5" y="1139.6" width="7.6" height="7.6" fill="#5fffdc"/>
<rect x="1421.5" y="1139.6" width="7.6" height="7.6" fill="#64ffd2"/>
<rect x="1428.5" y="1139.6" width="7.6" height="7.6" fill="#69ffc3"/>
<rect x="1435.5" y="1139.6" width="7.6" height="7.6" fill="#6effb9"/>
<rect x="1442.5" y="1139.6" width="7.6" height="7.6" fill="#73ffaa"/>
<rect x="1449.5" y="1139.6" width="7.6" height="7.6" fill="#78ffa0"/>
<rect x="1456.5" y="1139.6" width="14.6" height="7.6" fill="#78ff96"/>
<rect x="1232.5" y="1146.6" width="14.6" height="7.6" fill="#9bfa5f"/>
<rect x="1246.5" y="1146.6" width="7.6" height="7.6" fill="#96fa69"/>
<rect x="1253.5" y="1146.6" width="7.6" height="7.6" fill="#8cff73"/>
<rect x="1260.5" y="1146.6" width="7.6" height="7.6" fill="#82ff82"/>
<rect x="1267.5" y="1146.6" width="7.6" height="7.6" fill="#7dff8c"/>
<rect x="1274.5" y="1146.6" width="7.6" height="7.6" fill="#78ff96"/>
<rect x="1281.5" y="1146.6" width="7.6" height="7.6" fill="#73ffa5"/>
<rect x="1288.5" y="1146.6" width="7.6" height="7.6" fill="#6effaf"/>
<rect x="1295.5" y="1146.6" width="7.6" height="7.6" fill="#6effb9"/>
<rect x="1302.5" y="1146.6" width="7.6" height="7.6" fill="#69ffc8"/>
<rect x="1309.5" y="1146.6" width="7.6" height="7.6" fill="#64ffd2"/>
<rect x="1316.5" y="1146.6" width="7.6" height="7.6" fill="#5fffdc"/>
<rect x="1323.5" y="1146.6" width="7.6" height="7.6" fill="#5fffe6"/>
<rect x="1330.5" y="1146.6" width="7.6" height="7.6" fill="#5afff0"/>
<rect x="1337.5" y="1146.6" width="7.6" height="7.6" fill="#55ffff"/>
<rect x="1344.5" y="1146.6" width="7.6" height="7.6" fill="#50f5ff"/>
<rect x="1351.5" y="1146.6" width="7.6" height="7.6" fill="#4be6ff"/>
<rect x="1358.5" y="1146.6" width="7.6" height="7.6" fill="#46d7ff"/>
<rect x="1365.5" y="1146.6" width="7.6" height="7.6" fill="#41d2ff"/>
<rect x="1372.5" y="1146.6" width="7.6" height="7.6" fill="#41cdff"/>
<rect x="1379.5" y="1146.6" width="7.6" height="7.6" fill="#3ccdff"/>
<rect x="1386.5" y="1146.6" width="7.6" height="7.6" fill="#41d7ff"/>
<rect x="1393.5" y="1146.6" width="7.6" height="7.6" fill="#4be6ff"/>
<rect x="1400.5" y="1146.6" width="7.6" height="7.6" fill="#50f5ff"/>
<rect x="1407.5" y="1146.6" width="7.6" height="7.6" fill="#55ffff"/>
<rect x="1414.5" y="1146.6" width="7.6" height="7.6" fill="#5afff0"/>
<rect x="1421.5" y="1146.6" width="7.6" height="7.6" fill="#5fffe1"/>
<rect x="1428.5" y="1146.6" width="7.6" height="7.6" fill="#64ffd2"/>
<rect x="1435.5" y="1146.6" width="7.6" height="7.6" fill="#69ffc8"/>
<rect x="1442.5" y="1146.6" width="7.6" height="7.6" fill="#6effb9"/>
<rect x="1449.5" y="1146.6" width="7.6" height="7.6" fill="#73ffaa"/>
<rect x="1456.5" y="1146.6" width="7.6" height="7.6" fill="#78ffa0"/>
<rect x="1463.5" y="1146.6" width="7.6" height="7.6" fill="#78ff9b"/>
<rect x="1470.5" y="1146.6" width="7.6" height="7.6" fill="#78ff96"/>
<rect x="1232.5" y="1153.6" width="7.6" height="7.6" fill="#a0fa5f"/>
<rect x="1239.5" y="1153.6" width="7.6" height="7.6" fill="#9bfa64"/>
<rect x="1246.5" y="1153.6" width="7.6" height="7.6" fill="#91fa6e"/>
<rect x="1253.5" y="1153.6" width="7.6" height="7.6" fill="#87ff78"/>
<rect x="1260.5" y="1153.6" width="7.6" height="7.6" fill="#7dff87"/>
<rect x="1267.5" y="1153.6" width="7.6" height="7.6" fill="#78ff91"/>
<rect x="1274.5" y="1153.6" width="7.6" height="7.6" fill="#78ffa0"/>
<rect x="1281.5" y="1153.6" width="7.6" height="7.6" fill="#73ffaa"/>
<rect x="1288.5" y="1153.6" width="7.6" height="7.6" fill="#6effb9"/>
<rect x="1295.5" y="1153.6" width="7.6" height="7.6" fill="#69ffc3"/>
<rect x="1302.5" y="1153.6" width="7.6" height="7.6" fill="#64ffcd"/>
<rect x="1309.5" y="1153.6" width="7.6" height="7.6" fill="#5fffdc"/>
<rect x="1316.5" y="1153.6" width="7.6" height="7.6" fill="#5fffe6"/>
<rect x="1323.5" y="1153.6" width="7.6" height="7.6" fill="#5afff0"/>
<rect x="1330.5" y="1153.6" width="7.6" height="7.6" fill="#55ffff"/>
<rect x="1337.5" y="1153.6" width="7.6" height="7.6" fill="#50f5ff"/>
<rect x="1344.5" y="1153.6" width="7.6" height="7.6" fill="#4be6ff"/>
<rect x="1351.5" y="1153.6" width="7.6" height="7.6" fill="#41d7ff"/>
<rect x="1358.5" y="1153.6" width="7.6" height="7.6" fill="#41cdff"/>
<rect x="1365.5" y="1153.6" width="7.6" height="7.6" fill="#3cc8ff"/>
<rect x="1372.5" y="1153.6" width="14.6" height="7.6" fill="#3cc3ff"/>
<rect x="1386.5" y="1153.6" width="7.6" height="7.6" fill="#3ccdff"/>
<rect x="1393.5" y="1153.6" width="7.6" height="7.6" fill="#46d7ff"/>
<rect x="1400.5" y="1153.6" width="7.6" height="7.6" fill="#4be6ff"/>
<rect x="1407.5" y="1153.6" width="7.6" height="7.6" fill="#50f5ff"/>
<rect x="1414.5" y="1153.6" width="7.6" height="7.6" fill="#55fffa"/>
<rect x="1421.5" y="1153.6" width="7.6" height="7.6" fill="#5affeb"/>
<rect x="1428.5" y="1153.6" width="7.6" height="7.6" fill="#5fffe1"/>
<rect x="1435.5" y="1153.6" width="7.6" height="7.6" fill="#64ffd2"/>
<rect x="1442.5" y="1153.6" width="7.6" height="7.6" fill="#69ffc3"/>
<rect x="1449.5" y="1153.6" width="7.6" height="7.6" fill="#6effb4"/>
<rect x="1456.5" y="1153.6" width="7.6" height="7.6" fill="#73ffaa"/>
<rect x="1463.5" y="1153.6" width="7.6" height="7.6" fill="#78ff9b"/>
<rect x="1470.5" y="1153.6" width="7.6" height="7.6" fill="#78ff96"/>
<rect x="1225.5" y="1160.6" width="14.6" height="7.6" fill="#a0fa5a"/>
<rect x="1239.5" y="1160.6" width="7.6" height="7.6" fill="#96fa64"/>
<rect x="1246.5" y="1160.6" width="7.6" height="7.6" fill="#8cff73"/>
<rect x="1253.5" y="1160.6" width="7.6" height="7.6" fill="#82ff7d"/>
<rect x="1260.5" y="1160.6" width="7.6" height="7.6" fill="#7dff8c"/>
<rect x="1267.5" y="1160.6" width="7.6" height="7.6" fill="#78ff96"/>
<rect x="1274.5" y="1160.6" width="7.6" height="7.6" fill="#73ffa5"/>
<rect x="1281.5" y="1160.6" width="7.6" height="7.6" fill="#6effaf"/>
<rect x="1288.5" y="1160.6" width="7.6" height="7.6" fill="#69ffbe"/>
<rect x="1295.5" y="1160.6" width="7.6" height="7.6" fill="#69ffcd"/>
<rect x="1302.5" y="1160.6" width="7.6" height="7.6" fill="#64ffd7"/>
<rect x="1309.5" y="1160.6" width="7.6" height="7.6" fill="#5fffe1"/>
<rect x="1316.5" y="1160.6" width="7.6" height="7.6" fill="#5afff0"/>
<rect x="1323.5" y="1160.6" width="7.6" height="7.6" fill="#55fffa"/>
<rect x="1330.5" y="1160.6" width="7.6" height="7.6" fill="#50f5ff"/>
<rect x="1337.5" y="1160.6" width="7.6" height="7.6" fill="#4bebff"/>
<rect x="1344.5" y="1160.6" width="7.6" height="7.6" fill="#46dcff"/>
<rect x="1351.5" y="1160.6" width="7.6" height="7.6" fill="#41d2ff"/>
<rect x="1358.5" y="1160.6" width="7.6" height="7.6" fill="#3cc8ff"/>
<rect x="1365.5" y="1160.6" width="21.6" height="7.6" fill="#3cc3ff"/>
<rect x="1386.5" y="1160.6" width="7.6" height="7.6" fill="#3ccdff"/>
<rect x="1393.5" y="1160.6" width="7.6" height="7.6" fill="#41d2ff"/>
<rect x="1400.5" y="1160.6" width="7.6" height="7.6" fill="#46e1ff"/>
<rect x="1407.5" y="1160.6" width="7.6" height="7.6" fill="#4bebff"/>
<rect x="1414.5" y="1160.6" width="7.6" height="7.6" fill="#55faff"/>
<rect x="1421.5" y="1160.6" width="7.6" height="7.6" fill="#5afff5"/>
<rect x="1428.5" y="1160.6" width="7.6" height="7.6" fill="#5fffe6"/>
<rect x="1435.5" y="1160.6" width="7.6" height="7.6" fill="#64ffd7"/>
<rect x="1442.5" y="1160.6" width="7.6" height="7.6" fill="#69ffcd"/>
<rect x="1449.5" y="1160.6" width="7.6" height="7.6" fill="#69ffbe"/>
<rect x="1456.5" y="1160.6" width="7.6" height="7.6" fill="#6effaf"/>
<rect x="1463.5" y="1160.6" width="7.6" height="7.6" fill="#78ffa0"/>
<rect x="1470.5" y="1160.6" width="14.6" height="7.6" fill="#78ff91"/>
<rect x="1225.5" y="1167.6" width="7.6" height="7.6" fill="#a5fa5a"/>
<rect x="1232.5" y="1167.6" width="7.6" height="7.6" fill="#a0fa5f"/>
<rect x="1239.5" y="1167.6" width="7.6" height="7.6" fill="#96fa69"/>
<rect x="1246.5" y="1167.6" width="7.6" height="7.6" fill="#8cff73"/>
<rect x="1253.5" y="1167.6" width="7.6" height="7.6" fill="#82ff82"/>
<rect x="1260.5" y="1167.6" width="7.6" height="7.6" fill="#7dff8c"/>
<rect x="1267.5" y="1167.6" width="7.6" height="7.6" fill="#78ff9b"/>
<rect x="1274.5" y="1167.6" width="7.6" height="7.6" fill="#73ffaa"/>
<rect x="1281.5" y="1167.6" width="7.6" height="7.6" fill="#6effb9"/>
<rect x="1288.5" y="1167.6" width="7.6" height="7.6" fill="#69ffc3"/>
<rect x="1295.5" y="1167.6" width="7.6" height="7.6" fill="#64ffd2"/>
<rect x="1302.5" y="1167.6" width="7.6" height="7.6" fill="#5fffdc"/>
<rect x="1309.5" y="1167.6" width="7.6" height="7.6" fill="#5affeb"/>
<rect x="1316.5" y="1167.6" width="7.6" height="7.6" fill="#5afff5"/>
<rect x="1323.5" y="1167.6" width="7.6" height="7.6" fill="#55faff"/>
<rect x="1330.5" y="1167.6" width="7.6" height="7.6" fill="#50f0ff"/>
<rect x="1337.5" y="1167.6" width="7.6" height="7.6" fill="#4be6ff"/>
<rect x="1344.5" y="1167.6" width="7.6" height="7.6" fill="#46d7ff"/>
<rect x="1351.5" y="1167.6" width="7.6" height="7.6" fill="#41cdff"/>
<rect x="1358.5" y="1167.6" width="7.6" height="7.6" fill="#3cc8ff"/>
<rect x="1365.5" y="1167.6" width="7.6" height="7.6" fill="#3cc3ff"/>
<rect x="1372.5" y="1167.6" width="7.6" height="7.6" fill="#37beff"/>
<rect x="1379.5" y="1167.6" width="7.6" height="7.6" fill="#3cc3ff"/>
<rect x="1386.5" y="1167.6" width="7.6" height="7.6" fill="#3cc8ff"/>
<rect x="1393.5" y="1167.6" width="7.6" height="7.6" fill="#41d2ff"/>
<rect x="1400.5" y="1167.6" width="7.6" height="7.6" fill="#46dcff"/>
<rect x="1407.5" y="1167.6" width="7.6" height="7.6" fill="#4be6ff"/>
<rect x="1414.5" y="1167.6" width="7.6" height="7.6" fill="#50f5ff"/>
<rect x="1421.5" y="1167.6" width="7.6" height="7.6" fill="#55fffa"/>
<rect x="1428.5" y="1167.6" width="7.6" height="7.6" fill="#5affeb"/>
<rect x="1435.5" y="1167.6" width="7.6" height="7.6" fill="#5fffe1"/>
<rect x="1442.5" y="1167.6" width="7.6" height="7.6" fill="#64ffd2"/>
<rect x="1449.5" y="1167.6" width="7.6" height="7.6" fill="#69ffc3"/>
<rect x="1456.5" y="1167.6" width="7.6" height="7.6" fill="#6effb4"/>
<rect x="1463.5" y="1167.6" width="7.6" height="7.6" fill="#73ffa0"/>
<rect x="1470.5" y="1167.6" width="7.6" height="7.6" fill="#78ff91"/>
<rect x="1477.5" y="1167.6" width="7.6" height="7.6" fill="#7dff8c"/>
<rect x="1218.5" y="1174.6" width="7.6" height="7.6" fill="#aafa55"/>
<rect x="1225.5" y="1174.6" width="7.6" height="7.6" fill="#a5fa55"/>
<rect x="1232.5" y="1174.6" width="7.6" height="7.6" fill="#a0fa5f"/>
<rect x="1239.5" y="1174.6" width="7.6" height="7.6" fill="#91fa69"/>
<rect x="1246.5" y="1174.6" width="7.6" height="7.6" fill="#87ff78"/>
<rect x="1253.5" y="1174.6" width="7.6" height="7.6" fill="#7dff82"/>
<rect x="1260.5" y="1174.6" width="7.6" height="7.6" fill="#78ff91"/>
<rect x="1267.5" y="1174.6" width="7.6" height="7.6" fill="#73ffa0"/>
<rect x="1274.5" y="1174.6" width="7.6" height="7.6" fill="#6effaf"/>
<rect x="1281.5" y="1174.6" width="7.6" height="7.6" fill="#69ffbe"/>
<rect x="1288.5" y="1174.6" width="7.6" height="7.6" fill="#69ffcd"/>
<rect x="1295.5" y="1174.6" width="7.6" height="7.6" fill="#64ffd7"/>
<rect x="1302.5" y="1174.6" width="7.6" height="7.6" fill="#5fffe6"/>
<rect x="1309.5" y="1174.6" width="7.6" height="7.6" fill="#5afff0"/>
<rect x="1316.5" y="1174.6" width="7.6" height="7.6" fill="#55fffa"/>
<rect x="1323.5" y="1174.6" width="7.6" height="7.6" fill="#50f5ff"/>
<rect x="1330.5" y="1174.6" width="7.6" height="7.6" fill="#4bebff"/>
<rect x="1337.5" y="1174.6" width="7.6" height="7.6" fill="#46e1ff"/>
<rect x="1344.5" y="1174.6" width="7.6" height="7.6" fill="#41d7ff"/>
<rect x="1351.5" y="1174.6" width="7.6" height="7.6" fill="#41cdff"/>
<rect x="1358.5" y="1174.6" width="7.6" height="7.6" fill="#3cc8ff"/>
<rect x="1365.5" y="1174.6" width="7.6" height="7.6" fill="#3cc3ff"/>
<rect x="1372.5" y="1174.6" width="7.6" height="7.6" fill="#37c3ff"/>
<rect x="1379.5" y="1174.6" width="7.6" height="7.6" fill="#3cc3ff"/>
<rect x="1386.5" y="1174.6" width="7.6" height="7.6" fill="#3cc8ff"/>
<rect x="1393.5" y="1174.6" width="7.6" height="7.6" fill="#41d2ff"/>
<rect x="1400.5" y="1174.6" width="7.6" height="7.6" fill="#46dcff"/>
<rect x="1407.5" y="1174.6" width="7.6" height="7.6" fill="#4be6ff"/>
<rect x="1414.5" y="1174.6" width="7.6" height="7.6" fill="#50f0ff"/>
<rect x="1421.5" y="1174.6" width="7.6" height="7.6" fill="#55ffff"/>
<rect x="1428.5" y="1174.6" width="7.6" height="7.6" fill="#5afff0"/>
<rect x="1435.5" y="1174.6" width="7.6" height="7.6" fill="#5fffe1"/>
<rect x="1442.5" y="1174.6" width="7.6" height="7.6" fill="#64ffd2"/>
<rect x="1449.5" y="1174.6" width="7.6" height="7.6" fill="#69ffc3"/>
<rect x="1456.5" y="1174.6" width="7.6" height="7.6" fill="#6effb4"/>
<rect x="1463.5" y="1174.6" width="7.6" height="7.6" fill="#73ffa5"/>
<rect x="1470.5" y="1174.6" width="7.6" height="7.6" fill="#78ff91"/>
<rect x="1477.5" y="1174.6" width="14.6" height="7.6" fill="#7dff87"/>
<rect x="1218.5" y="1181.6" width="7.6" height="7.6" fill="#aafa50"/>
<rect x="1225.5" y="1181.6" width="7.6" height="7.6" fill="#aafa55"/>
<rect x="1232.5" y="1181.6" width="7.6" height="7.6" fill="#a0fa5f"/>
<rect x="1239.5" y="1181.6" width="7.6" height="7.6" fill="#91fa69"/>
<rect x="1246.5" y="1181.6" width="7.6" height="7.6" fill="#87ff78"/>
<rect x="1253.5" y="1181.6" width="7.6" height="7.6" fill="#7dff87"/>
<rect x="1260.5" y="1181.6" width="7.6" height="7.6" fill="#78ff91"/>
<rect x="1267.5" y="1181.6" width="7.6" height="7.6" fill="#73ffa0"/>
<rect x="1274.5" y="1181.6" width="7.6" height="7.6" fill="#6effb4"/>
<rect x="1281.5" y="1181.6" width="7.6" height="7.6" fill="#69ffc3"/>
<rect x="1288.5" y="1181.6" width="7.6" height="7.6" fill="#64ffcd"/>
<rect x="1295.5" y="1181.6" width="7.6" height="7.6" fill="#5fffdc"/>
<rect x="1302.5" y="1181.6" width="7.6" height="7.6" fill="#5fffeb"/>
<rect x="1309.5" y="1181.6" width="7.6" height="7.6" fill="#5afff5"/>
<rect x="1316.5" y="1181.6" width="7.6" height="7.6" fill="#55ffff"/>
<rect x="1323.5" y="1181.6" width="7.6" height="7.6" fill="#50f5ff"/>
<rect x="1330.5" y="1181.6" width="7.6" height="7.6" fill="#4bebff"/>
<rect x="1337.5" y="1181.6" width="7.6" height="7.6" fill="#46e1ff"/>
<rect x="1344.5" y="1181.6" width="7.6" height="7.6" fill="#41d7ff"/>
<rect x="1351.5" y="1181.6" width="7.6" height="7.6" fill="#3ccdff"/>
<rect x="1358.5" y="1181.6" width="7.6" height="7.6" fill="#3cc8ff"/>
<rect x="1365.5" y="1181.6" width="21.6" height="7.6" fill="#3cc3ff"/>
<rect x="1386.5" y="1181.6" width="7.6" height="7.6" fill="#3cc8ff"/>
<rect x="1393.5" y="1181.6" width="7.6" height="7.6" fill="#41d2ff"/>
<rect x="1400.5" y="1181.6" width="7.6" height="7.6" fill="#46dcff"/>
<rect x="1407.5" y="1181.6" width="7.6" height="7.6" fill="#4be6ff"/>
<rect x="1414.5" y="1181.6" width="7.6" height="7.6" fill="#50f0ff"/>
<rect x="1421.5" y="1181.6" width="7.6" height="7.6" fill="#55ffff"/>
<rect x="1428.5" y="1181.6" width="7.6" height="7.6" fill="#5afff5"/>
<rect x="1435.5" y="1181.6" width="7.6" height="7.6" fill="#5fffe6"/>
<rect x="1442.5" y="1181.6" width="7.6" height="7.6" fill="#64ffd7"/>
<rect x="1449.5" y="1181.6" width="7.6" height="7.6" fill="#69ffc3"/>
<rect x="1456.5" y="1181.6" width="7.6" height="7.6" fill="#6effb4"/>
<rect x="1463.5" y="1181.6" width="7.6" height="7.6" fill="#73ffa5"/>
<rect x="1470.5" y="1181.6" width="7.6" height="7.6" fill="#78ff91"/>
<rect x="1477.5" y="1181.6" width="7.6" height="7.6" fill="#7dff82"/>
<rect x="1484.5" y="1181.6" width="7.6" height="7.6" fill="#82ff82"/>
<rect x="1218.5" y="1188.6" width="7.6" height="7.6" fill="#aff550"/>
<rect x="1225.5" y="1188.6" width="7.6" height="7.6" fill="#aafa55"/>
<rect x="1232.5" y="1188.6" width="7.6" height="7.6" fill="#a0fa5f"/>
<rect x="1239.5" y="1188.6" width="7.6" height="7.6" fill="#91fa69"/>
<rect x="1246.5" y="1188.6" width="7.6" height="7.6" fill="#87ff78"/>
<rect x="1253.5" y="1188.6" width="7.6" height="7.6" fill="#7dff87"/>
<rect x="1260.5" y="1188.6" width="7.6" height="7.6" fill="#78ff96"/>
<rect x="1267.5" y="1188.6" width="7.6" height="7.6" fill="#73ffa5"/>
<rect x="1274.5" y="1188.6" width="7.6" height="7.6" fill="#6effb4"/>
<rect x="1281.5" y="1188.6" width="7.6" height="7.6" fill="#69ffc3"/>
<rect x="1288.5" y="1188.6" width="7.6" height="7.6" fill="#64ffd2"/>
<rect x="1295.5" y="1188.6" width="7.6" height="7.6" fill="#5fffe1"/>
<rect x="1302.5" y="1188.6" width="7.6" height="7.6" fill="#5affeb"/>
<rect x="1309.5" y="1188.6" width="7.6" height="7.6" fill="#5afff5"/>
<rect x="1316.5" y="1188.6" width="7.6" height="7.6" fill="#55ffff"/>
<rect x="1323.5" y="1188.6" width="7.6" height="7.6" fill="#50f0ff"/>
<rect x="1330.5" y="1188.6" width="7.6" height="7.6" fill="#4be6ff"/>
<rect x="1337.5" y="1188.6" width="7.6" height="7.6" fill="#46dcff"/>
<rect x="1344.5" y="1188.6" width="7.6" height="7.6" fill="#41d7ff"/>
<rect x="1351.5" y="1188.6" width="7.6" height="7.6" fill="#41cdff"/>
<rect x="1358.5" y="1188.6" width="7.6" height="7.6" fill="#3cc8ff"/>
<rect x="1365.5" y="1188.6" width="14.6" height="7.6" fill="#3cc3ff"/>
<rect x="1379.5" y="1188.6" width="7.6" height="7.6" fill="#3cc8ff"/>
<rect x="1386.5" y="1188.6" width="7.6" height="7.6" fill="#3ccdff"/>
<rect x="1393.5" y="1188.6" width="7.6" height="7.6" fill="#41d2ff"/>
<rect x="1400.5" y="1188.6" width="7.6" height="7.6" fill="#46dcff"/>
<rect x="1407.5" y="1188.6" width="7.6" height="7.6" fill="#4be6ff"/>
<rect x="1414.5" y="1188.6" width="7.6" height="7.6" fill="#50f0ff"/>
<rect x="1421.5" y="1188.6" width="7.6" height="7.6" fill="#55ffff"/>
<rect x="1428.5" y="1188.6" width="7.6" height="7.6" fill="#5afff5"/>
<rect x="1435.5" y="1188.6" width="7.6" height="7.6" fill="#5fffe6"/>
<rect x="1442.5" y="1188.6" width="7.6" height="7.6" fill="#64ffd7"/>
<rect x="1449.5" y="1188.6" width="7.6" height="7.6" fill="#69ffc3"/>
<rect x="1456.5" y="1188.6" width="7.6" height="7.6" fill="#6effb4"/>
<rect x="1463.5" y="1188.6" width="7.6" height="7.6" fill="#73ffa0"/>
<rect x="1470.5" y="1188.6" width="7.6" height="7.6" fill="#78ff91"/>
<rect x="1477.5" y="1188.6" width="7.6" height="7.6" fill="#82ff82"/>
<rect x="1484.5" y="1188.6" width="7.6" height="7.6" fill="#82ff7d"/>
<rect x="1211.5" y="1195.6" width="14.6" height="7.6" fill="#aff54b"/>
<rect x="1225.5" y="1195.6" width="7.6" height="7.6" fill="#aafa50"/>
<rect x="1232.5" y="1195.6" width="7.6" height="7.6" fill="#a0fa5f"/>
<rect x="1239.5" y="1195.6" width="7.6" height="7.6" fill="#96fa69"/>
<rect x="1246.5" y="1195.6" width="7.6" height="7.6" fill="#87ff78"/>
<rect x="1253.5" y="1195.6" width="7.6" height="7.6" fill="#7dff82"/>
<rect x="1260.5" y="1195.6" width="7.6" height="7.6" fill="#78ff96"/>
<rect x="1267.5" y="1195.6" width="7.6" height="7.6" fill="#73ffa5"/>
<rect x="1274.5" y="1195.6" width="7.6" height="7.6" fill="#6effb4"/>
<rect x="1281.5" y="1195.6" width="7.6" height="7.6" fill="#69ffc8"/>
<rect x="1288.5" y="1195.6" width="7.6" height="7.6" fill="#64ffd7"/>
<rect x="1295.5" y="1195.6" width="7.6" height="7.6" fill="#5fffe1"/>
<rect x="1302.5" y="1195.6" width="7.6" height="7.6" fill="#5affeb"/>
<rect x="1309.5" y="1195.6" width="7.6" height="7.6" fill="#5afff5"/>
<rect x="1316.5" y="1195.6" width="7.6" height="7.6" fill="#55faff"/>
<rect x="1323.5" y="1195.6" width="7.6" height="7.6" fill="#50f0ff"/>
<rect x="1330.5" y="1195.6" width="7.6" height="7.6" fill="#4be6ff"/>
<rect x="1337.5" y="1195.6" width="7.6" height="7.6" fill="#46dcff"/>
<rect x="1344.5" y="1195.6" width="7.6" height="7.6" fill="#41d7ff"/>
<rect x="1351.5" y="1195.6" width="7.6" height="7.6" fill="#41cdff"/>
<rect x="1358.5" y="1195.6" width="28.6" height="7.6" fill="#3cc8ff"/>
<rect x="1386.5" y="1195.6" width="7.6" height="7.6" fill="#41cdff"/>
<rect x="1393.5" y="1195.6" width="7.6" height="7.6" fill="#41d7ff"/>
<rect x="1400.5" y="1195.6" width="7.6" height="7.6" fill="#46dcff"/>
<rect x="1407.5" y="1195.6" width="7.6" height="7.6" fill="#4be6ff"/>
<rect x="1414.5" y="1195.6" width="7.6" height="7.6" fill="#50f0ff"/>
<rect x="1421.5" y="1195.6" width="7.6" height="7.6" fill="#55ffff"/>
<rect x="1428.5" y="1195.6" width="7.6" height="7.6" fill="#5afff0"/>
<rect x="1435.5" y="1195.6" width="7.6" height="7.6" fill="#5fffe1"/>
<rect x="1442.5" y="1195.6" width="7.6" height="7.6" fill="#64ffd2"/>
<rect x="1449.5" y="1195.6" width="7.6" height="7.6" fill="#69ffc3"/>
<rect x="1456.5" y="1195.6" width="7.6" height="7.6" fill="#6effb4"/>
<rect x="1463.5" y="1195.6" width="7.6" height="7.6" fill="#73ffa0"/>
<rect x="1470.5" y="1195.6" width="7.6" height="7.6" fill="#7dff91"/>
<rect x="1477.5" y="1195.6" width="7.6" height="7.6" fill="#82ff82"/>
<rect x="1484.5" y="1195.6" width="7.6" height="7.6" fill="#87ff78"/>
<rect x="1211.5" y="1202.6" width="14.6" height="7.6" fill="#b4f546"/>
<rect x="1225.5" y="1202.6" width="7.6" height="7.6" fill="#aaf550"/>
<rect x="1232.5" y="1202.6" width="7.6" height="7.6" fill="#a0fa5a"/>
<rect x="1239.5" y="1202.6" width="7.6" height="7.6" fill="#96fa69"/>
<rect x="1246.5" y="1202.6" width="7.6" height="7.6" fill="#8cff73"/>
<rect x="1253.5" y="1202.6" width="7.6" height="7.6" fill="#7dff82"/>
<rect x="1260.5" y="1202.6" width="7.6" height="7.6" fill="#78ff91"/>
<rect x="1267.5" y="1202.6" width="7.6" height="7.6" fill="#73ffa5"/>
<rect x="1274.5" y="1202.6" width="7.6" height="7.6" fill="#6effb4"/>
<rect x="1281.5" y="1202.6" width="7.6" height="7.6" fill="#69ffc3"/>
<rect x="1288.5" y="1202.6" width="7.6" height="7.6" fill="#64ffd2"/>
<rect x="1295.5" y="1202.6" width="7.6" height="7.6" fill="#5fffe1"/>
<rect x="1302.5" y="1202.6" width="7.6" height="7.6" fill="#5affeb"/>
<rect x="1309.5" y="1202.6" width="7.6" height="7.6" fill="#5afff5"/>
<rect x="1316.5" y="1202.6" width="7.6" height="7.6" fill="#55ffff"/>
<rect x="1323.5" y="1202.6" width="7.6" height="7.6" fill="#50f5ff"/>
<rect x="1330.5" y="1202.6" width="7.6" height="7.6" fill="#4bebff"/>
<rect x="1337.5" y="1202.6" width="7.6" height="7.6" fill="#46e1ff"/>
<rect x="1344.5" y="1202.6" width="7.6" height="7.6" fill="#41d7ff"/>
<rect x="1351.5" y="1202.6" width="7.6" height="7.6" fill="#41d2ff"/>
<rect x="1358.5" y="1202.6" width="7.6" height="7.6" fill="#3ccdff"/>
<rect x="1365.5" y="1202.6" width="14.6" height="7.6" fill="#3cc8ff"/>
<rect x="1379.5" y="1202.6" width="7.6" height="7.6" fill="#41cdff"/>
<rect x="1386.5" y="1202.6" width="7.6" height="7.6" fill="#41d2ff"/>
<rect x="1393.5" y="1202.6" width="7.6" height="7.6" fill="#41d7ff"/>
<rect x="1400.5" y="1202.6" width="7.6" height="7.6" fill="#46e1ff"/>
<rect x="1407.5" y="1202.6" width="7.6" height="7.6" fill="#4bebff"/>
<rect x="1414.5" y="1202.6" width="7.6" height="7.6" fill="#50f5ff"/>
<rect x="1421.5" y="1202.6" width="7.6" height="7.6" fill="#55ffff"/>
<rect x="1428.5" y="1202.6" width="7.6" height="7.6" fill="#5afff0"/>
<rect x="1435.5" y="1202.6" width="7.6" height="7.6" fill="#5fffe1"/>
<rect x="1442.5" y="1202.6" width="7.6" height="7.6" fill="#64ffd2"/>
<rect x="1449.5" y="1202.6" width="7.6" height="7.6" fill="#69ffc3"/>
<rect x="1456.5" y="1202.6" width="7.6" height="7.6" fill="#6effb4"/>
<rect x="1463.5" y="1202.6" width="7.6" height="7.6" fill="#73ffa0"/>
<rect x="1470.5" y="1202.6" width="7.6" height="7.6" fill="#7dff91"/>
<rect x="1477.5" y="1202.6" width="7.6" height="7.6" fill="#82ff82"/>
<rect x="1484.5" y="1202.6" width="14.6" height="7.6" fill="#87ff78"/>
<rect x="1211.5" y="1209.6" width="14.6" height="7.6" fill="#b4f546"/>
<rect x="1225.5" y="1209.6" width="7.6" height="7.6" fill="#aaf550"/>
<rect x="1232.5" y="1209.6" width="7.6" height="7.6" fill="#a5fa5a"/>
<rect x="1239.5" y="1209.6" width="7.6" height="7.6" fill="#96fa64"/>
<rect x="1246.5" y="1209.6" width="7.6" height="7.6" fill="#8cff73"/>
<rect x="1253.5" y="1209.6" width="7.6" height="7.6" fill="#7dff82"/>
<rect x="1260.5" y="1209.6" width="7.6" height="7.6" fill="#78ff91"/>
<rect x="1267.5" y="1209.6" width="7.6" height="7.6" fill="#73ffa0"/>
<rect x="1274.5" y="1209.6" width="7.6" height="7.6" fill="#6effb4"/>
<rect x="1281.5" y="1209.6" width="7.6" height="7.6" fill="#69ffc3"/>
<rect x="1288.5" y="1209.6" width="7.6" height="7.6" fill="#64ffd2"/>
<rect x="1295.5" y="1209.6" width="7.6" height="7.6" fill="#5fffdc"/>
<rect x="1302.5" y="1209.6" width="7.6" height="7.6" fill="#5affeb"/>
<rect x="1309.5" y="1209.6" width="7.6" height="7.6" fill="#5afff5"/>
<rect x="1316.5" y="1209.6" width="7.6" height="7.6" fill="#55ffff"/>
<rect x="1323.5" y="1209.6" width="7.6" height="7.6" fill="#50f5ff"/>
<rect x="1330.5" y="1209.6" width="7.6" height="7.6" fill="#4bebff"/>
<rect x="1337.5" y="1209.6" width="7.6" height="7.6" fill="#46e1ff"/>
<rect x="1344.5" y="1209.6" width="7.6" height="7.6" fill="#46dcff"/>
<rect x="1351.5" y="1209.6" width="7.6" height="7.6" fill="#41d2ff"/>
<rect x="1358.5" y="1209.6" width="21.6" height="7.6" fill="#41cdff"/>
<rect x="1379.5" y="1209.6" width="7.6" height="7.6" fill="#41d2ff"/>
<rect x="1386.5" y="1209.6" width="7.6" height="7.6" fill="#41d7ff"/>
<rect x="1393.5" y="1209.6" width="7.6" height="7.6" fill="#46dcff"/>
<rect x="1400.5" y="1209.6" width="7.6" height="7.6" fill="#46e1ff"/>
<rect x="1407.5" y="1209.6" width="7.6" height="7.6" fill="#4bebff"/>
<rect x="1414.5" y="1209.6" width="7.6" height="7.6" fill="#50f5ff"/>
<rect x="1421.5" y="1209.6" width="7.6" height="7.6" fill="#55fffa"/>
<rect x="1428.5" y="1209.6" width="7.6" height="7.6" fill="#5afff0"/>
<rect x="1435.5" y="1209.6" width="7.6" height="7.6" fill="#5fffe1"/>
<rect x="1442.5" y="1209.6" width="7.6" height="7.6" fill="#64ffd2"/>
<rect x="1449.5" y="1209.6" width="7.6" height="7.6" fill="#69ffc3"/>
<rect x="1456.5" y="1209.6" width="7.6" height="7.6" fill="#6effb4"/>
<rect x="1463.5" y="1209.6" width="7.6" height="7.6" fill="#73ffa0"/>
<rect x="1470.5" y="1209.6" width="7.6" height="7.6" fill="#78ff91"/>
<rect x="1477.5" y="1209.6" width="7.6" height="7.6" fill="#7dff82"/>
<rect x="1484.5" y="1209.6" width="14.6" height="7.6" fill="#87ff78"/>
<rect x="1211.5" y="1216.6" width="14.6" height="7.6" fill="#b4f546"/>
<rect x="1225.5" y="1216.6" width="7.6" height="7.6" fill="#aff550"/>
<rect x="1232.5" y="1216.6" width="7.6" height="7.6" fill="#a5fa5a"/>
<rect x="1239.5" y="1216.6" width="7.6" height="7.6" fill="#9bfa64"/>
<rect x="1246.5" y="1216.6" width="7.6" height="7.6" fill="#8cff73"/>
<rect x="1253.5" y="1216.6" width="7.6" height="7.6" fill="#82ff82"/>
<rect x="1260.5" y="1216.6" width="7.6" height="7.6" fill="#7dff91"/>
<rect x="1267.5" y="1216.6" width="7.6" height="7.6" fill="#73ffa0"/>
<rect x="1274.5" y="1216.6" width="7.6" height="7.6" fill="#6effaf"/>
<rect x="1281.5" y="1216.6" width="7.6" height="7.6" fill="#69ffbe"/>
<rect x="1288.5" y="1216.6" width="7.6" height="7.6" fill="#64ffcd"/>
<rect x="1295.5" y="1216.6" width="7.6" height="7.6" fill="#64ffdc"/>
<rect x="1302.5" y="1216.6" width="7.6" height="7.6" fill="#5fffe6"/>
<rect x="1309.5" y="1216.6" width="7.6" height="7.6" fill="#5afff0"/>
<rect x="1316.5" y="1216.6" width="7.6" height="7.6" fill="#55fffa"/>
<rect x="1323.5" y="1216.6" width="7.6" height="7.6" fill="#50faff"/>
<rect x="1330.5" y="1216.6" width="7.6" height="7.6" fill="#4bf0ff"/>
<rect x="1337.5" y="1216.6" width="7.6" height="7.6" fill="#4be6ff"/>
<rect x="1344.5" y="1216.6" width="7.6" height="7.6" fill="#46dcff"/>
<rect x="1351.5" y="1216.6" width="7.6" height="7.6" fill="#41d7ff"/>
<rect x="1358.5" y="1216.6" width="21.6" height="7.6" fill="#41d2ff"/>
<rect x="1379.5" y="1216.6" width="7.6" height="7.6" fill="#41d7ff"/>
<rect x="1386.5" y="1216.6" width="7.6" height="7.6" fill="#46d7ff"/>
<rect x="1393.5" y="1216.6" width="7.6" height="7.6" fill="#46e1ff"/>
<rect x="1400.5" y="1216.6" width="7.6" height="7.6" fill="#4be6ff"/>
<rect x="1407.5" y="1216.6" width="7.6" height="7.6" fill="#50f0ff"/>
<rect x="1414.5" y="1216.6" width="7.6" height="7.6" fill="#50faff"/>
<rect x="1421.5" y="1216.6" width="7.6" height="7.6" fill="#55fffa"/>
<rect x="1428.5" y="1216.6" width="7.6" height="7.6" fill="#5affeb"/>
<rect x="1435.5" y="1216.6" width="7.6" height="7.6" fill="#5fffe1"/>
<rect x="1442.5" y="1216.6" width="7.6" height="7.6" fill="#64ffd2"/>
<rect x="1449.5" y="1216.6" width="7.6" height="7.6" fill="#69ffc3"/>
<rect x="1456.5" y="1216.6" width="7.6" height="7.6" fill="#6effaf"/>
<rect x="1463.5" y="1216.6" width="7.6" height="7.6" fill="#73ffa0"/>
<rect x="1470.5" y="1216.6" width="7.6" height="7.6" fill="#78ff91"/>
<rect x="1477.5" y="1216.6" width="7.6" height="7.6" fill="#7dff82"/>
<rect x="1484.5" y="1216.6" width="14.6" height="7.6" fill="#87ff78"/>
<rect x="1211.5" y="1223.6" width="14.6" height="7.6" fill="#b4f546"/>
<rect x="1225.5" y="1223.6" width="7.6" height="7.6" fill="#aff550"/>
<rect x="1232.5" y="1223.6" width="7.6" height="7.6" fill="#a5fa55"/>
<rect x="1239.5" y="1223.6" width="7.6" height="7.6" fill="#9bfa64"/>
<rect x="1246.5" y="1223.6" width="7.6" height="7.6" fill="#8cfa6e"/>
<rect x="1253.5" y="1223.6" width="7.6" height="7.6" fill="#82ff7d"/>
<rect x="1260.5" y="1223.6" width="7.6" height="7.6" fill="#7dff8c"/>
<rect x="1267.5" y="1223.6" width="7.6" height="7.6" fill="#78ff9b"/>
<rect x="1274.5" y="1223.6" width="7.6" height="7.6" fill="#73ffaa"/>
<rect x="1281.5" y="1223.6" width="7.6" height="7.6" fill="#6effb9"/>
<rect x="1288.5" y="1223.6" width="7.6" height="7.6" fill="#69ffc8"/>
<rect x="1295.5" y="1223.6" width="7.6" height="7.6" fill="#64ffd7"/>
<rect x="1302.5" y="1223.6" width="7.6" height="7.6" fill="#5fffe1"/>
<rect x="1309.5" y="1223.6" width="7.6" height="7.6" fill="#5affeb"/>
<rect x="1316.5" y="1223.6" width="7.6" height="7.6" fill="#55fffa"/>
<rect x="1323.5" y="1223.6" width="7.6" height="7.6" fill="#55faff"/>
<rect x="1330.5" y="1223.6" width="7.6" height="7.6" fill="#50f0ff"/>
<rect x="1337.5" y="1223.6" width="7.6" height="7.6" fill="#4be6ff"/>
<rect x="1344.5" y="1223.6" width="7.6" height="7.6" fill="#46e1ff"/>
<rect x="1351.5" y="1223.6" width="7.6" height="7.6" fill="#46dcff"/>
<rect x="1358.5" y="1223.6" width="21.6" height="7.6" fill="#41d7ff"/>
<rect x="1379.5" y="1223.6" width="7.6" height="7.6" fill="#46d7ff"/>
<rect x="1386.5" y="1223.6" width="7.6" height="7.6" fill="#46dcff"/>
<rect x="1393.5" y="1223.6" width="7.6" height="7.6" fill="#4be1ff"/>
<rect x="1400.5" y="1223.6" width="7.6" height="7.6" fill="#4bebff"/>
<rect x="1407.5" y="1223.6" width="7.6" height="7.6" fill="#50f5ff"/>
<rect x="1414.5" y="1223.6" width="7.6" height="7.6" fill="#55ffff"/>
<rect x="1421.5" y="1223.6" width="7.6" height="7.6" fill="#5afff5"/>
<rect x="1428.5" y="1223.6" width="7.6" height="7.6" fill="#5affeb"/>
<rect x="1435.5" y="1223.6" width="7.6" height="7.6" fill="#5fffdc"/>
<rect x="1442.5" y="1223.6" width="7.6" height="7.6" fill="#64ffcd"/>
<rect x="1449.5" y="1223.6" width="7.6" height="7.6" fill="#69ffbe"/>
<rect x="1456.5" y="1223.6" width="7.6" height="7.6" fill="#6effaf"/>
<rect x="1463.5" y="1223.6" width="7.6" height="7.6" fill="#73ffa0"/>
<rect x="1470.5" y="1223.6" width="7.6" height="7.6" fill="#78ff91"/>
<rect x="1477.5" y="1223.6" width="7.6" height="7.6" fill="#7dff82"/>
<rect x="1484.5" y="1223.6" width="14.6" height="7.6" fill="#87ff78"/>
<rect x="1211.5" y="1230.6" width="14.6" height="7.6" fill="#b4f546"/>
<rect x="1225.5" y="1230.6" width="7.6" height="7.6" fill="#aff54b"/>
<rect x="1232.5" y="1230.6" width="7.6" height="7.6" fill="#a5fa55"/>
<rect x="1239.5" y="1230.6" width="7.6" height="7.6" fill="#9bfa64"/>
<rect x="1246.5" y="1230.6" width="7.6" height="7.6" fill="#91fa6e"/>
<rect x="1253.5" y="1230.6" width="7.6" height="7.6" fill="#82ff7d"/>
<rect x="1260.5" y="1230.6" width="7.6" height="7.6" fill="#7dff8c"/>
<rect x="1267.5" y="1230.6" width="7.6" height="7.6" fill="#78ff9b"/>
<rect x="1274.5" y="1230.6" width="7.6" height="7.6" fill="#73ffaa"/>
<rect x="1281.5" y="1230.6" width="7.6" height="7.6" fill="#6effb9"/>
<rect x="1288.5" y="1230.6" width="7.6" height="7.6" fill="#69ffc3"/>
<rect x="1295.5" y="1230.6" width="7.6" height="7.6" fill="#64ffd2"/>
<rect x="1302.5" y="1230.6" width="7.6" height="7.6" fill="#5fffe1"/>
<rect x="1309.5" y="1230.6" width="7.6" height="7.6" fill="#5affeb"/>
<rect x="1316.5" y="1230.6" width="7.6" height="7.6" fill="#5afff5"/>
<rect x="1323.5" y="1230.6" width="7.6" height="7.6" fill="#55ffff"/>
<rect x="1330.5" y="1230.6" width="7.6" height="7.6" fill="#50f5ff"/>
<rect x="1337.5" y="1230.6" width="7.6" height="7.6" fill="#4bebff"/>
<rect x="1344.5" y="1230.6" width="7.6" height="7.6" fill="#4be1ff"/>
<rect x="1351.5" y="1230.6" width="14.6" height="7.6" fill="#46dcff"/>
<rect x="1365.5" y="1230.6" width="7.6" height="7.6" fill="#46d7ff"/>
<rect x="1372.5" y="1230.6" width="14.6" height="7.6" fill="#46dcff"/>
<rect x="1386.5" y="1230.6" width="7.6" height="7.6" fill="#46e1ff"/>
<rect x="1393.5" y="1230.6" width="7.6" height="7.6" fill="#4bebff"/>
<rect x="1400.5" y="1230.6" width="7.6" height="7.6" fill="#50f0ff"/>
<rect x="1407.5" y="1230.6" width="7.6" height="7.6" fill="#50faff"/>
<rect x="1414.5" y="1230.6" width="7.6" height="7.6" fill="#55ffff"/>
<rect x="1421.5" y="1230.6" width="7.6" height="7.6" fill="#5afff0"/>
<rect x="1428.5" y="1230.6" width="7.6" height="7.6" fill="#5fffe6"/>
<rect x="1435.5" y="1230.6" width="7.6" height="7.6" fill="#5fffdc"/>
<rect x="1442.5" y="1230.6" width="7.6" height="7.6" fill="#64ffcd"/>
<rect x="1449.5" y="1230.6" width="7.6" height="7.6" fill="#69ffbe"/>
<rect x="1456.5" y="1230.6" width="7.6" height="7.6" fill="#6effaf"/>
<rect x="1463.5" y="1230.6" width="7.6" height="7.6" fill="#73ffa0"/>
<rect x="1470.5" y="1230.6" width="7.6" height="7.6" fill="#78ff91"/>
<rect x="1477.5" y="1230.6" width="7.6" height="7.6" fill="#7dff82"/>
<rect x="1484.5" y="1230.6" width="14.6" height="7.6" fill="#87ff78"/>
<rect x="1211.5" y="1237.6" width="14.6" height="7.6" fill="#b9f541"/>
<rect x="1225.5" y="1237.6" width="7.6" height="7.6" fill="#aff54b"/>
<rect x="1232.5" y="1237.6" width="7.6" height="7.6" fill="#a5fa55"/>
<rect x="1239.5" y="1237.6" width="7.6" height="7.6" fill="#9bfa5f"/>
<rect x="1246.5" y="1237.6" width="7.6" height="7.6" fill="#91fa6e"/>
<rect x="1253.5" y="1237.6" width="7.6" height="7.6" fill="#87ff78"/>
<rect x="1260.5" y="1237.6" width="7.6" height="7.6" fill="#7dff87"/>
<rect x="1267.5" y="1237.6" width="7.6" height="7.6" fill="#78ff96"/>
<rect x="1274.5" y="1237.6" width="7.6" height="7.6" fill="#73ffa5"/>
<rect x="1281.5" y="1237.6" width="7.6" height="7.6" fill="#6effb4"/>
<rect x="1288.5" y="1237.6" width="7.6" height="7.6" fill="#69ffc3"/>
<rect x="1295.5" y="1237.6" width="7.6" height="7.6" fill="#64ffcd"/>
<rect x="1302.5" y="1237.6" width="7.6" height="7.6" fill="#5fffdc"/>
<rect x="1309.5" y="1237.6" width="7.6" height="7.6" fill="#5fffe6"/>
<rect x="1316.5" y="1237.6" width="7.6" height="7.6" fill="#5afff5"/>
<rect x="1323.5" y="1237.6" width="7.6" height="7.6" fill="#55ffff"/>
<rect x="1330.5" y="1237.6" width="7.6" height="7.6" fill="#50f5ff"/>
<rect x="1337.5" y="1237.6" width="7.6" height="7.6" fill="#4bebff"/>
<rect x="1344.5" y="1237.6" width="7.6" height="7.6" fill="#4be6ff"/>
<rect x="1351.5" y="1237.6" width="7.6" height="7.6" fill="#46e1ff"/>
<rect x="1358.5" y="1237.6" width="14.6" height="7.6" fill="#46dcff"/>
<rect x="1372.5" y="1237.6" width="7.6" height="7.6" fill="#46e1ff"/>
<rect x="1379.5" y="1237.6" width="7.6" height="7.6" fill="#4be6ff"/>
<rect x="1386.5" y="1237.6" width="7.6" height="7.6" fill="#4bebff"/>
<rect x="1393.5" y="1237.6" width="7.6" height="7.6" fill="#50f0ff"/>
<rect x="1400.5" y="1237.6" width="7.6" height="7.6" fill="#50f5ff"/>
<rect x="1407.5" y="1237.6" width="7.6" height="7.6" fill="#55ffff"/>
<rect x="1414.5" y="1237.6" width="7.6" height="7.6" fill="#5afff5"/>
<rect x="1421.5" y="1237.6" width="7.6" height="7.6" fill="#5afff0"/>
<rect x="1428.5" y="1237.6" width="7.6" height="7.6" fill="#5fffe6"/>
<rect x="1435.5" y="1237.6" width="7.6" height="7.6" fill="#64ffd7"/>
<rect x="1442.5" y="1237.6" width="7.6" height="7.6" fill="#69ffc8"/>
<rect x="1449.5" y="1237.6" width="7.6" height="7.6" fill="#6effbe"/>
<rect x="1456.5" y="1237.6" width="7.6" height="7.6" fill="#73ffaf"/>
<rect x="1463.5" y="1237.6" width="7.6" height="7.6" fill="#78ffa0"/>
<rect x="1470.5" y="1237.6" width="7.6" height="7.6" fill="#7dff91"/>
<rect x="1477.5" y="1237.6" width="7.6" height="7.6" fill="#7dff82"/>
<rect x="1484.5" y="1237.6" width="14.6" height="7.6" fill="#87ff78"/>
<rect x="1211.5" y="1244.6" width="14.6" height="7.6" fill="#b9f541"/>
<rect x="1225.5" y="1244.6" width="7.6" height="7.6" fill="#aff54b"/>
<rect x="1232.5" y="1244.6" width="7.6" height="7.6" fill="#a5fa55"/>
<rect x="1239.5" y="1244.6" width="7.6" height="7.6" fill="#a0fa5f"/>
<rect x="1246.5" y="1244.6" width="7.6" height="7.6" fill="#91fa69"/>
<rect x="1253.5" y="1244.6" width="7.6" height="7.6" fill="#87ff78"/>
<rect x="1260.5" y="1244.6" width="7.6" height="7.6" fill="#7dff82"/>
<rect x="1267.5" y="1244.6" width="7.6" height="7.6" fill="#78ff91"/>
<rect x="1274.5" y="1244.6" width="7.6" height="7.6" fill="#73ffa0"/>
<rect x="1281.5" y="1244.6" width="7.6" height="7.6" fill="#6effaf"/>
<rect x="1288.5" y="1244.6" width="7.6" height="7.6" fill="#69ffbe"/>
<rect x="1295.5" y="1244.6" width="7.6" height="7.6" fill="#64ffcd"/>
<rect x="1302.5" y="1244.6" width="7.6" height="7.6" fill="#64ffd7"/>
<rect x="1309.5" y="1244.6" width="7.6" height="7.6" fill="#5fffe6"/>
<rect x="1316.5" y="1244.6" width="7.6" height="7.6" fill="#5afff0"/>
<rect x="1323.5" y="1244.6" width="7.6" height="7.6" fill="#55fffa"/>
<rect x="1330.5" y="1244.6" width="7.6" height="7.6" fill="#50faff"/>
<rect x="1337.5" y="1244.6" width="7.6" height="7.6" fill="#50f0ff"/>
<rect x="1344.5" y="1244.6" width="7.6" height="7.6" fill="#4bebff"/>
<rect x="1351.5" y="1244.6" width="7.6" height="7.6" fill="#4be6ff"/>
<rect x="1358.5" y="1244.6" width="14.6" height="7.6" fill="#46e1ff"/>
<rect x="1372.5" y="1244.6" width="7.6" height="7.6" fill="#4be6ff"/>
<rect x="1379.5" y="1244.6" width="7.6" height="7.6" fill="#4bebff"/>
<rect x="1386.5" y="1244.6" width="7.6" height="7.6" fill="#50f0ff"/>
<rect x="1393.5" y="1244.6" width="7.6" height="7.6" fill="#50faff"/>
<rect x="1400.5" y="1244.6" width="7.6" height="7.6" fill="#55ffff"/>
<rect x="1407.5" y="1244.6" width="7.6" height="7.6" fill="#55fffa"/>
<rect x="1414.5" y="1244.6" width="7.6" height="7.6" fill="#5afff0"/>
<rect x="1421.5" y="1244.6" width="7.6" height="7.6" fill="#5affeb"/>
<rect x="1428.5" y="1244.6" width="7.6" height="7.6" fill="#5fffe1"/>
<rect x="1435.5" y="1244.6" width="7.6" height="7.6" fill="#64ffd2"/>
<rect x="1442.5" y="1244.6" width="7.6" height="7.6" fill="#69ffc8"/>
<rect x="1449.5" y="1244.6" width="7.6" height="7.6" fill="#6effb9"/>
<rect x="1456.5" y="1244.6" width="7.6" height="7.6" fill="#73ffaa"/>
<rect x="1463.5" y="1244.6" width="7.6" height="7.6" fill="#78ff9b"/>
<rect x="1470.5" y="1244.6" width="7.6" height="7.6" fill="#7dff8c"/>
<rect x="1477.5" y="1244.6" width="7.6" height="7.6" fill="#82ff82"/>
<rect x="1484.5" y="1244.6" width="14.6" height="7.6" fill="#87ff78"/>
<rect x="1211.5" y="1251.6" width="14.6" height="7.6" fill="#b4f546"/>
<rect x="1225.5" y="1251.6" width="7.6" height="7.6" fill="#aff54b"/>
<rect x="1232.5" y="1251.6" width="7.6" height="7.6" fill="#aafa55"/>
<rect x="1239.5" y="1251.6" width="7.6" height="7.6" fill="#a0fa5f"/>
<rect x="1246.5" y="1251.6" width="7.6" height="7.6" fill="#96fa69"/>
<rect x="1253.5" y="1251.6" width="7.6" height="7.6" fill="#8cff73"/>
<rect x="1260.5" y="1251.6" width="7.6" height="7.6" fill="#82ff82"/>
<rect x="1267.5" y="1251.6" width="7.6" height="7.6" fill="#7dff91"/>
<rect x="1274.5" y="1251.6" width="7.6" height="7.6" fill="#78ff9b"/>
<rect x="1281.5" y="1251.6" width="7.6" height="7.6" fill="#73ffaa"/>
<rect x="1288.5" y="1251.6" width="7.6" height="7.6" fill="#6effb9"/>
<rect x="1295.5" y="1251.6" width="7.6" height="7.6" fill="#69ffc8"/>
<rect x="1302.5" y="1251.6" width="7.6" height="7.6" fill="#64ffd7"/>
<rect x="1309.5" y="1251.6" width="7.6" height="7.6" fill="#5fffe1"/>
<rect x="1316.5" y="1251.6" width="7.6" height="7.6" fill="#5afff0"/>
<rect x="1323.5" y="1251.6" width="7.6" height="7.6" fill="#55fffa"/>
<rect x="1330.5" y="1251.6" width="7.6" height="7.6" fill="#55faff"/>
<rect x="1337.5" y="1251.6" width="7.6" height="7.6" fill="#50f5ff"/>
<rect x="1344.5" y="1251.6" width="7.6" height="7.6" fill="#4bebff"/>
<rect x="1351.5" y="1251.6" width="21.6" height="7.6" fill="#4be6ff"/>
<rect x="1372.5" y="1251.6" width="7.6" height="7.6" fill="#4bebff"/>
<rect x="1379.5" y="1251.6" width="7.6" height="7.6" fill="#50f0ff"/>
<rect x="1386.5" y="1251.6" width="7.6" height="7.6" fill="#50f5ff"/>
<rect x="1393.5" y="1251.6" width="7.6" height="7.6" fill="#55ffff"/>
<rect x="1400.5" y="1251.6" width="7.6" height="7.6" fill="#55fffa"/>
<rect x="1407.5" y="1251.6" width="7.6" height="7.6" fill="#5afff0"/>
<rect x="1414.5" y="1251.6" width="7.6" height="7.6" fill="#5affeb"/>
<rect x="1421.5" y="1251.6" width="7.6" height="7.6" fill="#5fffe6"/>
<rect x="1428.5" y="1251.6" width="7.6" height="7.6" fill="#5fffdc"/>
<rect x="1435.5" y="1251.6" width="7.6" height="7.6" fill="#64ffd2"/>
<rect x="1442.5" y="1251.6" width="7.6" height="7.6" fill="#69ffc3"/>
<rect x="1449.5" y="1251.6" width="7.6" height="7.6" fill="#6effb4"/>
<rect x="1456.5" y="1251.6" width="7.6" height="7.6" fill="#73ffa5"/>
<rect x="1463.5" y="1251.6" width="7.6" height="7.6" fill="#78ff9b"/>
<rect x="1470.5" y="1251.6" width="7.6" height="7.6" fill="#7dff8c"/>
<rect x="1477.5" y="1251.6" width="7.6" height="7.6" fill="#82ff7d"/>
<rect x="1484.5" y="1251.6" width="7.6" height="7.6" fill="#87ff78"/>
<rect x="1218.5" y="1258.6" width="7.6" height="7.6" fill="#b4f546"/>
<rect x="1225.5" y="1258.6" width="7.6" height="7.6" fill="#aff54b"/>
<rect x="1232.5" y="1258.6" width="7.6" height="7.6" fill="#aafa55"/>
<rect x="1239.5" y="1258.6" width="7.6" height="7.6" fill="#a0fa5f"/>
<rect x="1246.5" y="1258.6" width="7.6" height="7.6" fill="#96fa69"/>
<rect x="1253.5" y="1258.6" width="7.6" height="7.6" fill="#8cff73"/>
<rect x="1260.5" y="1258.6" width="7.6" height="7.6" fill="#82ff7d"/>
<rect x="1267.5" y="1258.6" width="7.6" height="7.6" fill="#7dff8c"/>
<rect x="1274.5" y="1258.6" width="7.6" height="7.6" fill="#78ff9b"/>
<rect x="1281.5" y="1258.6" width="7.6" height="7.6" fill="#73ffaa"/>
<rect x="1288.5" y="1258.6" width="7.6" height="7.6" fill="#6effb9"/>
<rect x="1295.5" y="1258.6" width="7.6" height="7.6" fill="#69ffc8"/>
<rect x="1302.5" y="1258.6" width="7.6" height="7.6" fill="#64ffd2"/>
<rect x="1309.5" y="1258.6" width="7.6" height="7.6" fill="#5fffe1"/>
<rect x="1316.5" y="1258.6" width="7.6" height="7.6" fill="#5affeb"/>
<rect x="1323.5" y="1258.6" width="7.6" height="7.6" fill="#5afff5"/>
<rect x="1330.5" y="1258.6" width="7.6" height="7.6" fill="#55ffff"/>
<rect x="1337.5" y="1258.6" width="7.6" height="7.6" fill="#50f5ff"/>
<rect x="1344.5" y="1258.6" width="7.6" height="7.6" fill="#50f0ff"/>
<rect x="1351.5" y="1258.6" width="7.6" height="7.6" fill="#4bebff"/>
<rect x="1358.5" y="1258.6" width="7.6" height="7.6" fill="#4be6ff"/>
<rect x="1365.5" y="1258.6" width="14.6" height="7.6" fill="#4bebff"/>
<rect x="1379.5" y="1258.6" width="7.6" height="7.6" fill="#50f5ff"/>
<rect x="1386.5" y="1258.6" width="7.6" height="7.6" fill="#55faff"/>
<rect x="1393.5" y="1258.6" width="7.6" height="7.6" fill="#55fffa"/>
<rect x="1400.5" y="1258.6" width="7.6" height="7.6" fill="#5afff0"/>
<rect x="1407.5" y="1258.6" width="7.6" height="7.6" fill="#5affeb"/>
<rect x="1414.5" y="1258.6" width="7.6" height="7.6" fill="#5fffe6"/>
<rect x="1421.5" y="1258.6" width="7.6" height="7.6" fill="#5fffe1"/>
<rect x="1428.5" y="1258.6" width="7.6" height="7.6" fill="#64ffd7"/>
<rect x="1435.5" y="1258.6" width="7.6" height="7.6" fill="#64ffcd"/>
<rect x="1442.5" y="1258.6" width="7.6" height="7.6" fill="#69ffbe"/>
<rect x="1449.5" y="1258.6" width="7.6" height="7.6" fill="#6effaf"/>
<rect x="1456.5" y="1258.6" width="7.6" height="7.6" fill="#73ffa5"/>
<rect x="1463.5" y="1258.6" width="7.6" height="7.6" fill="#78ff96"/>
<rect x="1470.5" y="1258.6" width="7.6" height="7.6" fill="#7dff87"/>
<rect x="1477.5" y="1258.6" width="7.6" height="7.6" fill="#82ff7d"/>
<rect x="1484.5" y="1258.6" width="7.6" height="7.6" fill="#87ff78"/>
<rect x="1218.5" y="1265.6" width="14.6" height="7.6" fill="#aff54b"/>
<rect x="1232.5" y="1265.6" width="7.6" height="7.6" fill="#aafa55"/>
<rect x="1239.5" y="1265.6" width="7.6" height="7.6" fill="#a0fa5f"/>
<rect x="1246.5" y="1265.6" width="7.6" height="7.6" fill="#96fa64"/>
<rect x="1253.5" y="1265.6" width="7.6" height="7.6" fill="#8cff6e"/>
<rect x="1260.5" y="1265.6" width="7.6" height="7.6" fill="#82ff7d"/>
<rect x="1267.5" y="1265.6" width="7.6" height="7.6" fill="#7dff87"/>
<rect x="1274.5" y="1265.6" width="7.6" height="7.6" fill="#78ff96"/>
<rect x="1281.5" y="1265.6" width="7.6" height="7.6" fill="#73ffa5"/>
<rect x="1288.5" y="1265.6" width="7.6" height="7.6" fill="#6effb4"/>
<rect x="1295.5" y="1265.6" width="7.6" height="7.6" fill="#69ffc3"/>
<rect x="1302.5" y="1265.6" width="7.6" height="7.6" fill="#64ffd2"/>
<rect x="1309.5" y="1265.6" width="7.6" height="7.6" fill="#5fffdc"/>
<rect x="1316.5" y="1265.6" width="7.6" height="7.6" fill="#5affeb"/>
<rect x="1323.5" y="1265.6" width="7.6" height="7.6" fill="#5afff5"/>
<rect x="1330.5" y="1265.6" width="7.6" height="7.6" fill="#55fffa"/>
<rect x="1337.5" y="1265.6" width="7.6" height="7.6" fill="#50faff"/>
<rect x="1344.5" y="1265.6" width="7.6" height="7.6" fill="#50f0ff"/>
<rect x="1351.5" y="1265.6" width="21.6" height="7.6" fill="#4bebff"/>
<rect x="1372.5" y="1265.6" width="7.6" height="7.6" fill="#50f0ff"/>
<rect x="1379.5" y="1265.6" width="7.6" height="7.6" fill="#50faff"/>
<rect x="1386.5" y="1265.6" width="7.6" height="7.6" fill="#55ffff"/>
<rect x="1393.5" y="1265.6" width="7.6" height="7.6" fill="#5afff5"/>
<rect x="1400.5" y="1265.6" width="7.6" height="7.6" fill="#5afff0"/>
<rect x="1407.5" y="1265.6" width="7.6" height="7.6" fill="#5fffe6"/>
<rect x="1414.5" y="1265.6" width="7.6" height="7.6" fill="#5fffe1"/>
<rect x="1421.5" y="1265.6" width="7.6" height="7.6" fill="#64ffdc"/>
<rect x="1428.5" y="1265.6" width="7.6" height="7.6" fill="#64ffd2"/>
<rect x="1435.5" y="1265.6" width="7.6" height="7.6" fill="#69ffc3"/>
<rect x="1442.5" y="1265.6" width="7.6" height="7.6" fill="#6effb9"/>
<rect x="1449.5" y="1265.6" width="7.6" height="7.6" fill="#73ffaa"/>
<rect x="1456.5" y="1265.6" width="7.6" height="7.6" fill="#78ffa0"/>
<rect x="1463.5" y="1265.6" width="7.6" height="7.6" fill="#78ff91"/>
<rect x="1470.5" y="1265.6" width="7.6" height="7.6" fill="#7dff87"/>
<rect x="1477.5" y="1265.6" width="14.6" height="7.6" fill="#87ff78"/>
<rect x="1218.5" y="1272.6" width="14.6" height="7.6" fill="#aff54b"/>
<rect x="1232.5" y="1272.6" width="7.6" height="7.6" fill="#aafa55"/>
<rect x="1239.5" y="1272.6" width="7.6" height="7.6" fill="#a0fa5a"/>
<rect x="1246.5" y="1272.6" width="7.6" height="7.6" fill="#9bfa64"/>
<rect x="1253.5" y="1272.6" width="7.6" height="7.6" fill="#91fa6e"/>
<rect x="1260.5" y="1272.6" width="7.6" height="7.6" fill="#87ff78"/>
<rect x="1267.5" y="1272.6" width="7.6" height="7.6" fill="#7dff87"/>
<rect x="1274.5" y="1272.6" width="7.6" height="7.6" fill="#78ff96"/>
<rect x="1281.5" y="1272.6" width="7.6" height="7.6" fill="#73ffa5"/>
<rect x="1288.5" y="1272.6" width="7.6" height="7.6" fill="#6effb4"/>
<rect x="1295.5" y="1272.6" width="7.6" height="7.6" fill="#69ffc3"/>
<rect x="1302.5" y="1272.6" width="7.6" height="7.6" fill="#64ffd2"/>
<rect x="1309.5" y="1272.6" width="7.6" height="7.6" fill="#5fffdc"/>
<rect x="1316.5" y="1272.6" width="7.6" height="7.6" fill="#5fffe6"/>
<rect x="1323.5" y="1272.6" width="7.6" height="7.6" fill="#5afff0"/>
<rect x="1330.5" y="1272.6" width="7.6" height="7.6" fill="#55fffa"/>
<rect x="1337.5" y="1272.6" width="7.6" height="7.6" fill="#55faff"/>
<rect x="1344.5" y="1272.6" width="7.6" height="7.6" fill="#50f5ff"/>
<rect x="1351.5" y="1272.6" width="21.6" height="7.6" fill="#50f0ff"/>
<rect x="1372.5" y="1272.6" width="7.6" height="7.6" fill="#50f5ff"/>
<rect x="1379.5" y="1272.6" width="7.6" height="7.6" fill="#55faff"/>
<rect x="1386.5" y="1272.6" width="7.6" height="7.6" fill="#55fffa"/>
<rect x="1393.5" y="1272.6" width="7.6" height="7.6" fill="#5afff5"/>
<rect x="1400.5" y="1272.6" width="7.6" height="7.6" fill="#5affeb"/>
<rect x="1407.5" y="1272.6" width="7.6" height="7.6" fill="#5fffe1"/>
<rect x="1414.5" y="1272.6" width="7.6" height="7.6" fill="#5fffdc"/>
<rect x="1421.5" y="1272.6" width="7.6" height="7.6" fill="#64ffd2"/>
<rect x="1428.5" y="1272.6" width="7.6" height="7.6" fill="#69ffc8"/>
<rect x="1435.5" y="1272.6" width="7.6" height="7.6" fill="#69ffbe"/>
<rect x="1442.5" y="1272.6" width="7.6" height="7.6" fill="#6effb4"/>
<rect x="1449.5" y="1272.6" width="7.6" height="7.6" fill="#73ffa5"/>
<rect x="1456.5" y="1272.6" width="7.6" height="7.6" fill="#78ff9b"/>
<rect x="1463.5" y="1272.6" width="7.6" height="7.6" fill="#7dff8c"/>
<rect x="1470.5" y="1272.6" width="7.6" height="7.6" fill="#82ff82"/>
<rect x="1477.5" y="1272.6" width="14.6" height="7.6" fill="#87ff78"/>
<rect x="1225.5" y="1279.6" width="7.6" height="7.6" fill="#aaf550"/>
<rect x="1232.5" y="1279.6" width="7.6" height="7.6" fill="#aafa50"/>
<rect x="1239.5" y="1279.6" width="7.6" height="7.6" fill="#a5fa5a"/>
<rect x="1246.5" y="1279.6" width="7.6" height="7.6" fill="#9bfa5f"/>
<rect x="1253.5" y="1279.6" width="7.6" height="7.6" fill="#96fa69"/>
<rect x="1260.5" y="1279.6" width="7.6" height="7.6" fill="#8cff73"/>
<rect x="1267.5" y="1279.6" width="7.6" height="7.6" fill="#7dff82"/>
<rect x="1274.5" y="1279.6" width="7.6" height="7.6" fill="#78ff91"/>
<rect x="1281.5" y="1279.6" width="7.6" height="7.6" fill="#73ffa0"/>
<rect x="1288.5" y="1279.6" width="7.6" height="7.6" fill="#6effaf"/>
<rect x="1295.5" y="1279.6" width="7.6" height="7.6" fill="#69ffbe"/>
<rect x="1302.5" y="1279.6" width="7.6" height="7.6" fill="#64ffcd"/>
<rect x="1309.5" y="1279.6" width="7.6" height="7.6" fill="#5fffdc"/>
<rect x="1316.5" y="1279.6" width="7.6" height="7.6" fill="#5fffe6"/>
<rect x="1323.5" y="1279.6" width="7.6" height="7.6" fill="#5afff0"/>
<rect x="1330.5" y="1279.6" width="7.6" height="7.6" fill="#5afff5"/>
<rect x="1337.5" y="1279.6" width="7.6" height="7.6" fill="#55ffff"/>
<rect x="1344.5" y="1279.6" width="7.6" height="7.6" fill="#55faff"/>
<rect x="1351.5" y="1279.6" width="14.6" height="7.6" fill="#50f5ff"/>
<rect x="1365.5" y="1279.6" width="7.6" height="7.6" fill="#50faff"/>
<rect x="1372.5" y="1279.6" width="7.6" height="7.6" fill="#55faff"/>
<rect x="1379.5" y="1279.6" width="7.6" height="7.6" fill="#55ffff"/>
<rect x="1386.5" y="1279.6" width="7.6" height="7.6" fill="#5afff5"/>
<rect x="1393.5" y="1279.6" width="7.6" height="7.6" fill="#5afff0"/>
<rect x="1400.5" y="1279.6" width="7.6" height="7.6" fill="#5fffe6"/>
<rect x="1407.5" y="1279.6" width="7.6" height="7.6" fill="#5fffdc"/>
<rect x="1414.5" y="1279.6" width="7.6" height="7.6" fill="#64ffd7"/>
<rect x="1421.5" y="1279.6" width="7.6" height="7.6" fill="#64ffcd"/>
<rect x="1428.5" y="1279.6" width="7.6" height="7.6" fill="#69ffc3"/>
<rect x="1435.5" y="1279.6" width="7.6" height="7.6" fill="#6effb9"/>
<rect x="1442.5" y="1279.6" width="7.6" height="7.6" fill="#73ffaa"/>
<rect x="1449.5" y="1279.6" width="7.6" height="7.6" fill="#73ffa0"/>
<rect x="1456.5" y="1279.6" width="7.6" height="7.6" fill="#78ff91"/>
<rect x="1463.5" y="1279.6" width="7.6" height="7.6" fill="#7dff87"/>
<rect x="1470.5" y="1279.6" width="7.6" height="7.6" fill="#82ff7d"/>
<rect x="1477.5" y="1279.6" width="7.6" height="7.6" fill="#87ff7d"/>
<rect x="1225.5" y="1286.6" width="14.6" height="7.6" fill="#aaf550"/>
<rect x="1239.5" y="1286.6" width="7.6" height="7.6" fill="#a5fa55"/>
<rect x="1246.5" y="1286.6" width="7.6" height="7.6" fill="#a0fa5f"/>
<rect x="1253.5" y="1286.6" width="7.6" height="7.6" fill="#96fa64"/>
<rect x="1260.5" y="1286.6" width="7.6" height="7.6" fill="#8cff73"/>
<rect x="1267.5" y="1286.6" width="7.6" height="7.6" fill="#82ff82"/>
<rect x="1274.5" y="1286.6" width="7.6" height="7.6" fill="#7dff91"/>
<rect x="1281.5" y="1286.6" width="7.6" height="7.6" fill="#78ffa0"/>
<rect x="1288.5" y="1286.6" width="7.6" height="7.6" fill="#6effaf"/>
<rect x="1295.5" y="1286.6" width="7.6" height="7.6" fill="#69ffbe"/>
<rect x="1302.5" y="1286.6" width="7.6" height="7.6" fill="#64ffcd"/>
<rect x="1309.5" y="1286.6" width="7.6" height="7.6" fill="#64ffd7"/>
<rect x="1316.5" y="1286.6" width="7.6" height="7.6" fill="#5fffe6"/>
<rect x="1323.5" y="1286.6" width="7.6" height="7.6" fill="#5affeb"/>
<rect x="1330.5" y="1286.6" width="7.6" height="7.6" fill="#5afff5"/>
<rect x="1337.5" y="1286.6" width="7.6" height="7.6" fill="#55fffa"/>
<rect x="1344.5" y="1286.6" width="35.6" height="7.6" fill="#55ffff"/>
<rect x="1379.5" y="1286.6" width="7.6" height="7.6" fill="#55fffa"/>
<rect x="1386.5" y="1286.6" width="7.6" height="7.6" fill="#5afff5"/>
<rect x="1393.5" y="1286.6" width="7.6" height="7.6" fill="#5affeb"/>
<rect x="1400.5" y="1286.6" width="7.6" height="7.6" fill="#5fffe1"/>
<rect x="1407.5" y="1286.6" width="7.6" height="7.6" fill="#64ffd7"/>
<rect x="1414.5" y="1286.6" width="7.6" height="7.6" fill="#64ffcd"/>
<rect x="1421.5" y="1286.6" width="7.6" height="7.6" fill="#69ffc3"/>
<rect x="1428.5" y="1286.6" width="7.6" height="7.6" fill="#6effb9"/>
<rect x="1435.5" y="1286.6" width="7.6" height="7.6" fill="#6effaf"/>
<rect x="1442.5" y="1286.6" width="7.6" height="7.6" fill="#73ffa5"/>
<rect x="1449.5" y="1286.6" width="7.6" height="7.6" fill="#78ff9b"/>
<rect x="1456.5" y="1286.6" width="7.6" height="7.6" fill="#7dff8c"/>
<rect x="1463.5" y="1286.6" width="7.6" height="7.6" fill="#7dff82"/>
<rect x="1470.5" y="1286.6" width="14.6" height="7.6" fill="#82ff7d"/>
<rect x="1232.5" y="1293.6" width="7.6" height="7.6" fill="#aafa50"/>
<rect x="1239.5" y="1293.6" width="7.6" height="7.6" fill="#aafa55"/>
<rect x="1246.5" y="1293.6" width="7.6" height="7.6" fill="#a0fa5a"/>
<rect x="1253.5" y="1293.6" width="7.6" height="7.6" fill="#9bfa64"/>
<rect x="1260.5" y="1293.6" width="7.6" height="7.6" fill="#91fa6e"/>
<rect x="1267.5" y="1293.6" width="7.6" height="7.6" fill="#82ff7d"/>
<rect x="1274.5" y="1293.6" width="7.6" height="7.6" fill="#7dff8c"/>
<rect x="1281.5" y="1293.6" width="7.6" height="7.6" fill="#78ff9b"/>
<rect x="1288.5" y="1293.6" width="7.6" height="7.6" fill="#73ffaa"/>
<rect x="1295.5" y="1293.6" width="7.6" height="7.6" fill="#6effb9"/>
<rect x="1302.5" y="1293.6" width="7.6" height="7.6" fill="#69ffc8"/>
<rect x="1309.5" y="1293.6" width="7.6" height="7.6" fill="#64ffd7"/>
<rect x="1316.5" y="1293.6" width="7.6" height="7.6" fill="#5fffe1"/>
<rect x="1323.5" y="1293.6" width="7.6" height="7.6" fill="#5affeb"/>
<rect x="1330.5" y="1293.6" width="7.6" height="7.6" fill="#5afff0"/>
<rect x="1337.5" y="1293.6" width="14.6" height="7.6" fill="#5afff5"/>
<rect x="1351.5" y="1293.6" width="21.6" height="7.6" fill="#55fffa"/>
<rect x="1372.5" y="1293.6" width="14.6" height="7.6" fill="#5afff5"/>
<rect x="1386.5" y="1293.6" width="7.6" height="7.6" fill="#5affeb"/>
<rect x="1393.5" y="1293.6" width="7.6" height="7.6" fill="#5fffe6"/>
<rect x="1400.5" y="1293.6" width="7.6" height="7.6" fill="#5fffdc"/>
<rect x="1407.5" y="1293.6" width="7.6" height="7.6" fill="#64ffd2"/>
<rect x="1414.5" y="1293.6" width="7.6" height="7.6" fill="#69ffc8"/>
<rect x="1421.5" y="1293.6" width="7.6" height="7.6" fill="#69ffbe"/>
<rect x="1428.5" y="1293.6" width="7.6" height="7.6" fill="#6effb4"/>
<rect x="1435.5" y="1293.6" width="7.6" height="7.6" fill="#73ffaa"/>
<rect x="1442.5" y="1293.6" width="7.6" height="7.6" fill="#78ff9b"/>
<rect x="1449.5" y="1293.6" width="7.6" height="7.6" fill="#78ff91"/>
<rect x="1456.5" y="1293.6" width="7.6" height="7.6" fill="#7dff87"/>
<rect x="1463.5" y="1293.6" width="14.6" height="7.6" fill="#82ff7d"/>
<rect x="1232.5" y="1300.6" width="7.6" height="7.6" fill="#aafa50"/>
<rect x="1239.5" y="1300.6" width="7.6" height="7.6" fill="#aafa55"/>
<rect x="1246.5" y="1300.6" width="7.6" height="7.6" fill="#a5fa5a"/>
<rect x="1253.5" y="1300.6" width="7.6" height="7.6" fill="#9bfa5f"/>
<rect x="1260.5" y="1300.6" width="7.6" height="7.6" fill="#91fa6e"/>
<rect x="1267.5" y="1300.6" width="7.6" height="7.6" fill="#87ff7d"/>
<rect x="1274.5" y="1300.6" width="7.6" height="7.6" fill="#7dff8c"/>
<rect x="1281.5" y="1300.6" width="7.6" height="7.6" fill="#78ff9b"/>
<rect x="1288.5" y="1300.6" width="7.6" height="7.6" fill="#73ffa5"/>
<rect x="1295.5" y="1300.6" width="7.6" height="7.6" fill="#6effb4"/>
<rect x="1302.5" y="1300.6" width="7.6" height="7.6" fill="#69ffc3"/>
<rect x="1309.5" y="1300.6" width="7.6" height="7.6" fill="#64ffd2"/>
<rect x="1316.5" y="1300.6" width="7.6" height="7.6" fill="#5fffdc"/>
<rect x="1323.5" y="1300.6" width="7.6" height="7.6" fill="#5fffe6"/>
<rect x="1330.5" y="1300.6" width="14.6" height="7.6" fill="#5affeb"/>
<rect x="1344.5" y="1300.6" width="35.6" height="7.6" fill="#5afff0"/>
<rect x="1379.5" y="1300.6" width="7.6" height="7.6" fill="#5affeb"/>
<rect x="1386.5" y="1300.6" width="7.6" height="7.6" fill="#5fffe6"/>
<rect x="1393.5" y="1300.6" width="7.6" height="7.6" fill="#5fffe1"/>
<rect x="1400.5" y="1300.6" width="7.6" height="7.6" fill="#64ffd7"/>
<rect x="1407.5" y="1300.6" width="7.6" height="7.6" fill="#64ffcd"/>
<rect x="1414.5" y="1300.6" width="7.6" height="7.6" fill="#69ffc3"/>
<rect x="1421.5" y="1300.6" width="7.6" height="7.6" fill="#6effb4"/>
<rect x="1428.5" y="1300.6" width="7.6" height="7.6" fill="#73ffaa"/>
<rect x="1435.5" y="1300.6" width="7.6" height="7.6" fill="#73ffa0"/>
<rect x="1442.5" y="1300.6" width="7.6" height="7.6" fill="#78ff96"/>
<rect x="1449.5" y="1300.6" width="7.6" height="7.6" fill="#7dff8c"/>
<rect x="1456.5" y="1300.6" width="7.6" height="7.6" fill="#7dff82"/>
<rect x="1463.5" y="1300.6" width="14.6" height="7.6" fill="#82ff7d"/>
<rect x="1239.5" y="1307.6" width="7.6" height="7.6" fill="#a5fa55"/>
<rect x="1246.5" y="1307.6" width="7.6" height="7.6" fill="#a5fa5a"/>
<rect x="1253.5" y="1307.6" width="7.6" height="7.6" fill="#9bfa5f"/>
<rect x="1260.5" y="1307.6" width="7.6" height="7.6" fill="#91fa69"/>
<rect x="1267.5" y="1307.6" width="7.6" height="7.6" fill="#87ff78"/>
<rect x="1274.5" y="1307.6" width="7.6" height="7.6" fill="#7dff87"/>
<rect x="1281.5" y="1307.6" width="7.6" height="7.6" fill="#78ff96"/>
<rect x="1288.5" y="1307.6" width="7.6" height="7.6" fill="#73ffa0"/>
<rect x="1295.5" y="1307.6" width="7.6" height="7.6" fill="#6effaf"/>
<rect x="1302.5" y="1307.6" width="7.6" height="7.6" fill="#69ffbe"/>
<rect x="1309.5" y="1307.6" width="7.6" height="7.6" fill="#69ffc8"/>
<rect x="1316.5" y="1307.6" width="7.6" height="7.6" fill="#64ffd7"/>
<rect x="1323.5" y="1307.6" width="7.6" height="7.6" fill="#5fffdc"/>
<rect x="1330.5" y="1307.6" width="7.6" height="7.6" fill="#5fffe1"/>
<rect x="1337.5" y="1307.6" width="14.6" height="7.6" fill="#5fffe6"/>
<rect x="1351.5" y="1307.6" width="7.6" height="7.6" fill="#5fffeb"/>
<rect x="1358.5" y="1307.6" width="7.6" height="7.6" fill="#5affeb"/>
<rect x="1365.5" y="1307.6" width="14.6" height="7.6" fill="#5fffe6"/>
<rect x="1379.5" y="1307.6" width="7.6" height="7.6" fill="#5fffe1"/>
<rect x="1386.5" y="1307.6" width="7.6" height="7.6" fill="#5fffdc"/>
<rect x="1393.5" y="1307.6" width="7.6" height="7.6" fill="#64ffd7"/>
<rect x="1400.5" y="1307.6" width="7.6" height="7.6" fill="#64ffcd"/>
<rect x="1407.5" y="1307.6" width="7.6" height="7.6" fill="#69ffc3"/>
<rect x="1414.5" y="1307.6" width="7.6" height="7.6" fill="#6effb9"/>
<rect x="1421.5" y="1307.6" width="7.6" height="7.6" fill="#6effaf"/>
<rect x="1428.5" y="1307.6" width="7.6" height="7.6" fill="#73ffa5"/>
<rect x="1435.5" y="1307.6" width="7.6" height="7.6" fill="#78ff9b"/>
<rect x="1442.5" y="1307.6" width="7.6" height="7.6" fill="#78ff91"/>
<rect x="1449.5" y="1307.6" width="7.6" height="7.6" fill="#7dff87"/>
<rect x="1456.5" y="1307.6" width="14.6" height="7.6" fill="#82ff82"/>
<rect x="1246.5" y="1314.6" width="7.6" height="7.6" fill="#a0fa5a"/>
<rect x="1253.5" y="1314.6" width="7.6" height="7.6" fill="#9bfa5f"/>
<rect x="1260.5" y="1314.6" width="7.6" height="7.6" fill="#96fa69"/>
<rect x="1267.5" y="1314.6" width="7.6" height="7.6" fill="#87ff78"/>
<rect x="1274.5" y="1314.6" width="7.6" height="7.6" fill="#7dff82"/>
<rect x="1281.5" y="1314.6" width="7.6" height="7.6" fill="#7dff91"/>
<rect x="1288.5" y="1314.6" width="7.6" height="7.6" fill="#78ff9b"/>
<rect x="1295.5" y="1314.6" width="7.6" height="7.6" fill="#73ffaa"/>
<rect x="1302.5" y="1314.6" width="7.6" height="7.6" fill="#6effb9"/>
<rect x="1309.5" y="1314.6" width="7.6" height="7.6" fill="#69ffc3"/>
<rect x="1316.5" y="1314.6" width="7.6" height="7.6" fill="#64ffcd"/>
<rect x="1323.5" y="1314.6" width="7.6" height="7.6" fill="#64ffd2"/>
<rect x="1330.5" y="1314.6" width="7.6" height="7.6" fill="#64ffd7"/>
<rect x="1337.5" y="1314.6" width="7.6" height="7.6" fill="#5fffdc"/>
<rect x="1344.5" y="1314.6" width="28.6" height="7.6" fill="#5fffe1"/>
<rect x="1372.5" y="1314.6" width="7.6" height="7.6" fill="#5fffdc"/>
<rect x="1379.5" y="1314.6" width="7.6" height="7.6" fill="#64ffdc"/>
<rect x="1386.5" y="1314.6" width="7.6" height="7.6" fill="#64ffd2"/>
<rect x="1393.5" y="1314.6" width="7.6" height="7.6" fill="#64ffcd"/>
<rect x="1400.5" y="1314.6" width="7.6" height="7.6" fill="#69ffc3"/>
<rect x="1407.5" y="1314.6" width="7.6" height="7.6" fill="#6effb9"/>
<rect x="1414.5" y="1314.6" width="7.6" height="7.6" fill="#6effaf"/>
<rect x="1421.5" y="1314.6" width="7.6" height="7.6" fill="#73ffa5"/>
<rect x="1428.5" y="1314.6" width="7.6" height="7.6" fill="#78ffa0"/>
<rect x="1435.5" y="1314.6" width="7.6" height="7.6" fill="#78ff96"/>
<rect x="1442.5" y="1314.6" width="7.6" height="7.6" fill="#7dff8c"/>
<rect x="1449.5" y="1314.6" width="14.6" height="7.6" fill="#7dff82"/>
<rect x="1253.5" y="1321.6" width="7.6" height="7.6" fill="#9bfa64"/>
<rect x="1260.5" y="1321.6" width="7.6" height="7.6" fill="#96fa69"/>
<rect x="1267.5" y="1321.6" width="7.6" height="7.6" fill="#8cff73"/>
<rect x="1274.5" y="1321.6" width="7.6" height="7.6" fill="#82ff7d"/>
<rect x="1281.5" y="1321.6" width="7.6" height="7.6" fill="#7dff8c"/>
<rect x="1288.5" y="1321.6" width="7.6" height="7.6" fill="#78ff96"/>
<rect x="1295.5" y="1321.6" width="7.6" height="7.6" fill="#73ffa5"/>
<rect x="1302.5" y="1321.6" width="7.6" height="7.6" fill="#6effaf"/>
<rect x="1309.5" y="1321.6" width="7.6" height="7.6" fill="#6effb9"/>
<rect x="1316.5" y="1321.6" width="7.6" height="7.6" fill="#69ffc3"/>
<rect x="1323.5" y="1321.6" width="7.6" height="7.6" fill="#69ffcd"/>
<rect x="1330.5" y="1321.6" width="7.6" height="7.6" fill="#64ffd2"/>
<rect x="1337.5" y="1321.6" width="42.6" height="7.6" fill="#64ffd7"/>
<rect x="1379.5" y="1321.6" width="7.6" height="7.6" fill="#64ffd2"/>
<rect x="1386.5" y="1321.6" width="7.6" height="7.6" fill="#69ffcd"/>
<rect x="1393.5" y="1321.6" width="7.6" height="7.6" fill="#69ffc3"/>
<rect x="1400.5" y="1321.6" width="7.6" height="7.6" fill="#6effb9"/>
<rect x="1407.5" y="1321.6" width="7.6" height="7.6" fill="#6effaf"/>
<rect x="1414.5" y="1321.6" width="7.6" height="7.6" fill="#73ffaa"/>
<rect x="1421.5" y="1321.6" width="7.6" height="7.6" fill="#73ffa0"/>
<rect x="1428.5" y="1321.6" width="7.6" height="7.6" fill="#78ff96"/>
<rect x="1435.5" y="1321.6" width="7.6" height="7.6" fill="#7dff8c"/>
<rect x="1442.5" y="1321.6" width="14.6" height="7.6" fill="#7dff87"/>
<rect x="1260.5" y="1328.6" width="7.6" height="7.6" fill="#91fa6e"/>
<rect x="1267.5" y="1328.6" width="7.6" height="7.6" fill="#8cff73"/>
<rect x="1274.5" y="1328.6" width="7.6" height="7.6" fill="#82ff7d"/>
<rect x="1281.5" y="1328.6" width="7.6" height="7.6" fill="#7dff87"/>
<rect x="1288.5" y="1328.6" width="7.6" height="7.6" fill="#78ff91"/>
<rect x="1295.5" y="1328.6" width="7.6" height="7.6" fill="#78ff9b"/>
<rect x="1302.5" y="1328.6" width="7.6" height="7.6" fill="#73ffaa"/>
<rect x="1309.5" y="1328.6" width="7.6" height="7.6" fill="#6effb4"/>
<rect x="1316.5" y="1328.6" width="7.6" height="7.6" fill="#6effb9"/>
<rect x="1323.5" y="1328.6" width="7.6" height="7.6" fill="#69ffc3"/>
<rect x="1330.5" y="1328.6" width="7.6" height="7.6" fill="#69ffc8"/>
<rect x="1337.5" y="1328.6" width="7.6" height="7.6" fill="#64ffcd"/>
<rect x="1344.5" y="1328.6" width="28.6" height="7.6" fill="#64ffd2"/>
<rect x="1372.5" y="1328.6" width="7.6" height="7.6" fill="#64ffcd"/>
<rect x="1379.5" y="1328.6" width="7.6" height="7.6" fill="#69ffc8"/>
<rect x="1386.5" y="1328.6" width="7.6" height="7.6" fill="#69ffc3"/>
<rect x="1393.5" y="1328.6" width="7.6" height="7.6" fill="#6effb9"/>
<rect x="1400.5" y="1328.6" width="7.6" height="7.6" fill="#6effb4"/>
<rect x="1407.5" y="1328.6" width="7.6" height="7.6" fill="#73ffaa"/>
<rect x="1414.5" y="1328.6" width="7.6" height="7.6" fill="#73ffa0"/>
<rect x="1421.5" y="1328.6" width="7.6" height="7.6" fill="#78ff9b"/>
<rect x="1428.5" y="1328.6" width="7.6" height="7.6" fill="#78ff91"/>
<rect x="1435.5" y="1328.6" width="14.6" height="7.6" fill="#7dff8c"/>
<rect x="1267.5" y="1335.6" width="7.6" height="7.6" fill="#87ff78"/>
<rect x="1274.5" y="1335.6" width="7.6" height="7.6" fill="#82ff7d"/>
<rect x="1281.5" y="1335.6" width="7.6" height="7.6" fill="#7dff82"/>
<rect x="1288.5" y="1335.6" width="7.6" height="7.6" fill="#7dff8c"/>
<rect x="1295.5" y="1335.6" width="7.6" height="7.6" fill="#78ff96"/>
<rect x="1302.5" y="1335.6" width="7.6" height="7.6" fill="#73ffa0"/>
<rect x="1309.5" y="1335.6" width="7.6" height="7.6" fill="#73ffaa"/>
<rect x="1316.5" y="1335.6" width="7.6" height="7.6" fill="#6effb4"/>
<rect x="1323.5" y="1335.6" width="7.6" height="7.6" fill="#6effb9"/>
<rect x="1330.5" y="1335.6" width="7.6" height="7.6" fill="#69ffc3"/>
<rect x="1337.5" y="1335.6" width="14.6" height="7.6" fill="#69ffc8"/>
<rect x="1351.5" y="1335.6" width="7.6" height="7.6" fill="#69ffcd"/>
<rect x="1358.5" y="1335.6" width="14.6" height="7.6" fill="#69ffc8"/>
<rect x="1372.5" y="1335.6" width="7.6" height="7.6" fill="#69ffc3"/>
<rect x="1379.5" y="1335.6" width="7.6" height="7.6" fill="#69ffbe"/>
<rect x="1386.5" y="1335.6" width="7.6" height="7.6" fill="#6effb9"/>
<rect x="1393.5" y="1335.6" width="7.6" height="7.6" fill="#6effb4"/>
<rect x="1400.5" y="1335.6" width="7.6" height="7.6" fill="#73ffaa"/>
<rect x="1407.5" y="1335.6" width="7.6" height="7.6" fill="#73ffa5"/>
<rect x="1414.5" y="1335.6" width="7.6" height="7.6" fill="#78ff9b"/>
<rect x="1421.5" y="1335.6" width="7.6" height="7.6" fill="#78ff91"/>
<rect x="1428.5" y="1335.6" width="7.6" height="7.6" fill="#7dff91"/>
<rect x="1435.5" y="1335.6" width="7.6" height="7.6" fill="#7dff8c"/>
<rect x="1274.5" y="1342.6" width="7.6" height="7.6" fill="#82ff7d"/>
<rect x="1281.5" y="1342.6" width="7.6" height="7.6" fill="#7dff82"/>
<rect x="1288.5" y="1342.6" width="7.6" height="7.6" fill="#7dff8c"/>
<rect x="1295.5" y="1342.6" width="7.6" height="7.6" fill="#78ff91"/>
<rect x="1302.5" y="1342.6" width="7.6" height="7.6" fill="#78ff9b"/>
<rect x="1309.5" y="1342.6" width="7.6" height="7.6" fill="#73ffa5"/>
<rect x="1316.5" y="1342.6" width="7.6" height="7.6" fill="#73ffaa"/>
<rect x="1323.5" y="1342.6" width="7.6" height="7.6" fill="#6effb4"/>
<rect x="1330.5" y="1342.6" width="7.6" height="7.6" fill="#6effb9"/>
<rect x="1337.5" y="1342.6" width="14.6" height="7.6" fill="#69ffbe"/>
<rect x="1351.5" y="1342.6" width="14.6" height="7.6" fill="#69ffc3"/>
<rect x="1365.5" y="1342.6" width="7.6" height="7.6" fill="#69ffbe"/>
<rect x="1372.5" y="1342.6" width="14.6" height="7.6" fill="#6effb9"/>
<rect x="1386.5" y="1342.6" width="7.6" height="7.6" fill="#6effaf"/>
<rect x="1393.5" y="1342.6" width="7.6" height="7.6" fill="#73ffaa"/>
<rect x="1400.5" y="1342.6" width="7.6" height="7.6" fill="#73ffa5"/>
<rect x="1407.5" y="1342.6" width="7.6" height="7.6" fill="#78ff9b"/>
<rect x="1414.5" y="1342.6" width="14.6" height="7.6" fill="#78ff96"/>
<rect x="1428.5" y="1342.6" width="7.6" height="7.6" fill="#78ff91"/>
<rect x="1288.5" y="1349.6" width="7.6" height="7.6" fill="#7dff8c"/>
<rect x="1295.5" y="1349.6" width="7.6" height="7.6" fill="#78ff91"/>
<rect x="1302.5" y="1349.6" width="7.6" height="7.6" fill="#78ff96"/>
<rect x="1309.5" y="1349.6" width="7.6" height="7.6" fill="#78ff9b"/>
<rect x="1316.5" y="1349.6" width="7.6" height="7.6" fill="#73ffa5"/>
<rect x="1323.5" y="1349.6" width="7.6" height="7.6" fill="#73ffaa"/>
<rect x="1330.5" y="1349.6" width="7.6" height="7.6" fill="#6effaf"/>
<rect x="1337.5" y="1349.6" width="14.6" height="7.6" fill="#6effb4"/>
<rect x="1351.5" y="1349.6" width="14.6" height="7.6" fill="#6effb9"/>
<rect x="1365.5" y="1349.6" width="14.6" height="7.6" fill="#6effb4"/>
<rect x="1379.5" y="1349.6" width="7.6" height="7.6" fill="#6effaf"/>
<rect x="1386.5" y="1349.6" width="7.6" height="7.6" fill="#73ffaa"/>
<rect x="1393.5" y="1349.6" width="7.6" height="7.6" fill="#73ffa5"/>
<rect x="1400.5" y="1349.6" width="7.6" height="7.6" fill="#73ffa0"/>
<rect x="1407.5" y="1349.6" width="14.6" height="7.6" fill="#78ff9b"/>
<rect x="1302.5" y="1356.6" width="7.6" height="7.6" fill="#78ff9b"/>
<rect x="1309.5" y="1356.6" width="7.6" height="7.6" fill="#78ffa0"/>
<rect x="1316.5" y="1356.6" width="14.6" height="7.6" fill="#73ffa5"/>
<rect x="1330.5" y="1356.6" width="7.6" height="7.6" fill="#73ffaa"/>
<rect x="1337.5" y="1356.6" width="7.6" height="7.6" fill="#73ffaf"/>
<rect x="1344.5" y="1356.6" width="28.6" height="7.6" fill="#6effaf"/>
<rect x="1372.5" y="1356.6" width="7.6" height="7.6" fill="#73ffaf"/>
<rect x="1379.5" y="1356.6" width="14.6" height="7.6" fill="#73ffaa"/>
<rect x="1393.5" y="1356.6" width="7.6" height="7.6" fill="#73ffa5"/>
<rect x="1400.5" y="1356.6" width="7.6" height="7.6" fill="#73ffa0"/>
<rect x="1330.5" y="1363.6" width="7.6" height="7.6" fill="#73ffaa"/>
<rect x="1337.5" y="1363.6" width="7.6" height="7.6" fill="#73ffaf"/>
<rect x="1344.5" y="1363.6" width="28.6" height="7.6" fill="#6effaf"/>
<rect x="1372.5" y="1363.6" width="7.6" height="7.6" fill="#73ffaf"/>
</g>
</g>
<g filter="url(#soft)">
<circle cx="1354.5" cy="1226.6" r="132.7" fill="none" stroke="#000" stroke-width="2.2"/>
<g fill="#06181a">
<circle cx="1313" cy="1099" r="3.3"/><circle cx="1395" cy="1099" r="3.3"/><circle cx="1247" cy="1146.4" r="3.3"/><circle cx="1282" cy="1135.6" r="3.3"/><circle cx="1354" cy="1131.4" r="3.3"/><circle cx="1426.4" cy="1135.6" r="3.3"/><circle cx="1462" cy="1146.4" r="3.3"/><circle cx="1238.4" cy="1180" r="3.3"/><circle cx="1306.4" cy="1176" r="3.3"/><circle cx="1401.6" cy="1176" r="3.3"/><circle cx="1469.6" cy="1180" r="3.3"/><circle cx="1219.5" cy="1224.4" r="3.3"/><circle cx="1260" cy="1225" r="3.3"/><circle cx="1354" cy="1225" r="3.3"/><circle cx="1448" cy="1225" r="3.3"/><circle cx="1488.4" cy="1224.4" r="3.3"/><circle cx="1238.4" cy="1270" r="3.3"/><circle cx="1306.4" cy="1274" r="3.3"/><circle cx="1401.6" cy="1274" r="3.3"/><circle cx="1469.6" cy="1270" r="3.3"/><circle cx="1247" cy="1303.6" r="3.3"/><circle cx="1282" cy="1314.4" r="3.3"/><circle cx="1354" cy="1319" r="3.3"/><circle cx="1426.4" cy="1314.4" r="3.3"/><circle cx="1462" cy="1303.6" r="3.3"/><circle cx="1313" cy="1351" r="3.3"/><circle cx="1395" cy="1351" r="3.3"/>
</g>
</g>
</g>
</g>
<g id="colorbar">
<rect x="1650.5" y="1032.5" width="12.5" height="300.5" fill="url(#jet)"/>
<rect x="1660.5" y="1032.5" width="2.5" height="300.5" fill="#444" opacity="0.75"/>
<line x1="1663" y1="1033.5" x2="1666" y2="1033.5" stroke="#444" stroke-width="2"/>
<line x1="1663" y1="1182.5" x2="1666" y2="1182.5" stroke="#444" stroke-width="2"/>
<line x1="1663" y1="1332" x2="1666" y2="1332" stroke="#444" stroke-width="2"/>
</g>
</svg>
</body></html>
